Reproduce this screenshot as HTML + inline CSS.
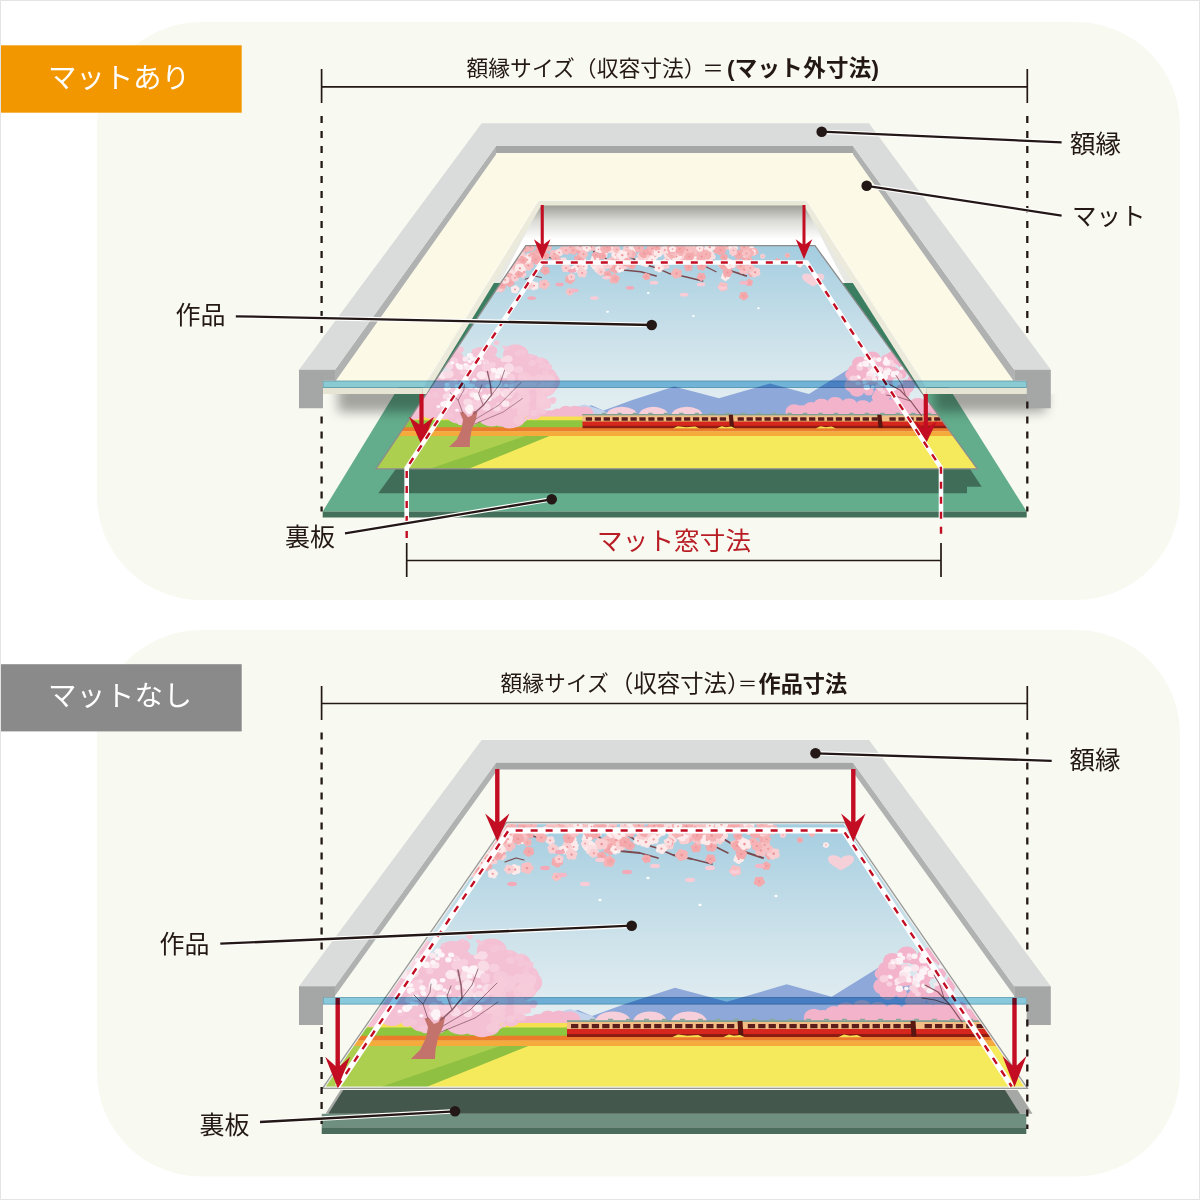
<!DOCTYPE html>
<html><head><meta charset="utf-8"><title>frame</title>
<style>html,body{margin:0;padding:0;width:1200px;height:1200px;overflow:hidden;background:#fff;font-family:"Liberation Sans",sans-serif}svg{display:block}</style>
</head><body>
<svg width="1200" height="1200" viewBox="0 0 1200 1200">
<defs><g id="bl0"><circle cx="0.53" cy="0.00" r="0.5" fill="#f5b3b5"/><circle cx="0.16" cy="0.50" r="0.5" fill="#f5b3b5"/><circle cx="-0.43" cy="0.31" r="0.5" fill="#f5b3b5"/><circle cx="-0.43" cy="-0.31" r="0.5" fill="#f5b3b5"/><circle cx="0.16" cy="-0.50" r="0.5" fill="#f5b3b5"/><circle r="0.22" fill="#ec979b"/></g>
<g id="bl1"><circle cx="0.53" cy="0.00" r="0.5" fill="#f7c0c3"/><circle cx="0.16" cy="0.50" r="0.5" fill="#f7c0c3"/><circle cx="-0.43" cy="0.31" r="0.5" fill="#f7c0c3"/><circle cx="-0.43" cy="-0.31" r="0.5" fill="#f7c0c3"/><circle cx="0.16" cy="-0.50" r="0.5" fill="#f7c0c3"/><circle r="0.22" fill="#ec979b"/></g>
<g id="bl2"><circle cx="0.53" cy="0.00" r="0.5" fill="#f9cfd2"/><circle cx="0.16" cy="0.50" r="0.5" fill="#f9cfd2"/><circle cx="-0.43" cy="0.31" r="0.5" fill="#f9cfd2"/><circle cx="-0.43" cy="-0.31" r="0.5" fill="#f9cfd2"/><circle cx="0.16" cy="-0.50" r="0.5" fill="#f9cfd2"/><circle r="0.22" fill="#ec979b"/></g>
<g id="bl3"><circle cx="0.53" cy="0.00" r="0.5" fill="#fbdfe0"/><circle cx="0.16" cy="0.50" r="0.5" fill="#fbdfe0"/><circle cx="-0.43" cy="0.31" r="0.5" fill="#fbdfe0"/><circle cx="-0.43" cy="-0.31" r="0.5" fill="#fbdfe0"/><circle cx="0.16" cy="-0.50" r="0.5" fill="#fbdfe0"/><circle r="0.22" fill="#ec979b"/></g>
<g id="bl4"><circle cx="0.53" cy="0.00" r="0.5" fill="#fdebeb"/><circle cx="0.16" cy="0.50" r="0.5" fill="#fdebeb"/><circle cx="-0.43" cy="0.31" r="0.5" fill="#fdebeb"/><circle cx="-0.43" cy="-0.31" r="0.5" fill="#fdebeb"/><circle cx="0.16" cy="-0.50" r="0.5" fill="#fdebeb"/><circle r="0.22" fill="#ec979b"/></g>
<g id="bl5"><circle cx="0.53" cy="0.00" r="0.5" fill="#f4a9ac"/><circle cx="0.16" cy="0.50" r="0.5" fill="#f4a9ac"/><circle cx="-0.43" cy="0.31" r="0.5" fill="#f4a9ac"/><circle cx="-0.43" cy="-0.31" r="0.5" fill="#f4a9ac"/><circle cx="0.16" cy="-0.50" r="0.5" fill="#f4a9ac"/><circle r="0.22" fill="#ec979b"/></g>
<clipPath id="win1"><polygon points="538.3,200.3 806.7,200.3 926.7,387.5 422.8,387.5 926.7,394.0 422.8,394.0"/></clipPath>
<linearGradient id="wsh" x1="0" y1="0" x2="0" y2="1"><stop offset="0" stop-color="#9d9d96"/><stop offset="0.45" stop-color="#d9d9d4"/><stop offset="1" stop-color="#fff"/></linearGradient>
<filter id="blur5" x="-30%" y="-100%" width="160%" height="300%"><feGaussianBlur stdDeviation="6"/></filter>
<filter id="blur3" x="-30%" y="-100%" width="160%" height="300%"><feGaussianBlur stdDeviation="3.5"/></filter>
<clipPath id="below1"><rect x="250" y="394" width="900" height="60"/></clipPath></defs>
<rect width="1200" height="1200" fill="#fff"/>
<rect x="97" y="22" width="1083" height="578" rx="104" fill="#f8f9f1"/>
<rect x="97" y="630" width="1083" height="546.5" rx="104" fill="#f8f9f1"/>
<rect x="0" y="45.3" width="241.7" height="67.4" fill="#f39700"/>
<rect x="0" y="664.2" width="241.7" height="67.2" fill="#8a8a8a"/>
<g id="d1">
<line x1="321.6" y1="116.0" x2="321.6" y2="334.0" stroke="#231815" stroke-width="2.3" stroke-dasharray="7 8"/>
<line x1="1027.3" y1="116.0" x2="1027.3" y2="334.0" stroke="#231815" stroke-width="2.3" stroke-dasharray="7 8"/>
<path d="M321.6 69.0V103.0M1027.3 69.0V103.0M321.6 86.8H1027.3" stroke="#231815" stroke-width="1.7" fill="none"/>
<polygon points="335.0,369.7 496.0,146.0 496.0,159.0 335.0,382.7" fill="#b0b2b2" /><polygon points="1014.2,369.7 853.0,146.0 853.0,159.0 1014.2,382.7" fill="#b0b2b2" /><polygon points="496.0,146.0 853.0,146.0 853.0,153.0 496.0,153.0" fill="#a5a7a7" /><polygon points="299.0,369.7 481.7,123.3 869.0,123.3 1050.8,369.7 1014.2,369.7 853.0,146.0 496.0,146.0 335.0,369.7" fill="#dadcdb" />
<polygon points="538.3,200.3 806.7,200.3 930.0,394.0 419.0,394.0" fill="#fff" />
<rect x="520" y="205" width="300" height="34" fill="url(#wsh)" clip-path="url(#win1)"/>
<polygon points="538.3,206.0 540.0,206.0 500.0,283.0 486.0,283.0" fill="#e9e9e4" clip-path="url(#win1)"/>
<polygon points="806.7,206.0 805.0,206.0 845.0,283.0 860.0,283.0" fill="#e9e9e4" clip-path="url(#win1)"/>
<polygon points="322.7,511.5 1026.7,511.5 883.0,283.0 462.4,283.0" fill="#63ad8c" />
<polygon points="322.7,511.5 1026.7,511.5 1026.7,517.5 322.7,517.5" fill="#44705b" />
<polygon points="462.4,283.0 883.0,283.0 960.0,400.0 390.0,400.0" fill="#3a7d60" clip-path="url(#win1)"/>
<polygon points="398.0,466.0 378.3,493.3 967.0,493.3 967.0,486.7 981.7,486.7 968.0,466.0" fill="#3f6d57" />
<g clip-path="url(#below1)">
<rect x="338" y="384" width="92" height="28" fill="#000" opacity="0.34" filter="url(#blur5)"/>
<rect x="934" y="384" width="112" height="28" fill="#000" opacity="0.34" filter="url(#blur5)"/>
</g>
<clipPath id="a1"><polygon points="525.8,245.7 815.0,245.7 977.3,468.8 376.0,468.8"/></clipPath><linearGradient id="a1sky" gradientUnits="userSpaceOnUse" x1="0" y1="245.7" x2="0" y2="472.0"><stop offset="0" stop-color="#a3cde0"/><stop offset="0.2" stop-color="#b8d7e5"/><stop offset="0.45" stop-color="#cfe3eb"/><stop offset="0.68" stop-color="#e0ecf0"/><stop offset="1" stop-color="#e6eff1"/></linearGradient><g clip-path="url(#a1)"><polygon points="525.8,245.7 815.0,245.7 977.3,468.8 376.0,468.8" fill="url(#a1sky)"/><polygon points="559.1,415.6 572.6,410.4 591.4,405.3 603.6,410.4 631.6,400.2 674.1,386.4 701.0,393.4 718.9,398.3 769.9,383.5 808.9,394.0 849.6,368.5 877.5,384.1 902.0,396.8 932.5,410.4 979.9,415.6" fill="#8ea8d9" /><polygon points="541.9,415.6 565.8,409.6 584.5,404.5 603.6,410.4 610.6,415.6" fill="#c3d3ec" /><ellipse cx="377.7" cy="413.5" rx="10.0" ry="5.4" fill="#f3b8ce" /><ellipse cx="388.3" cy="414.2" rx="7.9" ry="6.8" fill="#f3b8ce" /><ellipse cx="395.2" cy="414.5" rx="8.0" ry="5.4" fill="#f3b8ce" /><ellipse cx="406.7" cy="415.8" rx="8.2" ry="5.9" fill="#f3b8ce" /><ellipse cx="417.2" cy="416.2" rx="9.7" ry="6.5" fill="#f3b8ce" /><ellipse cx="428.3" cy="413.2" rx="10.7" ry="6.1" fill="#f3b8ce" /><ellipse cx="433.5" cy="413.4" rx="8.8" ry="7.9" fill="#f3b8ce" /><ellipse cx="443.2" cy="415.0" rx="9.9" ry="6.4" fill="#f3b8ce" /><ellipse cx="454.5" cy="413.2" rx="7.9" ry="5.8" fill="#f3b8ce" /><ellipse cx="464.6" cy="414.5" rx="8.8" ry="7.1" fill="#f3b8ce" /><ellipse cx="472.9" cy="414.0" rx="10.5" ry="7.5" fill="#f3b8ce" /><ellipse cx="481.3" cy="415.0" rx="9.5" ry="8.1" fill="#f3b8ce" /><ellipse cx="493.2" cy="414.0" rx="11.1" ry="5.5" fill="#f3b8ce" /><ellipse cx="501.1" cy="415.6" rx="8.3" ry="6.8" fill="#f3b8ce" /><ellipse cx="508.6" cy="415.3" rx="10.4" ry="7.1" fill="#f3b8ce" /><ellipse cx="522.3" cy="414.1" rx="10.1" ry="7.1" fill="#f3b8ce" /><ellipse cx="530.2" cy="414.6" rx="10.6" ry="8.3" fill="#f3b8ce" /><ellipse cx="539.2" cy="415.3" rx="7.9" ry="7.5" fill="#f3b8ce" /><ellipse cx="549.5" cy="416.4" rx="10.6" ry="6.1" fill="#f3b8ce" /><ellipse cx="557.6" cy="415.3" rx="7.8" ry="6.7" fill="#f3b8ce" /><ellipse cx="565.9" cy="413.4" rx="7.9" ry="7.7" fill="#f3b8ce" /><ellipse cx="575.1" cy="413.8" rx="9.1" ry="8.1" fill="#f3b8ce" /><ellipse cx="584.3" cy="414.5" rx="9.6" ry="8.1" fill="#f3b8ce" /><ellipse cx="621.8" cy="415.6" rx="15.5" ry="8.9" fill="#f7cfdb" /><ellipse cx="653.5" cy="415.6" rx="14.6" ry="8.9" fill="#f7cfdb" /><ellipse cx="687.0" cy="415.6" rx="15.5" ry="8.9" fill="#f7cfdb" /><ellipse cx="794.2" cy="411.7" rx="8.7" ry="7.4" fill="#f3b3cb" /><ellipse cx="802.1" cy="411.8" rx="11.0" ry="6.5" fill="#f3b3cb" /><ellipse cx="811.4" cy="409.5" rx="8.5" ry="7.6" fill="#f3b3cb" /><ellipse cx="823.9" cy="409.6" rx="7.7" ry="7.4" fill="#f3b3cb" /><ellipse cx="833.1" cy="410.7" rx="11.0" ry="8.3" fill="#f3b3cb" /><ellipse cx="844.1" cy="410.8" rx="10.1" ry="6.1" fill="#f3b3cb" /><ellipse cx="856.4" cy="411.4" rx="10.7" ry="8.7" fill="#f3b3cb" /><ellipse cx="864.1" cy="410.1" rx="8.1" ry="8.1" fill="#f3b3cb" /><ellipse cx="872.6" cy="409.0" rx="8.4" ry="6.5" fill="#f3b3cb" /><ellipse cx="884.4" cy="408.9" rx="7.7" ry="6.5" fill="#f3b3cb" /><ellipse cx="893.5" cy="410.0" rx="7.8" ry="8.9" fill="#f3b3cb" /><ellipse cx="906.4" cy="409.2" rx="8.6" ry="7.1" fill="#f3b3cb" /><ellipse cx="915.4" cy="409.2" rx="10.6" ry="9.3" fill="#f3b3cb" /><ellipse cx="926.3" cy="410.4" rx="8.0" ry="6.3" fill="#f3b3cb" /><ellipse cx="935.9" cy="409.6" rx="10.6" ry="6.5" fill="#f3b3cb" /><ellipse cx="944.7" cy="412.0" rx="9.5" ry="6.5" fill="#f3b3cb" /><ellipse cx="821.5" cy="403.8" rx="7.7" ry="5.1" fill="#f3b3cb" /><ellipse cx="835.2" cy="402.0" rx="7.7" ry="5.1" fill="#f3b3cb" /><ellipse cx="849.0" cy="403.7" rx="7.7" ry="5.1" fill="#f3b3cb" /><ellipse cx="862.8" cy="405.3" rx="7.7" ry="5.1" fill="#f3b3cb" /><ellipse cx="876.5" cy="404.9" rx="7.7" ry="5.1" fill="#f3b3cb" /><ellipse cx="890.2" cy="404.3" rx="7.7" ry="5.1" fill="#f3b3cb" /><ellipse cx="903.9" cy="402.8" rx="7.7" ry="5.1" fill="#f3b3cb" /><ellipse cx="917.7" cy="403.2" rx="7.7" ry="5.1" fill="#f3b3cb" /><polygon points="411.1,416.4 939.2,416.4 942.9,421.5 407.7,421.5" fill="#f5e04f"/><polygon points="408.6,420.2 941.9,420.2 947.8,428.3 403.1,428.3" fill="#8fc640"/><polygon points="403.8,427.3 947.1,427.3 950.2,431.6 401.0,431.6" fill="#ea7c2c"/><polygon points="401.1,431.3 950.0,431.3 953.6,436.2 397.8,436.2" fill="#f5ab3c"/><polygon points="398.0,436.0 953.4,436.0 980.0,472.6 373.4,472.6" fill="#f5e95c"/><polygon points="353.5,436.0 549.3,436.0 460.2,472.0 354.5,472.0" fill="#adcf4f" /><polygon points="525.3,436.0 549.3,436.0 460.2,472.0 420.6,472.0" fill="#8fc041" /><polygon points="582.2,414.1 988.4,414.1 988.5,415.8 582.3,415.8" fill="#7f9f8f" /><polygon points="582.2,415.6 988.5,415.6 988.7,421.7 582.4,421.7" fill="#f2bd84" /><polygon points="582.4,421.5 988.7,421.5 988.8,425.9 582.5,425.9" fill="#d7261d" /><polygon points="582.5,425.8 988.8,425.8 988.9,428.2 582.6,428.2" fill="#8c1c12" /><polygon points="585.7,417.3 592.0,417.3 592.1,420.8 585.8,420.8" fill="#5c1c1a" /><polygon points="594.7,417.3 600.9,417.3 601.0,420.8 594.8,420.8" fill="#5c1c1a" /><polygon points="603.6,417.3 609.9,417.3 610.0,420.8 603.7,420.8" fill="#5c1c1a" /><polygon points="612.5,417.3 618.8,417.3 618.9,420.8 612.6,420.8" fill="#5c1c1a" /><polygon points="621.5,417.3 627.7,417.3 627.8,420.8 621.6,420.8" fill="#5c1c1a" /><polygon points="630.4,417.3 636.7,417.3 636.8,420.8 630.5,420.8" fill="#5c1c1a" /><polygon points="639.3,417.3 645.6,417.3 645.7,420.8 639.4,420.8" fill="#5c1c1a" /><polygon points="648.3,417.3 654.5,417.3 654.6,420.8 648.4,420.8" fill="#5c1c1a" /><polygon points="657.2,417.3 663.5,417.3 663.6,420.8 657.3,420.8" fill="#5c1c1a" /><polygon points="666.1,417.3 672.4,417.3 672.5,420.8 666.2,420.8" fill="#5c1c1a" /><polygon points="675.1,417.3 681.3,417.3 681.4,420.8 675.2,420.8" fill="#5c1c1a" /><polygon points="684.0,417.3 690.3,417.3 690.4,420.8 684.1,420.8" fill="#5c1c1a" /><polygon points="692.9,417.3 699.2,417.3 699.3,420.8 693.0,420.8" fill="#5c1c1a" /><polygon points="701.8,417.3 708.1,417.3 708.2,420.8 702.0,420.8" fill="#5c1c1a" /><polygon points="710.8,417.3 717.1,417.3 717.2,420.8 710.9,420.8" fill="#5c1c1a" /><polygon points="719.7,417.3 726.0,417.3 726.1,420.8 719.8,420.8" fill="#5c1c1a" /><polygon points="737.6,417.3 743.8,417.3 744.0,420.8 737.7,420.8" fill="#5c1c1a" /><polygon points="746.5,417.3 752.8,417.3 752.9,420.8 746.6,420.8" fill="#5c1c1a" /><polygon points="755.4,417.3 761.7,417.3 761.8,420.8 755.6,420.8" fill="#5c1c1a" /><polygon points="764.4,417.3 770.6,417.3 770.8,420.8 764.5,420.8" fill="#5c1c1a" /><polygon points="773.3,417.3 779.6,417.3 779.7,420.8 773.4,420.8" fill="#5c1c1a" /><polygon points="782.2,417.3 788.5,417.3 788.6,420.8 782.3,420.8" fill="#5c1c1a" /><polygon points="791.2,417.3 797.4,417.3 797.6,420.8 791.3,420.8" fill="#5c1c1a" /><polygon points="800.1,417.3 806.4,417.3 806.5,420.8 800.2,420.8" fill="#5c1c1a" /><polygon points="809.0,417.3 815.3,417.3 815.4,420.8 809.1,420.8" fill="#5c1c1a" /><polygon points="818.0,417.3 824.2,417.3 824.4,420.8 818.1,420.8" fill="#5c1c1a" /><polygon points="826.9,417.3 833.2,417.3 833.3,420.8 827.0,420.8" fill="#5c1c1a" /><polygon points="835.8,417.3 842.1,417.3 842.2,420.8 835.9,420.8" fill="#5c1c1a" /><polygon points="844.8,417.3 851.0,417.3 851.1,420.8 844.9,420.8" fill="#5c1c1a" /><polygon points="853.7,417.3 860.0,417.3 860.1,420.8 853.8,420.8" fill="#5c1c1a" /><polygon points="862.6,417.3 868.9,417.3 869.0,420.8 862.7,420.8" fill="#5c1c1a" /><polygon points="871.6,417.3 877.8,417.3 877.9,420.8 871.7,420.8" fill="#5c1c1a" /><polygon points="889.4,417.3 895.7,417.3 895.8,420.8 889.5,420.8" fill="#5c1c1a" /><polygon points="898.4,417.3 904.6,417.3 904.7,420.8 898.5,420.8" fill="#5c1c1a" /><polygon points="907.3,417.3 913.6,417.3 913.7,420.8 907.4,420.8" fill="#5c1c1a" /><polygon points="916.2,417.3 922.5,417.3 922.6,420.8 916.3,420.8" fill="#5c1c1a" /><polygon points="925.2,417.3 931.4,417.3 931.5,420.8 925.3,420.8" fill="#5c1c1a" /><polygon points="934.1,417.3 940.4,417.3 940.5,420.8 934.2,420.8" fill="#5c1c1a" /><polygon points="943.0,417.3 949.3,417.3 949.4,420.8 943.1,420.8" fill="#5c1c1a" /><polygon points="952.0,417.3 958.2,417.3 958.3,420.8 952.1,420.8" fill="#5c1c1a" /><polygon points="960.9,417.3 967.2,417.3 967.3,420.8 961.0,420.8" fill="#5c1c1a" /><polygon points="969.8,417.3 976.1,417.3 976.2,420.8 969.9,420.8" fill="#5c1c1a" /><polygon points="978.7,417.3 985.0,417.3 985.1,420.8 978.9,420.8" fill="#5c1c1a" /><polygon points="987.7,417.3 994.0,417.3 994.1,420.8 987.8,420.8" fill="#5c1c1a" /><polygon points="728.7,414.7 732.9,414.7 734.2,427.9 729.9,427.9" fill="#5a1712" /><polygon points="877.2,414.7 881.5,414.7 882.8,427.9 878.5,427.9" fill="#5a1712" /><polygon points="601.9,412.8 606.2,412.8 606.3,414.3 602.0,414.3" fill="#8aa99a" /><polygon points="617.4,412.8 621.7,412.8 621.7,414.3 617.4,414.3" fill="#8aa99a" /><polygon points="632.8,412.8 637.1,412.8 637.2,414.3 632.9,414.3" fill="#8aa99a" /><polygon points="648.3,412.8 652.6,412.8 652.6,414.3 648.3,414.3" fill="#8aa99a" /><polygon points="663.8,412.8 668.0,412.8 668.1,414.3 663.8,414.3" fill="#8aa99a" /><polygon points="679.2,412.8 683.5,412.8 683.6,414.3 679.3,414.3" fill="#8aa99a" /><polygon points="694.7,412.8 699.0,412.8 699.0,414.3 694.7,414.3" fill="#8aa99a" /><polygon points="710.1,412.8 714.4,412.8 714.5,414.3 710.2,414.3" fill="#8aa99a" /><polygon points="725.6,412.8 729.9,412.8 729.9,414.3 725.6,414.3" fill="#8aa99a" /><polygon points="741.0,412.8 745.3,412.8 745.4,414.3 741.1,414.3" fill="#8aa99a" /><polygon points="756.5,412.8 760.8,412.8 760.8,414.3 756.6,414.3" fill="#8aa99a" /><polygon points="772.0,412.8 776.3,412.8 776.3,414.3 772.0,414.3" fill="#8aa99a" /><polygon points="787.4,412.8 791.7,412.8 791.8,414.3 787.5,414.3" fill="#8aa99a" /><polygon points="802.9,412.8 807.2,412.8 807.2,414.3 802.9,414.3" fill="#8aa99a" /><polygon points="818.3,412.8 822.6,412.8 822.7,414.3 818.4,414.3" fill="#8aa99a" /><polygon points="833.8,412.8 838.1,412.8 838.1,414.3 833.8,414.3" fill="#8aa99a" /><polygon points="849.3,412.8 853.6,412.8 853.6,414.3 849.3,414.3" fill="#8aa99a" /><polygon points="864.7,412.8 869.0,412.8 869.1,414.3 864.8,414.3" fill="#8aa99a" /><polygon points="880.2,412.8 884.5,412.8 884.5,414.3 880.2,414.3" fill="#8aa99a" /><polygon points="895.6,412.8 899.9,412.8 900.0,414.3 895.7,414.3" fill="#8aa99a" /><polygon points="911.1,412.8 915.4,412.8 915.4,414.3 911.1,414.3" fill="#8aa99a" /><polygon points="926.6,412.8 930.8,412.8 930.9,414.3 926.6,414.3" fill="#8aa99a" /><polygon points="942.0,412.8 946.3,412.8 946.4,414.3 942.1,414.3" fill="#8aa99a" /><polygon points="957.5,412.8 961.8,412.8 961.8,414.3 957.5,414.3" fill="#8aa99a" /><polygon points="972.9,412.8 977.2,412.8 977.3,414.3 973.0,414.3" fill="#8aa99a" /><polygon points="672.8,428.5 677.9,426.3 686.1,427.3 695.1,426.6 699.4,428.5" fill="#f5e04f" /><polygon points="716.6,428.5 721.7,426.3 726.0,427.3 731.2,426.6 735.5,428.5" fill="#f5e04f" /><polygon points="815.4,428.5 820.5,426.3 825.7,427.3 831.7,426.6 836.0,428.5" fill="#f5e04f" /><ellipse cx="897.3" cy="395.0" rx="6.6" ry="5.5" fill="#f3b4cb" /><ellipse cx="885.5" cy="365.6" rx="5.2" ry="4.4" fill="#f3b4cb" /><ellipse cx="894.0" cy="357.7" rx="8.0" ry="6.7" fill="#f3b4cb" /><ellipse cx="892.0" cy="359.3" rx="7.5" ry="6.3" fill="#f3b4cb" /><ellipse cx="886.4" cy="393.8" rx="5.8" ry="4.9" fill="#f3b4cb" /><ellipse cx="887.9" cy="378.8" rx="5.5" ry="4.6" fill="#f3b4cb" /><ellipse cx="881.5" cy="396.5" rx="8.4" ry="7.1" fill="#f3b4cb" /><ellipse cx="852.9" cy="385.1" rx="8.5" ry="7.2" fill="#f3b4cb" /><ellipse cx="901.3" cy="374.4" rx="5.2" ry="4.4" fill="#f3b4cb" /><ellipse cx="884.9" cy="387.8" rx="5.2" ry="4.4" fill="#f3b4cb" /><ellipse cx="860.0" cy="363.3" rx="7.9" ry="6.7" fill="#f3b4cb" /><ellipse cx="856.4" cy="380.4" rx="7.7" ry="6.5" fill="#f3b4cb" /><ellipse cx="905.6" cy="387.2" rx="8.2" ry="6.9" fill="#f3b4cb" /><ellipse cx="887.6" cy="359.3" rx="6.3" ry="5.3" fill="#f3b4cb" /><ellipse cx="895.6" cy="395.8" rx="5.7" ry="4.8" fill="#f3b4cb" /><ellipse cx="891.9" cy="357.4" rx="6.0" ry="5.1" fill="#f3b4cb" /><ellipse cx="857.0" cy="390.6" rx="7.4" ry="6.2" fill="#f3b4cb" /><ellipse cx="888.3" cy="385.0" rx="4.9" ry="4.2" fill="#f3b4cb" /><ellipse cx="906.3" cy="366.9" rx="4.9" ry="4.1" fill="#f3b4cb" /><ellipse cx="896.8" cy="358.7" rx="7.1" ry="6.0" fill="#f3b4cb" /><ellipse cx="868.7" cy="391.3" rx="4.9" ry="4.1" fill="#f3b4cb" /><ellipse cx="914.6" cy="380.0" rx="7.1" ry="6.0" fill="#f3b4cb" /><ellipse cx="851.3" cy="374.5" rx="6.2" ry="5.2" fill="#f3b4cb" /><ellipse cx="902.5" cy="363.6" rx="5.2" ry="4.4" fill="#f3b4cb" /><ellipse cx="882.7" cy="390.1" rx="5.3" ry="4.5" fill="#f3b4cb" /><ellipse cx="868.1" cy="372.3" rx="6.1" ry="5.1" fill="#f3b4cb" /><ellipse cx="904.1" cy="393.6" rx="5.8" ry="4.9" fill="#f3b4cb" /><ellipse cx="858.6" cy="382.5" rx="8.2" ry="6.9" fill="#f3b4cb" /><ellipse cx="855.4" cy="388.2" rx="6.4" ry="5.4" fill="#f3b4cb" /><ellipse cx="859.2" cy="374.9" rx="4.4" ry="3.7" fill="#f3b4cb" /><ellipse cx="869.6" cy="381.6" rx="4.3" ry="3.6" fill="#f3b4cb" /><ellipse cx="886.3" cy="369.3" rx="6.3" ry="5.3" fill="#f3b4cb" /><ellipse cx="878.2" cy="361.8" rx="5.7" ry="4.8" fill="#f3b4cb" /><ellipse cx="858.3" cy="376.2" rx="7.7" ry="6.5" fill="#f3b4cb" /><ellipse cx="902.0" cy="388.3" rx="5.4" ry="4.5" fill="#f3b4cb" /><ellipse cx="878.3" cy="397.3" rx="6.5" ry="5.5" fill="#f3b4cb" /><ellipse cx="855.9" cy="370.8" rx="8.2" ry="6.9" fill="#f3b4cb" /><ellipse cx="858.8" cy="384.1" rx="6.5" ry="5.4" fill="#f3b4cb" /><ellipse cx="855.4" cy="376.7" rx="6.2" ry="5.3" fill="#f3b4cb" /><ellipse cx="860.3" cy="374.9" rx="8.3" ry="7.0" fill="#f3b4cb" /><ellipse cx="872.3" cy="358.4" rx="8.3" ry="7.0" fill="#f3b4cb" /><ellipse cx="881.6" cy="394.6" rx="8.3" ry="7.0" fill="#f3b4cb" /><ellipse cx="888.7" cy="371.2" rx="4.8" ry="4.1" fill="#f3b4cb" /><ellipse cx="874.3" cy="380.2" rx="5.3" ry="4.5" fill="#f3b4cb" /><ellipse cx="906.7" cy="386.1" rx="7.7" ry="6.5" fill="#f3b4cb" /><ellipse cx="892.5" cy="372.8" rx="7.4" ry="6.2" fill="#f3b4cb" /><ellipse cx="871.5" cy="369.0" rx="3.7" ry="3.1" fill="#f8d2df" /><ellipse cx="882.9" cy="391.8" rx="2.5" ry="2.1" fill="#f8d2df" /><ellipse cx="889.3" cy="387.2" rx="2.1" ry="1.8" fill="#f8d2df" /><ellipse cx="894.7" cy="374.3" rx="2.6" ry="2.2" fill="#fdf3f6" /><ellipse cx="867.9" cy="388.5" rx="1.6" ry="1.3" fill="#f8d2df" /><ellipse cx="873.8" cy="375.6" rx="2.3" ry="2.0" fill="#fdf3f6" /><ellipse cx="870.3" cy="374.3" rx="3.9" ry="3.3" fill="#fdf3f6" /><ellipse cx="885.9" cy="373.7" rx="2.2" ry="1.8" fill="#fbe6ee" /><ellipse cx="886.8" cy="370.4" rx="3.4" ry="2.8" fill="#f8d2df" /><ellipse cx="890.1" cy="362.8" rx="3.8" ry="3.2" fill="#f8d2df" /><ellipse cx="893.2" cy="388.5" rx="2.9" ry="2.5" fill="#fdf3f6" /><ellipse cx="882.9" cy="377.0" rx="3.2" ry="2.7" fill="#f8d2df" /><ellipse cx="888.3" cy="369.0" rx="1.6" ry="1.3" fill="#fbe6ee" /><ellipse cx="879.6" cy="369.8" rx="3.6" ry="3.0" fill="#fbe6ee" /><ellipse cx="876.6" cy="380.9" rx="1.6" ry="1.3" fill="#f8d2df" /><ellipse cx="889.8" cy="370.6" rx="1.9" ry="1.6" fill="#fdf3f6" /><ellipse cx="902.0" cy="368.0" rx="2.2" ry="1.8" fill="#fdf3f6" /><ellipse cx="882.1" cy="384.2" rx="2.3" ry="1.9" fill="#fdf3f6" /><ellipse cx="872.8" cy="386.9" rx="2.0" ry="1.7" fill="#fdf3f6" /><ellipse cx="885.7" cy="357.9" rx="1.6" ry="1.4" fill="#fbe6ee" /><ellipse cx="874.6" cy="361.5" rx="2.0" ry="1.7" fill="#f8d2df" /><ellipse cx="878.1" cy="386.6" rx="3.1" ry="2.6" fill="#f8d2df" /><ellipse cx="865.6" cy="363.7" rx="3.7" ry="3.1" fill="#fdf3f6" /><ellipse cx="866.3" cy="358.3" rx="2.4" ry="2.0" fill="#fdf3f6" /><ellipse cx="864.0" cy="380.6" rx="1.7" ry="1.4" fill="#fdf3f6" /><ellipse cx="898.9" cy="376.0" rx="3.7" ry="3.1" fill="#f8d2df" /><ellipse cx="881.5" cy="379.1" rx="3.6" ry="3.0" fill="#fdf3f6" /><ellipse cx="858.3" cy="366.0" rx="1.7" ry="1.4" fill="#fdf3f6" /><ellipse cx="887.6" cy="384.7" rx="2.2" ry="1.8" fill="#fdf3f6" /><ellipse cx="897.2" cy="372.4" rx="2.1" ry="1.8" fill="#fdf3f6" /><ellipse cx="879.8" cy="382.2" rx="2.4" ry="2.0" fill="#fbe6ee" /><ellipse cx="858.1" cy="376.7" rx="2.0" ry="1.7" fill="#fbe6ee" /><ellipse cx="898.4" cy="383.4" rx="1.9" ry="1.6" fill="#fbe6ee" /><ellipse cx="865.6" cy="380.7" rx="3.1" ry="2.6" fill="#fbe6ee" /><ellipse cx="859.8" cy="368.0" rx="3.3" ry="2.8" fill="#f8d2df" /><ellipse cx="878.8" cy="359.6" rx="2.7" ry="2.3" fill="#fdf3f6" /><ellipse cx="873.2" cy="360.5" rx="1.7" ry="1.4" fill="#f8d2df" /><ellipse cx="874.2" cy="358.7" rx="1.9" ry="1.6" fill="#fbe6ee" /><ellipse cx="886.5" cy="362.6" rx="3.7" ry="3.1" fill="#fdf3f6" /><ellipse cx="882.1" cy="376.5" rx="3.1" ry="2.6" fill="#fbe6ee" /><ellipse cx="864.3" cy="383.1" rx="1.7" ry="1.4" fill="#fbe6ee" /><ellipse cx="861.0" cy="364.2" rx="2.7" ry="2.3" fill="#fbe6ee" /><ellipse cx="870.3" cy="376.0" rx="3.8" ry="3.2" fill="#fbe6ee" /><ellipse cx="873.3" cy="370.8" rx="3.3" ry="2.8" fill="#fdf3f6" /><ellipse cx="885.9" cy="359.4" rx="2.1" ry="1.8" fill="#fdf3f6" /><ellipse cx="880.4" cy="389.0" rx="2.7" ry="2.2" fill="#f8d2df" /><ellipse cx="900.7" cy="382.6" rx="2.2" ry="1.9" fill="#fbe6ee" /><ellipse cx="860.6" cy="365.1" rx="1.7" ry="1.5" fill="#fdf3f6" /><ellipse cx="866.7" cy="387.3" rx="3.2" ry="2.7" fill="#fdf3f6" /><ellipse cx="884.0" cy="375.0" rx="2.2" ry="1.8" fill="#fbe6ee" /><ellipse cx="868.7" cy="360.9" rx="2.2" ry="1.9" fill="#fdf3f6" /><ellipse cx="859.0" cy="377.4" rx="1.8" ry="1.5" fill="#fdf3f6" /><ellipse cx="874.3" cy="379.5" rx="2.7" ry="2.3" fill="#fdf3f6" /><ellipse cx="853.3" cy="378.8" rx="3.9" ry="3.3" fill="#f8d2df" /><ellipse cx="894.3" cy="374.3" rx="3.7" ry="3.2" fill="#fdf3f6" /><ellipse cx="884.7" cy="377.1" rx="3.3" ry="2.8" fill="#fdf3f6" /><ellipse cx="886.7" cy="372.8" rx="3.5" ry="3.0" fill="#fdf3f6" /><ellipse cx="894.4" cy="364.9" rx="2.1" ry="1.8" fill="#f8d2df" /><ellipse cx="868.7" cy="379.1" rx="3.8" ry="3.2" fill="#f8d2df" /><ellipse cx="858.1" cy="383.2" rx="2.5" ry="2.1" fill="#f8d2df" /><polyline points="921.5,415.6 910.7,401.1 900.0,390.0 888.7,384.1" fill="none" stroke="#8a5560" stroke-width="1.11" stroke-linecap="round" stroke-linejoin="round"/><polyline points="910.7,401.1 897.7,396.8 886.5,395.1" fill="none" stroke="#8a5560" stroke-width="0.86" stroke-linecap="round" stroke-linejoin="round"/><polyline points="905.4,395.1 901.6,384.1 896.1,375.5" fill="none" stroke="#8a5560" stroke-width="0.86" stroke-linecap="round" stroke-linejoin="round"/><ellipse cx="469.9" cy="419.5" rx="6.0" ry="4.8" fill="#f4c0d4" /><ellipse cx="490.5" cy="350.7" rx="6.8" ry="5.4" fill="#f4c0d4" /><ellipse cx="536.2" cy="371.8" rx="12.2" ry="9.7" fill="#f4c0d4" /><ellipse cx="482.8" cy="409.8" rx="8.7" ry="6.9" fill="#f4c0d4" /><ellipse cx="537.4" cy="386.4" rx="8.5" ry="6.7" fill="#f4c0d4" /><ellipse cx="463.1" cy="395.6" rx="6.3" ry="5.0" fill="#f4c0d4" /><ellipse cx="535.9" cy="407.9" rx="8.0" ry="6.3" fill="#f4c0d4" /><ellipse cx="518.6" cy="378.9" rx="7.8" ry="6.2" fill="#f4c0d4" /><ellipse cx="465.1" cy="385.4" rx="8.6" ry="6.8" fill="#f4c0d4" /><ellipse cx="545.3" cy="376.6" rx="11.6" ry="9.2" fill="#f4c0d4" /><ellipse cx="451.4" cy="359.2" rx="12.5" ry="9.9" fill="#f4c0d4" /><ellipse cx="442.4" cy="376.5" rx="6.3" ry="5.0" fill="#f4c0d4" /><ellipse cx="486.1" cy="360.5" rx="11.2" ry="8.9" fill="#f4c0d4" /><ellipse cx="471.0" cy="370.1" rx="6.3" ry="5.0" fill="#f4c0d4" /><ellipse cx="510.3" cy="380.4" rx="9.3" ry="7.3" fill="#f4c0d4" /><ellipse cx="473.5" cy="404.4" rx="11.1" ry="8.8" fill="#f4c0d4" /><ellipse cx="521.5" cy="383.6" rx="10.5" ry="8.3" fill="#f4c0d4" /><ellipse cx="477.9" cy="414.4" rx="8.7" ry="6.9" fill="#f4c0d4" /><ellipse cx="503.6" cy="400.3" rx="7.4" ry="5.9" fill="#f4c0d4" /><ellipse cx="526.0" cy="371.2" rx="7.5" ry="6.0" fill="#f4c0d4" /><ellipse cx="540.5" cy="364.9" rx="9.1" ry="7.2" fill="#f4c0d4" /><ellipse cx="508.5" cy="399.8" rx="6.6" ry="5.3" fill="#f4c0d4" /><ellipse cx="481.6" cy="396.5" rx="7.7" ry="6.1" fill="#f4c0d4" /><ellipse cx="489.7" cy="416.1" rx="12.1" ry="9.6" fill="#f4c0d4" /><ellipse cx="490.5" cy="361.4" rx="8.8" ry="7.0" fill="#f4c0d4" /><ellipse cx="454.7" cy="383.0" rx="8.3" ry="6.6" fill="#f4c0d4" /><ellipse cx="520.8" cy="394.4" rx="12.7" ry="10.0" fill="#f4c0d4" /><ellipse cx="521.8" cy="406.4" rx="10.3" ry="8.2" fill="#f4c0d4" /><ellipse cx="509.0" cy="372.8" rx="7.9" ry="6.2" fill="#f4c0d4" /><ellipse cx="492.3" cy="411.4" rx="9.1" ry="7.2" fill="#f4c0d4" /><ellipse cx="544.0" cy="376.3" rx="12.0" ry="9.5" fill="#f4c0d4" /><ellipse cx="502.0" cy="387.6" rx="10.9" ry="8.6" fill="#f4c0d4" /><ellipse cx="523.6" cy="370.2" rx="10.0" ry="8.0" fill="#f4c0d4" /><ellipse cx="528.9" cy="386.6" rx="12.4" ry="9.8" fill="#f4c0d4" /><ellipse cx="515.8" cy="354.4" rx="12.7" ry="10.1" fill="#f4c0d4" /><ellipse cx="491.8" cy="399.5" rx="7.1" ry="5.6" fill="#f4c0d4" /><ellipse cx="442.0" cy="382.1" rx="12.5" ry="9.9" fill="#f4c0d4" /><ellipse cx="481.8" cy="355.6" rx="11.3" ry="8.9" fill="#f4c0d4" /><ellipse cx="448.4" cy="394.3" rx="6.3" ry="5.0" fill="#f4c0d4" /><ellipse cx="496.6" cy="368.1" rx="12.3" ry="9.8" fill="#f4c0d4" /><ellipse cx="470.6" cy="369.5" rx="6.9" ry="5.5" fill="#f4c0d4" /><ellipse cx="491.6" cy="417.8" rx="10.8" ry="8.6" fill="#f4c0d4" /><ellipse cx="503.6" cy="393.3" rx="9.6" ry="7.6" fill="#f4c0d4" /><ellipse cx="458.4" cy="374.5" rx="7.5" ry="6.0" fill="#f4c0d4" /><ellipse cx="486.2" cy="384.2" rx="8.1" ry="6.4" fill="#f4c0d4" /><ellipse cx="434.4" cy="396.0" rx="10.4" ry="8.3" fill="#f4c0d4" /><ellipse cx="521.6" cy="368.6" rx="7.6" ry="6.0" fill="#f4c0d4" /><ellipse cx="493.2" cy="417.6" rx="8.1" ry="6.4" fill="#f4c0d4" /><ellipse cx="533.4" cy="390.4" rx="10.6" ry="8.4" fill="#f4c0d4" /><ellipse cx="464.8" cy="396.2" rx="10.6" ry="8.4" fill="#f4c0d4" /><ellipse cx="516.5" cy="378.2" rx="6.2" ry="5.0" fill="#f4c0d4" /><ellipse cx="471.4" cy="408.2" rx="10.7" ry="8.5" fill="#f4c0d4" /><ellipse cx="509.4" cy="419.7" rx="11.1" ry="8.8" fill="#f4c0d4" /><ellipse cx="464.0" cy="386.1" rx="12.7" ry="10.1" fill="#f4c0d4" /><ellipse cx="471.6" cy="419.4" rx="7.6" ry="6.0" fill="#f4c0d4" /><ellipse cx="501.6" cy="420.2" rx="8.0" ry="6.4" fill="#f4c0d4" /><ellipse cx="531.4" cy="378.4" rx="7.3" ry="5.8" fill="#f4c0d4" /><ellipse cx="498.4" cy="411.5" rx="10.6" ry="8.4" fill="#f4c0d4" /><ellipse cx="512.9" cy="381.9" rx="8.7" ry="6.9" fill="#f4c0d4" /><ellipse cx="505.9" cy="421.4" rx="6.4" ry="5.1" fill="#f4c0d4" /><ellipse cx="526.5" cy="395.7" rx="12.2" ry="9.7" fill="#f4c0d4" /><ellipse cx="528.9" cy="364.2" rx="12.9" ry="10.2" fill="#f4c0d4" /><ellipse cx="522.3" cy="377.2" rx="7.3" ry="5.8" fill="#f4c0d4" /><ellipse cx="538.6" cy="373.3" rx="6.2" ry="4.9" fill="#f4c0d4" /><ellipse cx="471.7" cy="365.9" rx="8.6" ry="6.8" fill="#f4c0d4" /><ellipse cx="479.5" cy="400.6" rx="6.0" ry="4.8" fill="#f4c0d4" /><ellipse cx="485.3" cy="409.4" rx="12.6" ry="10.0" fill="#f4c0d4" /><ellipse cx="534.1" cy="413.6" rx="7.4" ry="5.9" fill="#f4c0d4" /><ellipse cx="458.2" cy="414.4" rx="11.7" ry="9.2" fill="#f4c0d4" /><ellipse cx="479.2" cy="390.2" rx="9.3" ry="7.3" fill="#f4c0d4" /><ellipse cx="451.8" cy="413.5" rx="7.3" ry="5.8" fill="#f4c0d4" /><ellipse cx="454.6" cy="414.5" rx="6.2" ry="4.9" fill="#f4c0d4" /><ellipse cx="445.9" cy="405.4" rx="11.3" ry="8.9" fill="#f4c0d4" /><ellipse cx="502.2" cy="388.5" rx="6.4" ry="5.1" fill="#f4c0d4" /><ellipse cx="517.7" cy="377.0" rx="11.1" ry="8.8" fill="#f4c0d4" /><ellipse cx="519.0" cy="373.0" rx="7.9" ry="6.3" fill="#f4c0d4" /><ellipse cx="536.6" cy="378.5" rx="7.8" ry="6.2" fill="#f4c0d4" /><ellipse cx="483.6" cy="365.1" rx="7.9" ry="6.3" fill="#f4c0d4" /><ellipse cx="543.5" cy="387.4" rx="12.3" ry="9.8" fill="#f4c0d4" /><ellipse cx="451.6" cy="358.2" rx="6.2" ry="4.9" fill="#f4c0d4" /><ellipse cx="496.2" cy="413.5" rx="12.6" ry="10.0" fill="#f4c0d4" /><ellipse cx="526.9" cy="379.6" rx="7.7" ry="6.1" fill="#f4c0d4" /><ellipse cx="453.4" cy="398.3" rx="12.4" ry="9.8" fill="#f4c0d4" /><ellipse cx="514.2" cy="418.6" rx="11.1" ry="8.8" fill="#f4c0d4" /><ellipse cx="513.7" cy="355.7" rx="10.2" ry="8.1" fill="#f4c0d4" /><ellipse cx="475.8" cy="406.2" rx="8.5" ry="6.7" fill="#f4c0d4" /><ellipse cx="494.3" cy="375.8" rx="7.4" ry="5.8" fill="#f4c0d4" /><ellipse cx="491.2" cy="367.1" rx="6.5" ry="5.1" fill="#f4c0d4" /><ellipse cx="535.1" cy="392.8" rx="8.2" ry="6.5" fill="#f4c0d4" /><ellipse cx="547.2" cy="382.0" rx="12.8" ry="10.2" fill="#f4c0d4" /><ellipse cx="489.6" cy="390.0" rx="49.8" ry="32.4" fill="#f4c0d4" /><ellipse cx="428.1" cy="400.2" rx="9.4" ry="6.8" fill="#f4c0d4" /><ellipse cx="420.6" cy="407.9" rx="9.4" ry="6.8" fill="#f4c0d4" /><ellipse cx="434.8" cy="393.4" rx="8.6" ry="6.0" fill="#f4c0d4" /><ellipse cx="413.9" cy="413.8" rx="9.4" ry="6.0" fill="#f4c0d4" /><ellipse cx="440.2" cy="405.3" rx="10.3" ry="7.7" fill="#f4c0d4" /><ellipse cx="431.8" cy="412.1" rx="10.3" ry="6.8" fill="#f4c0d4" /><ellipse cx="479.8" cy="389.9" rx="2.5" ry="2.0" fill="#fbe9ef" /><ellipse cx="524.6" cy="379.4" rx="2.7" ry="2.2" fill="#f9dbe6" /><ellipse cx="450.7" cy="392.9" rx="4.5" ry="3.5" fill="#f7cfde" /><ellipse cx="442.5" cy="375.4" rx="4.8" ry="3.8" fill="#fbe9ef" /><ellipse cx="472.3" cy="402.5" rx="3.4" ry="2.7" fill="#f7cfde" /><ellipse cx="479.4" cy="400.6" rx="2.8" ry="2.2" fill="#f9dbe6" /><ellipse cx="505.4" cy="403.8" rx="4.1" ry="3.3" fill="#fbe9ef" /><ellipse cx="501.5" cy="387.2" rx="3.0" ry="2.4" fill="#f7cfde" /><ellipse cx="486.2" cy="407.3" rx="4.4" ry="3.5" fill="#f9dbe6" /><ellipse cx="505.8" cy="393.5" rx="5.0" ry="3.9" fill="#fbe9ef" /><ellipse cx="488.4" cy="378.5" rx="3.2" ry="2.5" fill="#f9dbe6" /><ellipse cx="513.9" cy="388.5" rx="5.0" ry="4.0" fill="#f9dbe6" /><ellipse cx="505.3" cy="374.0" rx="5.1" ry="4.1" fill="#fbe9ef" /><ellipse cx="449.0" cy="366.1" rx="4.4" ry="3.5" fill="#f9dbe6" /><ellipse cx="508.3" cy="395.3" rx="4.3" ry="3.4" fill="#f9dbe6" /><ellipse cx="506.2" cy="385.4" rx="2.3" ry="1.8" fill="#fbe9ef" /><ellipse cx="518.1" cy="387.4" rx="5.3" ry="4.2" fill="#f9dbe6" /><ellipse cx="492.3" cy="364.7" rx="3.4" ry="2.7" fill="#f7cfde" /><ellipse cx="473.5" cy="393.6" rx="4.9" ry="3.9" fill="#f7cfde" /><ellipse cx="452.5" cy="383.4" rx="4.9" ry="3.9" fill="#f7cfde" /><ellipse cx="446.7" cy="374.3" rx="2.5" ry="2.0" fill="#f9dbe6" /><ellipse cx="462.4" cy="390.5" rx="5.5" ry="4.4" fill="#f7cfde" /><ellipse cx="466.1" cy="407.9" rx="3.2" ry="2.6" fill="#f7cfde" /><ellipse cx="501.8" cy="369.1" rx="2.2" ry="1.8" fill="#fbe9ef" /><ellipse cx="463.2" cy="367.2" rx="3.5" ry="2.8" fill="#f9dbe6" /><ellipse cx="464.8" cy="386.1" rx="2.5" ry="2.0" fill="#f9dbe6" /><ellipse cx="446.3" cy="396.6" rx="3.7" ry="3.0" fill="#f9dbe6" /><ellipse cx="487.9" cy="386.3" rx="2.6" ry="2.1" fill="#fbe9ef" /><ellipse cx="511.0" cy="393.6" rx="3.4" ry="2.7" fill="#f7cfde" /><ellipse cx="493.7" cy="396.5" rx="2.7" ry="2.1" fill="#f9dbe6" /><ellipse cx="493.8" cy="377.2" rx="3.8" ry="3.0" fill="#f9dbe6" /><ellipse cx="468.5" cy="406.6" rx="2.3" ry="1.8" fill="#fbe9ef" /><ellipse cx="467.7" cy="402.2" rx="4.3" ry="3.4" fill="#f9dbe6" /><ellipse cx="509.4" cy="368.6" rx="5.0" ry="3.9" fill="#f9dbe6" /><ellipse cx="454.0" cy="360.8" rx="4.3" ry="3.4" fill="#f7cfde" /><ellipse cx="503.3" cy="359.8" rx="2.8" ry="2.2" fill="#f9dbe6" /><ellipse cx="522.8" cy="388.8" rx="2.7" ry="2.1" fill="#fbe9ef" /><ellipse cx="497.0" cy="391.5" rx="4.6" ry="3.7" fill="#f9dbe6" /><ellipse cx="513.3" cy="387.0" rx="4.7" ry="3.8" fill="#f9dbe6" /><ellipse cx="467.9" cy="367.2" rx="3.5" ry="2.8" fill="#fbe9ef" /><ellipse cx="447.0" cy="374.4" rx="3.2" ry="2.5" fill="#fbe9ef" /><ellipse cx="473.2" cy="395.0" rx="3.5" ry="2.8" fill="#fbe9ef" /><ellipse cx="453.1" cy="387.8" rx="2.2" ry="1.8" fill="#f7cfde" /><ellipse cx="511.1" cy="379.8" rx="3.7" ry="2.9" fill="#f7cfde" /><ellipse cx="485.9" cy="362.2" rx="2.8" ry="2.2" fill="#fbe9ef" /><ellipse cx="471.6" cy="385.9" rx="3.4" ry="2.7" fill="#fbe9ef" /><ellipse cx="506.0" cy="392.0" rx="3.9" ry="3.1" fill="#f9dbe6" /><ellipse cx="496.5" cy="384.1" rx="5.3" ry="4.2" fill="#fbe9ef" /><ellipse cx="485.8" cy="361.1" rx="2.3" ry="1.9" fill="#f7cfde" /><ellipse cx="508.9" cy="367.1" rx="4.8" ry="3.8" fill="#f9dbe6" /><ellipse cx="507.9" cy="358.9" rx="4.7" ry="3.7" fill="#f9dbe6" /><ellipse cx="496.9" cy="408.4" rx="3.8" ry="3.0" fill="#f9dbe6" /><ellipse cx="465.4" cy="358.9" rx="2.9" ry="2.3" fill="#fbe9ef" /><ellipse cx="463.3" cy="372.2" rx="3.3" ry="2.6" fill="#f7cfde" /><ellipse cx="475.2" cy="407.3" rx="2.6" ry="2.1" fill="#f7cfde" /><ellipse cx="510.8" cy="377.0" rx="4.2" ry="3.3" fill="#f7cfde" /><ellipse cx="455.6" cy="380.9" rx="2.3" ry="1.8" fill="#f9dbe6" /><ellipse cx="451.9" cy="394.7" rx="3.1" ry="2.5" fill="#fbe9ef" /><ellipse cx="495.1" cy="374.2" rx="4.8" ry="3.8" fill="#f9dbe6" /><ellipse cx="481.8" cy="375.2" rx="5.1" ry="4.0" fill="#fbe9ef" /><ellipse cx="448.6" cy="374.0" rx="5.2" ry="4.1" fill="#f9dbe6" /><ellipse cx="481.0" cy="402.7" rx="5.1" ry="4.0" fill="#f7cfde" /><ellipse cx="487.2" cy="367.3" rx="5.5" ry="4.4" fill="#f7cfde" /><ellipse cx="496.8" cy="394.7" rx="2.4" ry="1.9" fill="#f9dbe6" /><ellipse cx="498.5" cy="403.9" rx="2.3" ry="1.8" fill="#f7cfde" /><ellipse cx="480.6" cy="404.6" rx="5.5" ry="4.4" fill="#f7cfde" /><ellipse cx="518.5" cy="369.6" rx="4.7" ry="3.7" fill="#f7cfde" /><ellipse cx="497.7" cy="383.9" rx="4.3" ry="3.4" fill="#fbe9ef" /><ellipse cx="457.6" cy="390.1" rx="2.3" ry="1.8" fill="#fbe9ef" /><ellipse cx="486.6" cy="404.7" rx="2.2" ry="1.8" fill="#f9dbe6" /><ellipse cx="436.2" cy="369.8" rx="2.8" ry="2.2" fill="#f5c6d8" /><ellipse cx="440.6" cy="406.6" rx="2.4" ry="1.9" fill="#f5c6d8" /><ellipse cx="518.0" cy="353.4" rx="3.4" ry="2.7" fill="#f5c6d8" /><ellipse cx="474.0" cy="349.9" rx="1.9" ry="1.5" fill="#f5c6d8" /><ellipse cx="460.1" cy="349.6" rx="3.8" ry="3.0" fill="#f5c6d8" /><ellipse cx="552.7" cy="401.6" rx="2.9" ry="2.3" fill="#f5c6d8" /><ellipse cx="435.4" cy="367.2" rx="2.7" ry="2.1" fill="#f5c6d8" /><ellipse cx="521.1" cy="419.3" rx="1.6" ry="1.3" fill="#f5c6d8" /><ellipse cx="541.7" cy="412.3" rx="2.0" ry="1.6" fill="#f5c6d8" /><ellipse cx="438.8" cy="408.3" rx="3.0" ry="2.4" fill="#f5c6d8" /><ellipse cx="437.6" cy="407.4" rx="1.7" ry="1.3" fill="#f5c6d8" /><ellipse cx="443.5" cy="356.5" rx="2.7" ry="2.1" fill="#f5c6d8" /><ellipse cx="432.2" cy="376.9" rx="3.7" ry="2.9" fill="#f5c6d8" /><ellipse cx="547.2" cy="405.4" rx="3.9" ry="3.1" fill="#f5c6d8" /><ellipse cx="541.7" cy="359.0" rx="2.2" ry="1.7" fill="#f5c6d8" /><ellipse cx="551.4" cy="400.2" rx="3.1" ry="2.5" fill="#f5c6d8" /><ellipse cx="548.4" cy="367.0" rx="3.7" ry="2.9" fill="#f5c6d8" /><ellipse cx="536.0" cy="361.4" rx="1.9" ry="1.5" fill="#f5c6d8" /><ellipse cx="544.5" cy="364.7" rx="1.9" ry="1.5" fill="#f5c6d8" /><ellipse cx="541.2" cy="366.2" rx="2.9" ry="2.3" fill="#f5c6d8" /><ellipse cx="444.6" cy="416.6" rx="3.8" ry="3.0" fill="#f5c6d8" /><ellipse cx="524.1" cy="352.5" rx="2.8" ry="2.2" fill="#f5c6d8" /><ellipse cx="548.4" cy="388.4" rx="2.1" ry="1.7" fill="#f5c6d8" /><ellipse cx="538.9" cy="360.0" rx="2.9" ry="2.3" fill="#f5c6d8" /><ellipse cx="437.1" cy="371.5" rx="1.8" ry="1.4" fill="#f5c6d8" /><ellipse cx="448.3" cy="356.1" rx="3.2" ry="2.5" fill="#f5c6d8" /><ellipse cx="548.6" cy="394.7" rx="1.6" ry="1.3" fill="#f5c6d8" /><ellipse cx="544.0" cy="404.5" rx="3.3" ry="2.6" fill="#f5c6d8" /><ellipse cx="456.6" cy="350.1" rx="3.2" ry="2.5" fill="#f5c6d8" /><ellipse cx="447.8" cy="412.6" rx="1.6" ry="1.3" fill="#f5c6d8" /><ellipse cx="553.4" cy="373.3" rx="1.7" ry="1.4" fill="#f5c6d8" /><ellipse cx="490.7" cy="345.9" rx="1.9" ry="1.5" fill="#f5c6d8" /><ellipse cx="506.7" cy="348.4" rx="2.3" ry="1.8" fill="#f5c6d8" /><ellipse cx="553.1" cy="399.6" rx="3.3" ry="2.6" fill="#f5c6d8" /><ellipse cx="441.2" cy="363.0" rx="3.3" ry="2.6" fill="#f5c6d8" /><ellipse cx="504.0" cy="346.8" rx="1.8" ry="1.4" fill="#f5c6d8" /><ellipse cx="435.2" cy="394.6" rx="3.2" ry="2.5" fill="#f5c6d8" /><ellipse cx="519.7" cy="351.8" rx="2.6" ry="2.0" fill="#f5c6d8" /><ellipse cx="432.0" cy="380.3" rx="1.7" ry="1.3" fill="#f5c6d8" /><ellipse cx="458.9" cy="421.0" rx="3.5" ry="2.7" fill="#f5c6d8" /><ellipse cx="552.4" cy="377.6" rx="2.7" ry="2.2" fill="#f5c6d8" /><ellipse cx="439.1" cy="366.4" rx="3.7" ry="3.0" fill="#f5c6d8" /><ellipse cx="496.5" cy="342.8" rx="2.8" ry="2.3" fill="#f5c6d8" /><ellipse cx="539.5" cy="409.9" rx="3.7" ry="2.9" fill="#f5c6d8" /><ellipse cx="540.5" cy="361.2" rx="3.0" ry="2.4" fill="#f5c6d8" /><ellipse cx="450.5" cy="415.7" rx="2.8" ry="2.2" fill="#f5c6d8" /><ellipse cx="545.4" cy="372.3" rx="3.1" ry="2.5" fill="#f5c6d8" /><ellipse cx="445.4" cy="361.2" rx="2.8" ry="2.2" fill="#f5c6d8" /><ellipse cx="531.8" cy="356.2" rx="2.3" ry="1.8" fill="#f5c6d8" /><ellipse cx="429.5" cy="395.6" rx="2.1" ry="1.7" fill="#f5c6d8" /><ellipse cx="460.4" cy="423.0" rx="2.7" ry="2.2" fill="#f5c6d8" /><ellipse cx="443.0" cy="357.1" rx="3.2" ry="2.6" fill="#f5c6d8" /><ellipse cx="442.5" cy="363.0" rx="3.8" ry="3.0" fill="#f5c6d8" /><ellipse cx="524.6" cy="420.0" rx="1.9" ry="1.5" fill="#f5c6d8" /><ellipse cx="527.9" cy="418.3" rx="2.2" ry="1.7" fill="#f5c6d8" /><ellipse cx="542.9" cy="411.6" rx="3.6" ry="2.9" fill="#f5c6d8" /><ellipse cx="436.0" cy="396.3" rx="2.6" ry="2.0" fill="#f5c6d8" /><ellipse cx="550.3" cy="392.5" rx="1.6" ry="1.2" fill="#f5c6d8" /><ellipse cx="436.7" cy="364.1" rx="3.1" ry="2.5" fill="#f5c6d8" /><ellipse cx="452.6" cy="352.4" rx="2.9" ry="2.3" fill="#f5c6d8" /><ellipse cx="522.2" cy="377.0" rx="4.0" ry="3.1" fill="#f6cad9" opacity="0.8"/><ellipse cx="530.3" cy="384.9" rx="6.4" ry="5.1" fill="#f6cad9" opacity="0.8"/><ellipse cx="518.5" cy="404.7" rx="5.2" ry="4.1" fill="#f6cad9" opacity="0.8"/><ellipse cx="523.9" cy="397.1" rx="7.1" ry="5.6" fill="#f6cad9" opacity="0.8"/><ellipse cx="520.3" cy="387.8" rx="7.1" ry="5.6" fill="#f6cad9" opacity="0.8"/><ellipse cx="542.3" cy="389.7" rx="7.2" ry="5.7" fill="#f6cad9" opacity="0.8"/><ellipse cx="520.1" cy="406.6" rx="3.5" ry="2.8" fill="#f6cad9" opacity="0.8"/><ellipse cx="533.6" cy="413.1" rx="3.9" ry="3.1" fill="#f6cad9" opacity="0.8"/><ellipse cx="524.1" cy="377.1" rx="6.5" ry="5.2" fill="#f6cad9" opacity="0.8"/><ellipse cx="514.6" cy="404.9" rx="4.9" ry="3.9" fill="#f6cad9" opacity="0.8"/><ellipse cx="525.4" cy="407.4" rx="4.3" ry="3.4" fill="#f6cad9" opacity="0.8"/><ellipse cx="520.1" cy="387.6" rx="6.8" ry="5.4" fill="#f6cad9" opacity="0.8"/><ellipse cx="531.8" cy="381.1" rx="6.6" ry="5.3" fill="#f6cad9" opacity="0.8"/><ellipse cx="549.1" cy="384.5" rx="4.2" ry="3.4" fill="#f6cad9" opacity="0.8"/><ellipse cx="548.3" cy="389.5" rx="6.6" ry="5.2" fill="#f6cad9" opacity="0.8"/><ellipse cx="540.3" cy="396.5" rx="4.5" ry="3.6" fill="#f6cad9" opacity="0.8"/><ellipse cx="521.7" cy="384.2" rx="3.8" ry="3.0" fill="#f6cad9" opacity="0.8"/><ellipse cx="522.9" cy="412.8" rx="6.3" ry="5.0" fill="#f6cad9" opacity="0.8"/><ellipse cx="524.6" cy="391.4" rx="4.7" ry="3.8" fill="#f6cad9" opacity="0.8"/><ellipse cx="547.0" cy="379.8" rx="7.6" ry="6.0" fill="#f6cad9" opacity="0.8"/><ellipse cx="518.3" cy="420.4" rx="5.4" ry="4.3" fill="#f6cad9" opacity="0.8"/><ellipse cx="532.1" cy="363.1" rx="3.7" ry="3.0" fill="#f6cad9" opacity="0.8"/><ellipse cx="522.1" cy="400.8" rx="6.2" ry="4.9" fill="#f6cad9" opacity="0.8"/><ellipse cx="539.7" cy="405.2" rx="4.1" ry="3.2" fill="#f6cad9" opacity="0.8"/><ellipse cx="542.7" cy="401.4" rx="6.8" ry="5.4" fill="#f6cad9" opacity="0.8"/><ellipse cx="548.3" cy="380.7" rx="6.7" ry="5.3" fill="#f6cad9" opacity="0.8"/><ellipse cx="542.4" cy="399.9" rx="5.5" ry="4.3" fill="#f6cad9" opacity="0.8"/><ellipse cx="523.7" cy="401.0" rx="6.5" ry="5.1" fill="#f6cad9" opacity="0.8"/><ellipse cx="544.6" cy="404.1" rx="6.3" ry="5.0" fill="#f6cad9" opacity="0.8"/><ellipse cx="545.5" cy="386.8" rx="6.9" ry="5.4" fill="#f6cad9" opacity="0.8"/><ellipse cx="539.3" cy="378.1" rx="4.8" ry="3.8" fill="#f6cad9" opacity="0.8"/><ellipse cx="541.3" cy="387.2" rx="3.8" ry="3.0" fill="#f6cad9" opacity="0.8"/><ellipse cx="516.6" cy="402.6" rx="4.7" ry="3.8" fill="#f6cad9" opacity="0.8"/><ellipse cx="522.9" cy="384.1" rx="5.9" ry="4.6" fill="#f6cad9" opacity="0.8"/><ellipse cx="465.7" cy="364.7" rx="2.3" ry="1.8" fill="#fdf4f7" /><ellipse cx="460.2" cy="365.8" rx="2.4" ry="1.9" fill="#fdf4f7" /><ellipse cx="452.2" cy="362.7" rx="2.1" ry="1.7" fill="#fdf4f7" /><ellipse cx="460.2" cy="367.5" rx="2.9" ry="2.3" fill="#fdf4f7" /><ellipse cx="458.2" cy="366.9" rx="2.1" ry="1.6" fill="#fdf4f7" /><ellipse cx="457.4" cy="364.8" rx="2.1" ry="1.7" fill="#fdf4f7" /><ellipse cx="478.9" cy="362.6" rx="2.9" ry="2.3" fill="#fdf4f7" /><ellipse cx="482.1" cy="358.9" rx="1.9" ry="1.5" fill="#fdf4f7" /><ellipse cx="472.7" cy="358.5" rx="2.9" ry="2.3" fill="#fdf4f7" /><ellipse cx="469.5" cy="361.4" rx="2.1" ry="1.7" fill="#fdf4f7" /><ellipse cx="469.9" cy="355.3" rx="3.0" ry="2.4" fill="#fdf4f7" /><ellipse cx="480.9" cy="358.3" rx="2.5" ry="2.0" fill="#fdf4f7" /><ellipse cx="497.6" cy="376.4" rx="2.8" ry="2.2" fill="#fdf4f7" /><ellipse cx="493.7" cy="370.1" rx="3.0" ry="2.4" fill="#fdf4f7" /><ellipse cx="501.3" cy="370.1" rx="2.8" ry="2.3" fill="#fdf4f7" /><ellipse cx="500.8" cy="373.0" rx="2.3" ry="1.8" fill="#fdf4f7" /><ellipse cx="497.2" cy="372.4" rx="2.3" ry="1.8" fill="#fdf4f7" /><ellipse cx="500.4" cy="370.3" rx="3.6" ry="2.9" fill="#fdf4f7" /><ellipse cx="474.4" cy="380.0" rx="2.4" ry="1.9" fill="#fdf4f7" /><ellipse cx="476.1" cy="388.3" rx="1.8" ry="1.4" fill="#fdf4f7" /><ellipse cx="466.0" cy="383.9" rx="3.2" ry="2.6" fill="#fdf4f7" /><ellipse cx="466.7" cy="381.6" rx="3.1" ry="2.5" fill="#fdf4f7" /><ellipse cx="466.4" cy="380.6" rx="2.5" ry="2.0" fill="#fdf4f7" /><ellipse cx="469.9" cy="386.4" rx="3.0" ry="2.3" fill="#fdf4f7" /><ellipse cx="457.3" cy="386.5" rx="2.8" ry="2.2" fill="#fdf4f7" /><ellipse cx="447.0" cy="384.5" rx="2.4" ry="1.9" fill="#fdf4f7" /><ellipse cx="448.7" cy="388.3" rx="2.3" ry="1.8" fill="#fdf4f7" /><ellipse cx="458.5" cy="391.5" rx="2.3" ry="1.9" fill="#fdf4f7" /><ellipse cx="446.4" cy="388.2" rx="2.4" ry="1.9" fill="#fdf4f7" /><ellipse cx="446.2" cy="390.1" rx="1.9" ry="1.5" fill="#fdf4f7" /><ellipse cx="452.6" cy="400.1" rx="2.0" ry="1.6" fill="#fdf4f7" /><ellipse cx="443.8" cy="404.1" rx="3.6" ry="2.9" fill="#fdf4f7" /><ellipse cx="446.5" cy="402.8" rx="2.5" ry="2.0" fill="#fdf4f7" /><ellipse cx="438.4" cy="406.4" rx="1.9" ry="1.5" fill="#fdf4f7" /><ellipse cx="449.4" cy="399.9" rx="2.6" ry="2.1" fill="#fdf4f7" /><ellipse cx="446.0" cy="402.6" rx="2.7" ry="2.1" fill="#fdf4f7" /><ellipse cx="485.8" cy="401.0" rx="2.0" ry="1.6" fill="#fdf4f7" /><ellipse cx="476.5" cy="395.5" rx="3.4" ry="2.7" fill="#fdf4f7" /><ellipse cx="484.9" cy="396.6" rx="2.9" ry="2.3" fill="#fdf4f7" /><ellipse cx="488.7" cy="398.7" rx="3.0" ry="2.4" fill="#fdf4f7" /><ellipse cx="489.6" cy="395.2" rx="1.9" ry="1.5" fill="#fdf4f7" /><ellipse cx="477.4" cy="397.8" rx="3.4" ry="2.7" fill="#fdf4f7" /><ellipse cx="469.9" cy="406.9" rx="3.1" ry="2.4" fill="#fdf4f7" /><ellipse cx="457.0" cy="410.2" rx="1.8" ry="1.4" fill="#fdf4f7" /><ellipse cx="470.8" cy="409.6" rx="2.8" ry="2.2" fill="#fdf4f7" /><ellipse cx="469.5" cy="411.9" rx="2.7" ry="2.1" fill="#fdf4f7" /><ellipse cx="467.4" cy="408.8" rx="2.5" ry="2.0" fill="#fdf4f7" /><ellipse cx="467.2" cy="410.4" rx="1.8" ry="1.5" fill="#fdf4f7" /><polygon points="449.0,447.1 456.7,439.4 461.5,429.2 463.0,419.8 459.8,412.6 463.2,411.7 468.1,417.3 471.9,415.6 473.9,410.9 477.4,411.7 475.9,419.8 471.8,429.2 470.0,439.4 469.8,447.1" fill="#c4736c" /><polyline points="474.0,413.8 483.2,405.3 491.5,395.1 490.3,384.1 487.4,371.3" fill="none" stroke="#8d5d69" stroke-width="1.28" stroke-linecap="round" stroke-linejoin="round"/><polyline points="475.8,419.0 498.6,405.3 521.2,382.3" fill="none" stroke="#8d5d69" stroke-width="0.68" stroke-linecap="round" stroke-linejoin="round"/><polyline points="474.3,424.1 503.1,412.1 522.5,398.5" fill="none" stroke="#8d5d69" stroke-width="0.68" stroke-linecap="round" stroke-linejoin="round"/><polyline points="462.8,413.0 458.1,400.2 450.2,392.6" fill="none" stroke="#8d5d69" stroke-width="0.77" stroke-linecap="round" stroke-linejoin="round"/><polyline points="483.2,405.3 478.6,393.4 481.8,384.9" fill="none" stroke="#8d5d69" stroke-width="0.77" stroke-linecap="round" stroke-linejoin="round"/><polyline points="491.5,395.1 499.8,384.1 504.5,370.4" fill="none" stroke="#8d5d69" stroke-width="0.77" stroke-linecap="round" stroke-linejoin="round"/><polyline points="458.1,400.2 463.9,390.0 464.5,383.2" fill="none" stroke="#8d5d69" stroke-width="0.68" stroke-linecap="round" stroke-linejoin="round"/><polyline points="591.1,246.1 594.7,252.9 597.5,258.9" fill="none" stroke="#7b4a50" stroke-width="1.71" stroke-linecap="round" stroke-linejoin="round"/><polyline points="602.5,255.5 612.2,264.9 623.5,270.0 640.7,271.7 656.2,275.9" fill="none" stroke="#7b4a50" stroke-width="1.54" stroke-linecap="round" stroke-linejoin="round"/><polyline points="628.2,255.5 640.4,263.2 655.1,267.4 669.0,273.4 685.4,276.8 702.7,281.0" fill="none" stroke="#7b4a50" stroke-width="1.54" stroke-linecap="round" stroke-linejoin="round"/><polyline points="672.5,246.1 691.5,253.8 710.5,258.9 730.6,270.8 746.2,275.9" fill="none" stroke="#7b4a50" stroke-width="1.71" stroke-linecap="round" stroke-linejoin="round"/><polyline points="691.5,253.8 702.2,264.9 716.1,271.7" fill="none" stroke="#7b4a50" stroke-width="1.20" stroke-linecap="round" stroke-linejoin="round"/><polyline points="537.5,258.9 547.8,257.2 555.5,258.9" fill="none" stroke="#7b4a50" stroke-width="1.11" stroke-linecap="round" stroke-linejoin="round"/><polyline points="525.2,279.3 534.5,275.9 541.4,277.6" fill="none" stroke="#7b4a50" stroke-width="1.03" stroke-linecap="round" stroke-linejoin="round"/><use href="#bl5" transform="translate(694.4 249.9) scale(3.61 3.30) rotate(63)"/><use href="#bl2" transform="translate(653.4 252.7) scale(4.38 4.01) rotate(23)"/><use href="#bl1" transform="translate(612.9 260.6) scale(4.70 4.30) rotate(55)"/><use href="#bl4" transform="translate(676.6 253.2) scale(4.78 4.37) rotate(29)"/><use href="#bl2" transform="translate(627.0 247.9) scale(3.78 3.46) rotate(41)"/><use href="#bl4" transform="translate(634.7 247.0) scale(5.59 5.11) rotate(31)"/><use href="#bl1" transform="translate(693.3 251.4) scale(5.57 5.09) rotate(54)"/><use href="#bl0" transform="translate(534.1 255.7) scale(5.43 4.97) rotate(3)"/><use href="#bl4" transform="translate(598.5 249.3) scale(3.69 3.38) rotate(63)"/><use href="#bl4" transform="translate(595.0 265.9) scale(4.21 3.85) rotate(39)"/><use href="#bl3" transform="translate(648.8 257.6) scale(4.70 4.30) rotate(66)"/><use href="#bl5" transform="translate(649.2 252.2) scale(5.29 4.84) rotate(55)"/><use href="#bl2" transform="translate(639.8 260.5) scale(4.40 4.02) rotate(5)"/><use href="#bl2" transform="translate(566.1 268.0) scale(4.82 4.41) rotate(57)"/><use href="#bl5" transform="translate(614.8 268.1) scale(5.55 5.07) rotate(8)"/><use href="#bl0" transform="translate(675.3 246.4) scale(4.68 4.28) rotate(52)"/><use href="#bl3" transform="translate(679.8 249.1) scale(4.37 3.99) rotate(71)"/><use href="#bl1" transform="translate(522.7 247.6) scale(5.50 5.04) rotate(24)"/><use href="#bl3" transform="translate(674.3 252.9) scale(5.58 5.10) rotate(51)"/><use href="#bl4" transform="translate(583.7 266.4) scale(4.50 4.12) rotate(43)"/><use href="#bl5" transform="translate(569.9 279.3) scale(5.02 4.59) rotate(11)"/><use href="#bl2" transform="translate(665.8 265.3) scale(3.95 3.61) rotate(46)"/><use href="#bl2" transform="translate(624.0 260.3) scale(5.61 5.13) rotate(65)"/><use href="#bl5" transform="translate(646.4 276.6) scale(3.96 3.62) rotate(37)"/><use href="#bl4" transform="translate(598.5 266.1) scale(5.02 4.59) rotate(53)"/><use href="#bl4" transform="translate(534.0 285.7) scale(4.90 4.48) rotate(37)"/><use href="#bl1" transform="translate(687.4 257.4) scale(5.27 4.82) rotate(64)"/><use href="#bl3" transform="translate(600.0 269.7) scale(5.43 4.97) rotate(23)"/><use href="#bl4" transform="translate(655.0 256.3) scale(3.72 3.40) rotate(13)"/><use href="#bl5" transform="translate(650.5 249.3) scale(4.32 3.95) rotate(5)"/><use href="#bl0" transform="translate(573.1 250.3) scale(5.02 4.59) rotate(0)"/><use href="#bl5" transform="translate(631.9 265.5) scale(4.23 3.87) rotate(70)"/><use href="#bl2" transform="translate(659.8 267.7) scale(3.61 3.30) rotate(50)"/><use href="#bl4" transform="translate(645.6 262.3) scale(5.33 4.87) rotate(1)"/><use href="#bl1" transform="translate(514.9 266.2) scale(4.97 4.55) rotate(22)"/><use href="#bl4" transform="translate(619.8 268.5) scale(4.62 4.23) rotate(34)"/><use href="#bl4" transform="translate(691.2 246.4) scale(5.39 4.93) rotate(65)"/><use href="#bl4" transform="translate(581.2 261.9) scale(5.65 5.16) rotate(25)"/><use href="#bl0" transform="translate(653.6 247.6) scale(4.44 4.06) rotate(18)"/><use href="#bl4" transform="translate(638.7 261.3) scale(3.92 3.58) rotate(13)"/><use href="#bl0" transform="translate(570.7 247.2) scale(3.66 3.34) rotate(21)"/><use href="#bl3" transform="translate(681.2 253.3) scale(5.54 5.07) rotate(59)"/><use href="#bl0" transform="translate(652.1 248.4) scale(4.86 4.44) rotate(1)"/><use href="#bl4" transform="translate(537.8 260.2) scale(5.00 4.58) rotate(41)"/><use href="#bl1" transform="translate(675.7 253.2) scale(3.89 3.56) rotate(45)"/><use href="#bl0" transform="translate(691.1 246.4) scale(4.16 3.81) rotate(34)"/><use href="#bl4" transform="translate(658.9 268.0) scale(4.89 4.47) rotate(8)"/><use href="#bl3" transform="translate(603.8 253.9) scale(4.31 3.95) rotate(49)"/><use href="#bl1" transform="translate(610.4 262.7) scale(3.64 3.33) rotate(50)"/><use href="#bl0" transform="translate(581.9 250.7) scale(4.79 4.39) rotate(56)"/><use href="#bl1" transform="translate(656.7 252.7) scale(3.71 3.39) rotate(31)"/><use href="#bl1" transform="translate(569.7 291.8) scale(4.06 3.71) rotate(22)"/><use href="#bl3" transform="translate(522.7 268.5) scale(4.25 3.88) rotate(38)"/><use href="#bl2" transform="translate(682.3 258.0) scale(4.46 4.08) rotate(63)"/><use href="#bl0" transform="translate(619.9 260.5) scale(5.61 5.13) rotate(31)"/><use href="#bl5" transform="translate(611.0 247.0) scale(4.99 4.56) rotate(28)"/><use href="#bl3" transform="translate(610.3 249.4) scale(4.45 4.07) rotate(62)"/><use href="#bl1" transform="translate(584.9 250.6) scale(3.64 3.33) rotate(11)"/><use href="#bl2" transform="translate(607.5 247.8) scale(3.95 3.62) rotate(48)"/><use href="#bl2" transform="translate(571.4 276.9) scale(3.98 3.64) rotate(50)"/><use href="#bl0" transform="translate(604.8 249.2) scale(4.75 4.35) rotate(42)"/><use href="#bl3" transform="translate(528.8 257.8) scale(4.69 4.29) rotate(42)"/><use href="#bl0" transform="translate(660.0 250.4) scale(4.42 4.05) rotate(15)"/><use href="#bl2" transform="translate(578.1 266.5) scale(4.47 4.08) rotate(70)"/><use href="#bl1" transform="translate(655.2 252.4) scale(4.10 3.75) rotate(59)"/><use href="#bl1" transform="translate(681.6 253.4) scale(4.18 3.82) rotate(55)"/><use href="#bl5" transform="translate(602.6 255.9) scale(3.67 3.36) rotate(3)"/><use href="#bl1" transform="translate(597.1 257.1) scale(4.30 3.93) rotate(30)"/><use href="#bl0" transform="translate(526.6 247.9) scale(5.05 4.62) rotate(25)"/><use href="#bl1" transform="translate(563.3 249.9) scale(4.15 3.80) rotate(71)"/><use href="#bl1" transform="translate(623.5 254.2) scale(4.51 4.12) rotate(20)"/><use href="#bl1" transform="translate(671.9 250.9) scale(4.35 3.98) rotate(51)"/><use href="#bl4" transform="translate(615.8 254.8) scale(4.37 4.00) rotate(26)"/><use href="#bl3" transform="translate(682.0 250.6) scale(4.21 3.85) rotate(64)"/><use href="#bl3" transform="translate(563.4 260.9) scale(4.02 3.67) rotate(16)"/><use href="#bl2" transform="translate(620.9 255.2) scale(5.53 5.06) rotate(56)"/><use href="#bl2" transform="translate(624.1 265.0) scale(4.81 4.39) rotate(68)"/><use href="#bl4" transform="translate(574.5 268.9) scale(4.10 3.75) rotate(65)"/><use href="#bl0" transform="translate(694.7 248.2) scale(4.03 3.69) rotate(65)"/><use href="#bl2" transform="translate(518.0 249.1) scale(3.78 3.46) rotate(49)"/><use href="#bl5" transform="translate(579.7 251.2) scale(3.66 3.34) rotate(18)"/><use href="#bl3" transform="translate(667.6 260.5) scale(4.24 3.87) rotate(11)"/><use href="#bl1" transform="translate(676.6 257.9) scale(5.03 4.60) rotate(41)"/><use href="#bl0" transform="translate(681.7 259.6) scale(3.98 3.64) rotate(8)"/><use href="#bl2" transform="translate(641.8 256.3) scale(4.75 4.35) rotate(64)"/><use href="#bl1" transform="translate(554.6 254.0) scale(5.16 4.72) rotate(8)"/><use href="#bl0" transform="translate(528.5 264.7) scale(5.08 4.64) rotate(28)"/><use href="#bl5" transform="translate(545.4 255.8) scale(4.19 3.83) rotate(51)"/><use href="#bl3" transform="translate(668.1 252.6) scale(4.18 3.82) rotate(59)"/><use href="#bl5" transform="translate(644.4 253.4) scale(5.19 4.75) rotate(16)"/><use href="#bl1" transform="translate(544.2 284.4) scale(5.53 5.05) rotate(3)"/><use href="#bl5" transform="translate(522.8 261.4) scale(4.35 3.98) rotate(44)"/><use href="#bl0" transform="translate(614.2 278.8) scale(5.44 4.98) rotate(59)"/><use href="#bl3" transform="translate(559.2 252.6) scale(4.11 3.76) rotate(45)"/><use href="#bl0" transform="translate(606.0 247.8) scale(5.46 4.99) rotate(23)"/><use href="#bl2" transform="translate(601.2 271.9) scale(4.20 3.84) rotate(28)"/><use href="#bl0" transform="translate(530.1 246.9) scale(5.06 4.63) rotate(51)"/><use href="#bl1" transform="translate(548.2 247.8) scale(3.68 3.36) rotate(55)"/><use href="#bl2" transform="translate(649.6 258.5) scale(4.00 3.66) rotate(19)"/><use href="#bl0" transform="translate(631.9 254.3) scale(4.38 4.01) rotate(70)"/><use href="#bl5" transform="translate(598.5 256.7) scale(4.24 3.87) rotate(22)"/><use href="#bl1" transform="translate(580.8 257.6) scale(4.76 4.35) rotate(63)"/><use href="#bl2" transform="translate(582.1 273.0) scale(5.07 4.64) rotate(55)"/><use href="#bl4" transform="translate(680.1 254.3) scale(4.97 4.55) rotate(44)"/><use href="#bl0" transform="translate(676.6 273.4) scale(5.52 5.05) rotate(36)"/><use href="#bl4" transform="translate(658.7 252.0) scale(5.45 4.98) rotate(6)"/><use href="#bl5" transform="translate(540.5 249.6) scale(5.60 5.12) rotate(14)"/><use href="#bl2" transform="translate(625.5 251.1) scale(3.67 3.36) rotate(26)"/><use href="#bl2" transform="translate(580.2 246.3) scale(5.19 4.75) rotate(11)"/><use href="#bl5" transform="translate(688.5 267.3) scale(4.46 4.07) rotate(50)"/><use href="#bl4" transform="translate(682.0 248.1) scale(5.65 5.17) rotate(28)"/><use href="#bl0" transform="translate(525.4 248.6) scale(4.17 3.82) rotate(44)"/><use href="#bl3" transform="translate(690.6 250.0) scale(5.54 5.07) rotate(56)"/><use href="#bl5" transform="translate(533.1 257.7) scale(5.51 5.04) rotate(64)"/><use href="#bl5" transform="translate(579.2 259.0) scale(5.12 4.68) rotate(57)"/><use href="#bl5" transform="translate(545.3 270.5) scale(4.64 4.25) rotate(26)"/><use href="#bl4" transform="translate(595.0 258.9) scale(4.48 4.10) rotate(16)"/><use href="#bl1" transform="translate(539.3 258.1) scale(4.60 4.21) rotate(5)"/><use href="#bl4" transform="translate(588.5 246.2) scale(5.55 5.08) rotate(33)"/><use href="#bl1" transform="translate(616.7 249.5) scale(3.95 3.62) rotate(30)"/><use href="#bl1" transform="translate(566.2 250.4) scale(4.71 4.31) rotate(7)"/><use href="#bl2" transform="translate(532.0 259.0) scale(3.94 3.61) rotate(52)"/><use href="#bl5" transform="translate(595.7 255.0) scale(3.79 3.46) rotate(39)"/><use href="#bl5" transform="translate(606.1 247.1) scale(3.88 3.55) rotate(62)"/><use href="#bl1" transform="translate(627.9 253.7) scale(4.97 4.55) rotate(30)"/><use href="#bl5" transform="translate(615.5 278.8) scale(3.61 3.30) rotate(56)"/><use href="#bl5" transform="translate(665.7 262.1) scale(3.87 3.54) rotate(44)"/><use href="#bl1" transform="translate(690.6 259.9) scale(5.03 4.60) rotate(18)"/><use href="#bl1" transform="translate(591.1 247.0) scale(4.80 4.39) rotate(42)"/><use href="#bl0" transform="translate(555.7 258.5) scale(4.89 4.47) rotate(70)"/><use href="#bl1" transform="translate(583.5 254.2) scale(4.47 4.09) rotate(19)"/><use href="#bl3" transform="translate(664.8 250.0) scale(4.83 4.42) rotate(51)"/><use href="#bl0" transform="translate(692.0 256.7) scale(5.31 4.85) rotate(37)"/><use href="#bl3" transform="translate(593.4 263.6) scale(3.62 3.31) rotate(26)"/><use href="#bl2" transform="translate(605.4 262.4) scale(3.69 3.37) rotate(38)"/><use href="#bl5" transform="translate(656.9 247.1) scale(4.00 3.66) rotate(39)"/><use href="#bl0" transform="translate(685.3 248.8) scale(4.52 4.13) rotate(20)"/><use href="#bl3" transform="translate(519.4 262.8) scale(4.26 3.90) rotate(46)"/><use href="#bl4" transform="translate(586.8 247.8) scale(4.19 3.83) rotate(9)"/><use href="#bl3" transform="translate(667.0 254.2) scale(3.69 3.38) rotate(62)"/><use href="#bl5" transform="translate(607.6 247.3) scale(3.77 3.45) rotate(42)"/><use href="#bl4" transform="translate(622.3 255.1) scale(5.61 5.13) rotate(33)"/><use href="#bl3" transform="translate(664.6 262.3) scale(3.82 3.49) rotate(55)"/><use href="#bl4" transform="translate(652.1 260.1) scale(4.60 4.21) rotate(41)"/><use href="#bl0" transform="translate(544.2 262.8) scale(3.61 3.31) rotate(36)"/><use href="#bl5" transform="translate(627.7 262.3) scale(4.89 4.47) rotate(32)"/><use href="#bl0" transform="translate(546.9 247.0) scale(4.94 4.52) rotate(17)"/><use href="#bl0" transform="translate(639.0 248.0) scale(5.13 4.69) rotate(50)"/><use href="#bl2" transform="translate(607.7 264.2) scale(5.32 4.87) rotate(47)"/><use href="#bl5" transform="translate(607.7 274.2) scale(3.98 3.64) rotate(67)"/><use href="#bl5" transform="translate(699.8 249.7) scale(5.33 4.88) rotate(21)"/><use href="#bl5" transform="translate(751.8 273.8) scale(3.81 3.48) rotate(39)"/><use href="#bl2" transform="translate(678.0 259.8) scale(5.12 4.69) rotate(48)"/><use href="#bl2" transform="translate(681.6 255.4) scale(3.98 3.64) rotate(40)"/><use href="#bl1" transform="translate(726.9 246.3) scale(4.07 3.72) rotate(70)"/><use href="#bl2" transform="translate(755.1 272.2) scale(5.49 5.02) rotate(30)"/><use href="#bl0" transform="translate(673.1 249.6) scale(3.71 3.40) rotate(51)"/><use href="#bl1" transform="translate(744.1 269.5) scale(5.46 4.99) rotate(63)"/><use href="#bl5" transform="translate(701.3 276.7) scale(4.47 4.08) rotate(20)"/><use href="#bl4" transform="translate(676.3 256.3) scale(5.64 5.16) rotate(10)"/><use href="#bl1" transform="translate(700.5 246.9) scale(3.89 3.56) rotate(20)"/><use href="#bl5" transform="translate(749.2 282.6) scale(3.88 3.55) rotate(51)"/><use href="#bl0" transform="translate(737.1 261.9) scale(3.78 3.46) rotate(56)"/><use href="#bl1" transform="translate(747.4 264.7) scale(4.58 4.19) rotate(47)"/><use href="#bl4" transform="translate(695.3 261.3) scale(3.60 3.30) rotate(65)"/><use href="#bl2" transform="translate(708.6 260.2) scale(4.47 4.09) rotate(9)"/><use href="#bl4" transform="translate(672.1 247.7) scale(4.96 4.53) rotate(53)"/><use href="#bl0" transform="translate(690.9 251.9) scale(5.43 4.96) rotate(56)"/><use href="#bl1" transform="translate(677.6 250.4) scale(3.61 3.31) rotate(21)"/><use href="#bl0" transform="translate(696.8 251.2) scale(4.37 4.00) rotate(56)"/><use href="#bl5" transform="translate(717.5 249.0) scale(5.25 4.80) rotate(44)"/><use href="#bl3" transform="translate(749.2 247.2) scale(4.76 4.36) rotate(10)"/><use href="#bl4" transform="translate(733.2 248.5) scale(4.71 4.31) rotate(58)"/><use href="#bl4" transform="translate(725.4 276.7) scale(4.48 4.10) rotate(19)"/><use href="#bl4" transform="translate(709.7 247.2) scale(5.60 5.12) rotate(10)"/><use href="#bl0" transform="translate(700.4 259.8) scale(5.26 4.81) rotate(42)"/><use href="#bl2" transform="translate(678.0 249.4) scale(4.85 4.43) rotate(53)"/><use href="#bl3" transform="translate(710.0 256.2) scale(5.56 5.08) rotate(17)"/><use href="#bl2" transform="translate(720.1 246.7) scale(4.21 3.85) rotate(67)"/><use href="#bl0" transform="translate(680.5 250.9) scale(5.42 4.95) rotate(24)"/><use href="#bl5" transform="translate(746.0 259.4) scale(4.05 3.71) rotate(57)"/><use href="#bl1" transform="translate(689.4 248.2) scale(5.02 4.59) rotate(47)"/><use href="#bl3" transform="translate(727.7 262.2) scale(4.74 4.33) rotate(46)"/><use href="#bl4" transform="translate(751.2 250.8) scale(4.69 4.29) rotate(56)"/><use href="#bl0" transform="translate(671.8 255.0) scale(4.41 4.03) rotate(29)"/><use href="#bl1" transform="translate(721.6 264.2) scale(3.97 3.63) rotate(70)"/><use href="#bl1" transform="translate(722.8 286.7) scale(5.14 4.70) rotate(32)"/><use href="#bl1" transform="translate(674.5 251.6) scale(4.93 4.51) rotate(67)"/><use href="#bl5" transform="translate(701.6 266.0) scale(4.98 4.55) rotate(62)"/><use href="#bl3" transform="translate(731.8 265.1) scale(4.06 3.72) rotate(28)"/><use href="#bl5" transform="translate(743.7 295.9) scale(4.71 4.31) rotate(14)"/><use href="#bl4" transform="translate(697.8 260.3) scale(5.11 4.67) rotate(10)"/><use href="#bl5" transform="translate(704.5 257.0) scale(5.35 4.89) rotate(9)"/><use href="#bl1" transform="translate(682.6 249.5) scale(5.24 4.79) rotate(64)"/><use href="#bl5" transform="translate(728.8 266.5) scale(4.73 4.32) rotate(14)"/><use href="#bl5" transform="translate(727.5 272.6) scale(4.89 4.47) rotate(65)"/><use href="#bl5" transform="translate(671.0 250.4) scale(3.81 3.48) rotate(50)"/><use href="#bl1" transform="translate(697.8 251.2) scale(4.71 4.31) rotate(60)"/><use href="#bl1" transform="translate(687.2 249.9) scale(5.19 4.75) rotate(47)"/><use href="#bl0" transform="translate(706.2 254.6) scale(5.19 4.75) rotate(51)"/><use href="#bl2" transform="translate(704.3 260.7) scale(4.08 3.74) rotate(5)"/><use href="#bl4" transform="translate(673.9 246.3) scale(3.63 3.32) rotate(27)"/><use href="#bl0" transform="translate(754.0 251.8) scale(4.54 4.15) rotate(17)"/><use href="#bl0" transform="translate(744.0 247.0) scale(4.47 4.09) rotate(25)"/><use href="#bl5" transform="translate(723.7 265.5) scale(4.76 4.35) rotate(45)"/><use href="#bl5" transform="translate(724.0 257.2) scale(3.94 3.61) rotate(43)"/><use href="#bl5" transform="translate(739.2 254.3) scale(5.25 4.80) rotate(1)"/><use href="#bl0" transform="translate(680.3 247.1) scale(5.29 4.84) rotate(30)"/><use href="#bl5" transform="translate(671.1 246.3) scale(4.36 3.99) rotate(67)"/><use href="#bl5" transform="translate(679.7 248.9) scale(5.54 5.07) rotate(62)"/><use href="#bl4" transform="translate(699.7 248.4) scale(3.69 3.37) rotate(45)"/><use href="#bl4" transform="translate(752.2 252.2) scale(3.80 3.48) rotate(41)"/><use href="#bl0" transform="translate(749.0 252.8) scale(5.25 4.80) rotate(4)"/><use href="#bl5" transform="translate(720.6 249.9) scale(5.50 5.03) rotate(31)"/><use href="#bl1" transform="translate(750.4 268.0) scale(4.12 3.77) rotate(57)"/><use href="#bl4" transform="translate(746.0 254.5) scale(3.64 3.33) rotate(56)"/><use href="#bl0" transform="translate(748.7 259.9) scale(3.83 3.50) rotate(62)"/><use href="#bl2" transform="translate(733.1 252.6) scale(3.82 3.50) rotate(23)"/><use href="#bl2" transform="translate(733.4 250.5) scale(3.91 3.57) rotate(48)"/><use href="#bl4" transform="translate(730.0 264.1) scale(5.32 4.86) rotate(32)"/><use href="#bl5" transform="translate(689.2 256.8) scale(4.70 4.30) rotate(34)"/><use href="#bl0" transform="translate(701.6 256.7) scale(5.55 5.07) rotate(3)"/><use href="#bl1" transform="translate(746.5 253.4) scale(4.30 3.93) rotate(62)"/><use href="#bl0" transform="translate(740.6 265.8) scale(4.63 4.23) rotate(4)"/><use href="#bl4" transform="translate(672.6 249.0) scale(3.75 3.43) rotate(50)"/><use href="#bl1" transform="translate(511.9 274.9) scale(5.33 4.87) rotate(57)"/><use href="#bl4" transform="translate(515.1 289.4) scale(4.41 4.03) rotate(66)"/><use href="#bl2" transform="translate(529.1 261.9) scale(3.75 3.43) rotate(67)"/><use href="#bl1" transform="translate(501.0 288.8) scale(4.05 3.70) rotate(5)"/><use href="#bl2" transform="translate(520.6 265.5) scale(4.03 3.69) rotate(59)"/><use href="#bl3" transform="translate(499.3 286.3) scale(4.28 3.91) rotate(49)"/><use href="#bl2" transform="translate(521.6 257.1) scale(5.52 5.05) rotate(0)"/><use href="#bl3" transform="translate(513.5 275.1) scale(4.29 3.92) rotate(42)"/><use href="#bl1" transform="translate(509.5 278.7) scale(4.07 3.72) rotate(58)"/><use href="#bl4" transform="translate(511.7 273.9) scale(5.40 4.94) rotate(5)"/><use href="#bl5" transform="translate(509.5 282.3) scale(4.90 4.48) rotate(18)"/><use href="#bl2" transform="translate(522.2 274.1) scale(4.16 3.80) rotate(8)"/><use href="#bl2" transform="translate(498.3 288.1) scale(4.63 4.23) rotate(45)"/><use href="#bl4" transform="translate(511.9 270.5) scale(4.77 4.36) rotate(17)"/><use href="#bl0" transform="translate(518.9 263.2) scale(5.64 5.15) rotate(71)"/><use href="#bl0" transform="translate(508.0 277.1) scale(5.46 4.99) rotate(25)"/><use href="#bl5" transform="translate(535.8 259.6) scale(5.19 4.75) rotate(12)"/><use href="#bl2" transform="translate(529.0 285.5) scale(4.35 3.97) rotate(30)"/><use href="#bl1" transform="translate(528.4 265.5) scale(5.39 4.93) rotate(9)"/><use href="#bl2" transform="translate(515.0 277.8) scale(4.22 3.86) rotate(46)"/><use href="#bl5" transform="translate(521.0 270.4) scale(4.64 4.25) rotate(31)"/><use href="#bl4" transform="translate(527.3 259.9) scale(4.32 3.95) rotate(51)"/><use href="#bl5" transform="translate(522.9 260.3) scale(4.28 3.92) rotate(43)"/><use href="#bl3" transform="translate(515.4 269.9) scale(4.98 4.55) rotate(64)"/><use href="#bl1" transform="translate(499.5 285.3) scale(4.36 3.98) rotate(30)"/><use href="#bl1" transform="translate(515.9 265.9) scale(5.65 5.16) rotate(17)"/><use href="#bl5" transform="translate(502.6 285.3) scale(4.02 3.68) rotate(58)"/><use href="#bl3" transform="translate(505.1 279.9) scale(4.43 4.05) rotate(38)"/><use href="#bl4" transform="translate(519.9 268.4) scale(5.51 5.04) rotate(8)"/><use href="#bl5" transform="translate(518.9 274.3) scale(3.89 3.56) rotate(39)"/><use href="#bl2" transform="translate(762.7 256.3) scale(2.74 2.51) rotate(70)"/><use href="#bl5" transform="translate(777.4 260.6) scale(2.74 2.51) rotate(43)"/><use href="#bl0" transform="translate(787.5 255.5) scale(2.74 2.51) rotate(24)"/><use href="#bl4" transform="translate(799.8 264.9) scale(2.74 2.51) rotate(10)"/><ellipse cx="559.6" cy="284.4" rx="4.3" ry="1.9" fill="#f3a9b8" /><ellipse cx="574.4" cy="290.4" rx="4.3" ry="1.9" fill="#f6b6c6" /><ellipse cx="606.6" cy="277.6" rx="4.3" ry="1.9" fill="#f9ccd6" /><ellipse cx="630.0" cy="287.8" rx="4.3" ry="1.9" fill="#f3a9b8" /><ellipse cx="653.9" cy="282.7" rx="4.3" ry="1.9" fill="#f9ccd6" /><ellipse cx="684.2" cy="294.7" rx="4.3" ry="1.9" fill="#f9ccd6" /><ellipse cx="722.6" cy="287.8" rx="4.3" ry="1.9" fill="#f9ccd6" /><ellipse cx="572.1" cy="270.8" rx="4.3" ry="1.9" fill="#f3a9b8" /><ellipse cx="701.1" cy="284.4" rx="4.3" ry="1.9" fill="#f9ccd6" /><ellipse cx="531.7" cy="298.1" rx="4.3" ry="1.9" fill="#f3a9b8" /><ellipse cx="743.8" cy="282.7" rx="4.3" ry="1.9" fill="#f6b6c6" /><ellipse cx="594.3" cy="298.1" rx="4.3" ry="1.9" fill="#f9ccd6" /><ellipse cx="620.1" cy="270.8" rx="1.4" ry="1.0" fill="#ffffff" /><ellipse cx="648.2" cy="293.0" rx="1.4" ry="1.0" fill="#ffffff" /><ellipse cx="758.4" cy="308.3" rx="1.4" ry="1.0" fill="#ffffff" /><ellipse cx="607.6" cy="311.7" rx="1.4" ry="1.0" fill="#ffffff" /><ellipse cx="693.4" cy="315.9" rx="1.4" ry="1.0" fill="#ffffff" /><path transform="translate(813.2 280.2) scale(0.86 0.77)" d="M0 8C-7 4-13 0-13-4.5C-13-8.5-8-9.5-4-8C-2-7.2 0-5.5 0-4.5C0-5.5 2-7.2 4-8C8-9.5 13-8.5 13-4.5C13 0 7 4 0 8Z" fill="#f6d0d8"/></g><polygon points="525.8,245.7 815.0,245.7 977.3,468.8 376.0,468.8" fill="none" stroke="#8c8c8c" stroke-width="1.3"/>
<polygon points="419.4,392.0 423.6,392.0 423.6,424.5 434.0,416.7 421.5,445.0 409.0,416.7 419.4,424.5" fill="#c30d23" />
<polygon points="923.7,392.0 927.9,392.0 927.9,428.0 936.8,421.0 925.8,444.0 914.8,421.0 923.7,428.0" fill="#c30d23" />
<path d="M406.7 518.0V468.0L541.7 262.5H806.7L941.0 468.0V518.0" fill="none" stroke="#fff" stroke-width="4.6" stroke-linejoin="miter"/><path d="M406.7 538.0V468.0L541.7 262.5H806.7L941.0 468.0V538.0" fill="none" stroke="#c30d23" stroke-width="2.4" stroke-dasharray="7 8"/>
<path d="M497.0 153.0 L852.0 153.0 L1013.5 380.8 L1026.7 380.8 L1026.7 387.5 L323.0 387.5 L323.0 380.8 L335.8 380.8 Z M538.3 200.3 L806.7 200.3 L926.7 387.5 L422.8 387.5 Z" fill="#fcf9e6" fill-rule="evenodd"/>
<polygon points="538.3,200.3 806.7,200.3 803.6,205.4 541.4,205.4" fill="#e9e8d6" />
<polygon points="538.3,200.3 422.8,387.5 422.8,394.0 426.2,394.0 541.4,205.4" fill="#eceadb" />
<polygon points="806.7,200.3 926.7,387.5 926.7,394.0 923.3,394.0 803.6,205.4" fill="#eceadb" />
<path d="M422.8 387.5L538.3 200.3H806.7L926.7 387.5" fill="none" stroke="#fdfcf2" stroke-width="1"/>
<rect x="323" y="387.5" width="99.8" height="6.5" fill="#e6e5d3"/>
<rect x="926.7" y="387.5" width="100" height="6.5" fill="#e6e5d3"/>
<polygon points="540.7,205.0 543.8,205.0 543.8,244.2 550.5,239.2 542.2,259.2 533.9,239.2 540.7,244.2" fill="#c30d23" />
<polygon points="802.5,205.0 805.5,205.0 805.5,244.2 812.3,239.2 804.0,259.2 795.7,239.2 802.5,244.2" fill="#c30d23" />
<g style="mix-blend-mode:multiply"><rect x="323" y="381" width="703.7" height="6.5" fill="#8ccfe9" stroke="#5a9fba" stroke-width="0.8"/></g>
<g style="mix-blend-mode:multiply" clip-path="url(#a1)"><rect x="323" y="381" width="703.7" height="6.5" fill="#c9d4f6" opacity="0.3"/></g>
<polygon points="299.0,369.7 335.0,369.7 335.0,380.8 323.0,380.8 323.0,408.3 299.0,408.3" fill="#a5a7a7" /><polygon points="1014.2,369.7 1050.8,369.7 1050.8,408.3 1026.7,408.3 1026.7,380.8 1014.2,380.8" fill="#a5a7a7" />
<line x1="321.6" y1="416.5" x2="321.6" y2="511.5" stroke="#231815" stroke-width="2.3" stroke-dasharray="7 8"/>
<line x1="1027.3" y1="401.5" x2="1027.3" y2="511.5" stroke="#231815" stroke-width="2.3" stroke-dasharray="7 8"/>
<path d="M406.7 543.0V577.0M941.0 543.0V577.0M406.7 560.5H941.0" stroke="#231815" stroke-width="1.7" fill="none"/>
<line x1="821.7" y1="131.7" x2="1061.6" y2="142.4" stroke="#fff" stroke-width="4.6"/><line x1="821.7" y1="131.7" x2="1061.6" y2="142.4" stroke="#231815" stroke-width="2.3"/><circle cx="821.7" cy="131.7" r="5.3" fill="#231815"/>
<line x1="866.7" y1="185.8" x2="1061.6" y2="215.6" stroke="#fff" stroke-width="4.6"/><line x1="866.7" y1="185.8" x2="1061.6" y2="215.6" stroke="#231815" stroke-width="2.3"/><circle cx="866.7" cy="185.8" r="5.3" fill="#231815"/>
<line x1="651.7" y1="325.0" x2="235.8" y2="316.3" stroke="#fff" stroke-width="4.6"/><line x1="651.7" y1="325.0" x2="235.8" y2="316.3" stroke="#231815" stroke-width="2.3"/><circle cx="651.7" cy="325.0" r="5.3" fill="#231815"/>
<line x1="551.7" y1="499.3" x2="345.0" y2="533.3" stroke="#fff" stroke-width="4.6"/><line x1="551.7" y1="499.3" x2="345.0" y2="533.3" stroke="#231815" stroke-width="2.3"/><circle cx="551.7" cy="499.3" r="5.3" fill="#231815"/>
</g>
<g id="d2">
<line x1="321.6" y1="732.5" x2="321.6" y2="950.0" stroke="#231815" stroke-width="2.3" stroke-dasharray="7 8"/>
<line x1="1027.3" y1="732.5" x2="1027.3" y2="950.0" stroke="#231815" stroke-width="2.3" stroke-dasharray="7 8"/>
<path d="M321.6 686.0V720.0M1027.3 686.0V720.0M321.6 703.5H1027.3" stroke="#231815" stroke-width="1.7" fill="none"/>
<polygon points="335.0,986.3 496.0,762.6 496.0,772.1 335.0,995.8" fill="#b0b2b2" /><polygon points="1014.2,986.3 853.0,762.6 853.0,772.1 1014.2,995.8" fill="#b0b2b2" /><polygon points="496.0,762.6 853.0,762.6 853.0,769.6 496.0,769.6" fill="#a5a7a7" /><polygon points="299.0,986.3 481.7,739.9 869.0,739.9 1050.8,986.3 1014.2,986.3 853.0,762.6 496.0,762.6 335.0,986.3" fill="#dadcdb" />
<polygon points="340.5,1090.0 1017.5,1090.0 1032.5,1113.8 325.5,1113.8" fill="#a6a8a6" />
<polygon points="343.3,1090.0 1005.0,1090.0 1020.0,1113.8 328.3,1113.8" fill="#44574c" />
<rect x="321.7" y="1113.8" width="704.6" height="13.5" fill="#6f9080"/>
<rect x="321.7" y="1127.3" width="704.6" height="6.7" fill="#4c6d5d"/>
<clipPath id="a2"><polygon points="506.7,822.5 844.5,822.5 1027.5,1088.3 322.5,1088.3"/></clipPath><linearGradient id="a2sky" gradientUnits="userSpaceOnUse" x1="0" y1="822.5" x2="0" y2="1088.3"><stop offset="0" stop-color="#a3cde0"/><stop offset="0.2" stop-color="#b8d7e5"/><stop offset="0.45" stop-color="#cfe3eb"/><stop offset="0.68" stop-color="#e0ecf0"/><stop offset="1" stop-color="#e6eff1"/></linearGradient><g clip-path="url(#a2)"><polygon points="506.7,822.5 844.5,822.5 1027.5,1088.3 322.5,1088.3" fill="url(#a2sky)"/><polygon points="540.0,1022.0 556.0,1016.0 578.0,1010.0 592.0,1016.0 625.0,1004.0 675.0,987.8 706.0,996.0 726.7,1001.7 786.7,984.3 831.7,996.7 880.0,966.7 912.0,985.0 940.0,1000.0 975.0,1016.0 1030.0,1022.0" fill="#8ea8d9" /><polygon points="520.0,1022.0 548.0,1015.0 570.0,1009.0 592.0,1016.0 600.0,1022.0" fill="#c3d3ec" /><ellipse cx="328.9" cy="1019.6" rx="11.6" ry="6.3" fill="#f3b8ce" /><ellipse cx="341.2" cy="1020.5" rx="9.2" ry="8.0" fill="#f3b8ce" /><ellipse cx="349.2" cy="1020.7" rx="9.3" ry="6.4" fill="#f3b8ce" /><ellipse cx="362.5" cy="1022.3" rx="9.5" ry="6.9" fill="#f3b8ce" /><ellipse cx="374.8" cy="1022.8" rx="11.3" ry="7.6" fill="#f3b8ce" /><ellipse cx="387.9" cy="1019.2" rx="12.4" ry="7.2" fill="#f3b8ce" /><ellipse cx="393.9" cy="1019.5" rx="10.2" ry="9.3" fill="#f3b8ce" /><ellipse cx="405.1" cy="1021.3" rx="11.6" ry="7.5" fill="#f3b8ce" /><ellipse cx="418.3" cy="1019.3" rx="9.2" ry="6.8" fill="#f3b8ce" /><ellipse cx="430.1" cy="1020.7" rx="10.3" ry="8.3" fill="#f3b8ce" /><ellipse cx="439.7" cy="1020.2" rx="12.2" ry="8.8" fill="#f3b8ce" /><ellipse cx="449.5" cy="1021.3" rx="11.1" ry="9.5" fill="#f3b8ce" /><ellipse cx="463.4" cy="1020.2" rx="12.9" ry="6.5" fill="#f3b8ce" /><ellipse cx="472.5" cy="1022.0" rx="9.6" ry="8.0" fill="#f3b8ce" /><ellipse cx="481.2" cy="1021.7" rx="12.1" ry="8.3" fill="#f3b8ce" /><ellipse cx="497.3" cy="1020.3" rx="11.8" ry="8.4" fill="#f3b8ce" /><ellipse cx="506.5" cy="1020.8" rx="12.4" ry="9.8" fill="#f3b8ce" /><ellipse cx="516.8" cy="1021.7" rx="9.2" ry="8.8" fill="#f3b8ce" /><ellipse cx="528.9" cy="1023.0" rx="12.3" ry="7.1" fill="#f3b8ce" /><ellipse cx="538.3" cy="1021.7" rx="9.1" ry="7.8" fill="#f3b8ce" /><ellipse cx="548.0" cy="1019.5" rx="9.2" ry="9.1" fill="#f3b8ce" /><ellipse cx="558.8" cy="1020.0" rx="10.6" ry="9.5" fill="#f3b8ce" /><ellipse cx="569.5" cy="1020.8" rx="11.2" ry="9.5" fill="#f3b8ce" /><ellipse cx="613.0" cy="1022.0" rx="18.0" ry="10.5" fill="#f7cfdb" /><ellipse cx="650.0" cy="1022.0" rx="17.0" ry="10.5" fill="#f7cfdb" /><ellipse cx="689.0" cy="1022.0" rx="18.0" ry="10.5" fill="#f7cfdb" /><ellipse cx="813.9" cy="1017.5" rx="10.1" ry="8.7" fill="#f3b3cb" /><ellipse cx="823.2" cy="1017.5" rx="12.8" ry="7.6" fill="#f3b3cb" /><ellipse cx="834.1" cy="1014.9" rx="9.9" ry="8.9" fill="#f3b3cb" /><ellipse cx="848.5" cy="1015.1" rx="9.0" ry="8.7" fill="#f3b3cb" /><ellipse cx="859.2" cy="1016.3" rx="12.8" ry="9.8" fill="#f3b3cb" /><ellipse cx="872.1" cy="1016.5" rx="11.7" ry="7.2" fill="#f3b3cb" /><ellipse cx="886.4" cy="1017.1" rx="12.5" ry="10.2" fill="#f3b3cb" /><ellipse cx="895.4" cy="1015.6" rx="9.4" ry="9.5" fill="#f3b3cb" /><ellipse cx="905.4" cy="1014.3" rx="9.8" ry="7.6" fill="#f3b3cb" /><ellipse cx="919.0" cy="1014.2" rx="9.0" ry="7.6" fill="#f3b3cb" /><ellipse cx="929.6" cy="1015.5" rx="9.1" ry="10.5" fill="#f3b3cb" /><ellipse cx="944.7" cy="1014.6" rx="10.0" ry="8.4" fill="#f3b3cb" /><ellipse cx="955.2" cy="1014.5" rx="12.4" ry="11.0" fill="#f3b3cb" /><ellipse cx="967.8" cy="1015.9" rx="9.3" ry="7.4" fill="#f3b3cb" /><ellipse cx="979.1" cy="1015.1" rx="12.3" ry="7.6" fill="#f3b3cb" /><ellipse cx="989.1" cy="1017.8" rx="11.1" ry="7.6" fill="#f3b3cb" /><ellipse cx="846.0" cy="1008.2" rx="9.0" ry="6.0" fill="#f3b3cb" /><ellipse cx="862.0" cy="1006.1" rx="9.0" ry="6.0" fill="#f3b3cb" /><ellipse cx="878.0" cy="1008.1" rx="9.0" ry="6.0" fill="#f3b3cb" /><ellipse cx="894.0" cy="1009.9" rx="9.0" ry="6.0" fill="#f3b3cb" /><ellipse cx="910.0" cy="1009.5" rx="9.0" ry="6.0" fill="#f3b3cb" /><ellipse cx="926.0" cy="1008.8" rx="9.0" ry="6.0" fill="#f3b3cb" /><ellipse cx="942.0" cy="1007.0" rx="9.0" ry="6.0" fill="#f3b3cb" /><ellipse cx="958.0" cy="1007.5" rx="9.0" ry="6.0" fill="#f3b3cb" /><polygon points="367.8,1023.0 982.5,1023.0 986.7,1029.0 363.6,1029.0" fill="#f5e04f"/><polygon points="364.6,1027.5 985.6,1027.5 992.2,1037.0 358.1,1037.0" fill="#8fc640"/><polygon points="358.9,1035.8 991.4,1035.8 994.8,1040.8 355.4,1040.8" fill="#ea7c2c"/><polygon points="355.6,1040.5 994.6,1040.5 998.6,1046.3 351.6,1046.3" fill="#f5ab3c"/><polygon points="351.8,1046.0 998.4,1046.0 1028.0,1089.0 322.0,1089.0" fill="#f5e95c"/><polygon points="300.0,1046.0 528.0,1046.0 423.0,1088.3 300.0,1088.3" fill="#adcf4f" /><polygon points="500.0,1046.0 528.0,1046.0 423.0,1088.3 377.0,1088.3" fill="#8fc041" /><polygon points="567.0,1020.3 1040.0,1020.3 1040.0,1022.3 567.0,1022.3" fill="#7f9f8f" /><polygon points="567.0,1022.0 1040.0,1022.0 1040.0,1029.2 567.0,1029.2" fill="#f2bd84" /><polygon points="567.0,1029.0 1040.0,1029.0 1040.0,1034.2 567.0,1034.2" fill="#d7261d" /><polygon points="567.0,1034.0 1040.0,1034.0 1040.0,1036.9 567.0,1036.9" fill="#8c1c12" /><polygon points="571.0,1024.0 578.3,1024.0 578.3,1028.2 571.0,1028.2" fill="#5c1c1a" /><polygon points="581.4,1024.0 588.7,1024.0 588.7,1028.2 581.4,1028.2" fill="#5c1c1a" /><polygon points="591.8,1024.0 599.1,1024.0 599.1,1028.2 591.8,1028.2" fill="#5c1c1a" /><polygon points="602.2,1024.0 609.5,1024.0 609.5,1028.2 602.2,1028.2" fill="#5c1c1a" /><polygon points="612.6,1024.0 619.9,1024.0 619.9,1028.2 612.6,1028.2" fill="#5c1c1a" /><polygon points="623.0,1024.0 630.3,1024.0 630.3,1028.2 623.0,1028.2" fill="#5c1c1a" /><polygon points="633.4,1024.0 640.7,1024.0 640.7,1028.2 633.4,1028.2" fill="#5c1c1a" /><polygon points="643.8,1024.0 651.1,1024.0 651.1,1028.2 643.8,1028.2" fill="#5c1c1a" /><polygon points="654.2,1024.0 661.5,1024.0 661.5,1028.2 654.2,1028.2" fill="#5c1c1a" /><polygon points="664.6,1024.0 671.9,1024.0 671.9,1028.2 664.6,1028.2" fill="#5c1c1a" /><polygon points="675.0,1024.0 682.3,1024.0 682.3,1028.2 675.0,1028.2" fill="#5c1c1a" /><polygon points="685.4,1024.0 692.7,1024.0 692.7,1028.2 685.4,1028.2" fill="#5c1c1a" /><polygon points="695.8,1024.0 703.1,1024.0 703.1,1028.2 695.8,1028.2" fill="#5c1c1a" /><polygon points="706.2,1024.0 713.5,1024.0 713.5,1028.2 706.2,1028.2" fill="#5c1c1a" /><polygon points="716.6,1024.0 723.9,1024.0 723.9,1028.2 716.6,1028.2" fill="#5c1c1a" /><polygon points="727.0,1024.0 734.3,1024.0 734.3,1028.2 727.0,1028.2" fill="#5c1c1a" /><polygon points="747.8,1024.0 755.1,1024.0 755.1,1028.2 747.8,1028.2" fill="#5c1c1a" /><polygon points="758.2,1024.0 765.5,1024.0 765.5,1028.2 758.2,1028.2" fill="#5c1c1a" /><polygon points="768.6,1024.0 775.9,1024.0 775.9,1028.2 768.6,1028.2" fill="#5c1c1a" /><polygon points="779.0,1024.0 786.3,1024.0 786.3,1028.2 779.0,1028.2" fill="#5c1c1a" /><polygon points="789.4,1024.0 796.7,1024.0 796.7,1028.2 789.4,1028.2" fill="#5c1c1a" /><polygon points="799.8,1024.0 807.1,1024.0 807.1,1028.2 799.8,1028.2" fill="#5c1c1a" /><polygon points="810.2,1024.0 817.5,1024.0 817.5,1028.2 810.2,1028.2" fill="#5c1c1a" /><polygon points="820.6,1024.0 827.9,1024.0 827.9,1028.2 820.6,1028.2" fill="#5c1c1a" /><polygon points="831.0,1024.0 838.3,1024.0 838.3,1028.2 831.0,1028.2" fill="#5c1c1a" /><polygon points="841.4,1024.0 848.7,1024.0 848.7,1028.2 841.4,1028.2" fill="#5c1c1a" /><polygon points="851.8,1024.0 859.1,1024.0 859.1,1028.2 851.8,1028.2" fill="#5c1c1a" /><polygon points="862.2,1024.0 869.5,1024.0 869.5,1028.2 862.2,1028.2" fill="#5c1c1a" /><polygon points="872.6,1024.0 879.9,1024.0 879.9,1028.2 872.6,1028.2" fill="#5c1c1a" /><polygon points="883.0,1024.0 890.3,1024.0 890.3,1028.2 883.0,1028.2" fill="#5c1c1a" /><polygon points="893.4,1024.0 900.7,1024.0 900.7,1028.2 893.4,1028.2" fill="#5c1c1a" /><polygon points="903.8,1024.0 911.1,1024.0 911.1,1028.2 903.8,1028.2" fill="#5c1c1a" /><polygon points="924.6,1024.0 931.9,1024.0 931.9,1028.2 924.6,1028.2" fill="#5c1c1a" /><polygon points="935.0,1024.0 942.3,1024.0 942.3,1028.2 935.0,1028.2" fill="#5c1c1a" /><polygon points="945.4,1024.0 952.7,1024.0 952.7,1028.2 945.4,1028.2" fill="#5c1c1a" /><polygon points="955.8,1024.0 963.1,1024.0 963.1,1028.2 955.8,1028.2" fill="#5c1c1a" /><polygon points="966.2,1024.0 973.5,1024.0 973.5,1028.2 966.2,1028.2" fill="#5c1c1a" /><polygon points="976.6,1024.0 983.9,1024.0 983.9,1028.2 976.6,1028.2" fill="#5c1c1a" /><polygon points="987.0,1024.0 994.3,1024.0 994.3,1028.2 987.0,1028.2" fill="#5c1c1a" /><polygon points="997.4,1024.0 1004.7,1024.0 1004.7,1028.2 997.4,1028.2" fill="#5c1c1a" /><polygon points="1007.8,1024.0 1015.1,1024.0 1015.1,1028.2 1007.8,1028.2" fill="#5c1c1a" /><polygon points="1018.2,1024.0 1025.5,1024.0 1025.5,1028.2 1018.2,1028.2" fill="#5c1c1a" /><polygon points="1028.6,1024.0 1035.9,1024.0 1035.9,1028.2 1028.6,1028.2" fill="#5c1c1a" /><polygon points="1039.0,1024.0 1046.3,1024.0 1046.3,1028.2 1039.0,1028.2" fill="#5c1c1a" /><polygon points="737.5,1021.0 742.5,1021.0 743.5,1036.5 738.5,1036.5" fill="#5a1712" /><polygon points="910.5,1021.0 915.5,1021.0 916.5,1036.5 911.5,1036.5" fill="#5a1712" /><polygon points="590.0,1018.8 595.0,1018.8 595.0,1020.5 590.0,1020.5" fill="#8aa99a" /><polygon points="608.0,1018.8 613.0,1018.8 613.0,1020.5 608.0,1020.5" fill="#8aa99a" /><polygon points="626.0,1018.8 631.0,1018.8 631.0,1020.5 626.0,1020.5" fill="#8aa99a" /><polygon points="644.0,1018.8 649.0,1018.8 649.0,1020.5 644.0,1020.5" fill="#8aa99a" /><polygon points="662.0,1018.8 667.0,1018.8 667.0,1020.5 662.0,1020.5" fill="#8aa99a" /><polygon points="680.0,1018.8 685.0,1018.8 685.0,1020.5 680.0,1020.5" fill="#8aa99a" /><polygon points="698.0,1018.8 703.0,1018.8 703.0,1020.5 698.0,1020.5" fill="#8aa99a" /><polygon points="716.0,1018.8 721.0,1018.8 721.0,1020.5 716.0,1020.5" fill="#8aa99a" /><polygon points="734.0,1018.8 739.0,1018.8 739.0,1020.5 734.0,1020.5" fill="#8aa99a" /><polygon points="752.0,1018.8 757.0,1018.8 757.0,1020.5 752.0,1020.5" fill="#8aa99a" /><polygon points="770.0,1018.8 775.0,1018.8 775.0,1020.5 770.0,1020.5" fill="#8aa99a" /><polygon points="788.0,1018.8 793.0,1018.8 793.0,1020.5 788.0,1020.5" fill="#8aa99a" /><polygon points="806.0,1018.8 811.0,1018.8 811.0,1020.5 806.0,1020.5" fill="#8aa99a" /><polygon points="824.0,1018.8 829.0,1018.8 829.0,1020.5 824.0,1020.5" fill="#8aa99a" /><polygon points="842.0,1018.8 847.0,1018.8 847.0,1020.5 842.0,1020.5" fill="#8aa99a" /><polygon points="860.0,1018.8 865.0,1018.8 865.0,1020.5 860.0,1020.5" fill="#8aa99a" /><polygon points="878.0,1018.8 883.0,1018.8 883.0,1020.5 878.0,1020.5" fill="#8aa99a" /><polygon points="896.0,1018.8 901.0,1018.8 901.0,1020.5 896.0,1020.5" fill="#8aa99a" /><polygon points="914.0,1018.8 919.0,1018.8 919.0,1020.5 914.0,1020.5" fill="#8aa99a" /><polygon points="932.0,1018.8 937.0,1018.8 937.0,1020.5 932.0,1020.5" fill="#8aa99a" /><polygon points="950.0,1018.8 955.0,1018.8 955.0,1020.5 950.0,1020.5" fill="#8aa99a" /><polygon points="968.0,1018.8 973.0,1018.8 973.0,1020.5 968.0,1020.5" fill="#8aa99a" /><polygon points="986.0,1018.8 991.0,1018.8 991.0,1020.5 986.0,1020.5" fill="#8aa99a" /><polygon points="1004.0,1018.8 1009.0,1018.8 1009.0,1020.5 1004.0,1020.5" fill="#8aa99a" /><polygon points="1022.0,1018.8 1027.0,1018.8 1027.0,1020.5 1022.0,1020.5" fill="#8aa99a" /><polygon points="672.0,1037.2 678.0,1034.6 687.5,1035.8 698.0,1035.0 703.0,1037.2" fill="#f5e04f" /><polygon points="723.0,1037.2 729.0,1034.6 734.0,1035.8 740.0,1035.0 745.0,1037.2" fill="#f5e04f" /><polygon points="838.0,1037.2 844.0,1034.6 850.0,1035.8 857.0,1035.0 862.0,1037.2" fill="#f5e04f" /><ellipse cx="934.6" cy="997.8" rx="7.7" ry="6.5" fill="#f3b4cb" /><ellipse cx="922.0" cy="963.3" rx="6.1" ry="5.2" fill="#f3b4cb" /><ellipse cx="932.2" cy="954.1" rx="9.3" ry="7.9" fill="#f3b4cb" /><ellipse cx="929.9" cy="955.9" rx="8.7" ry="7.4" fill="#f3b4cb" /><ellipse cx="922.0" cy="996.5" rx="6.8" ry="5.8" fill="#f3b4cb" /><ellipse cx="924.2" cy="978.8" rx="6.4" ry="5.4" fill="#f3b4cb" /><ellipse cx="916.2" cy="999.6" rx="9.8" ry="8.3" fill="#f3b4cb" /><ellipse cx="883.2" cy="986.2" rx="9.9" ry="8.4" fill="#f3b4cb" /><ellipse cx="940.0" cy="973.6" rx="6.1" ry="5.2" fill="#f3b4cb" /><ellipse cx="920.4" cy="989.4" rx="6.0" ry="5.1" fill="#f3b4cb" /><ellipse cx="892.4" cy="960.7" rx="9.2" ry="7.8" fill="#f3b4cb" /><ellipse cx="887.5" cy="980.7" rx="9.0" ry="7.6" fill="#f3b4cb" /><ellipse cx="944.6" cy="988.7" rx="9.5" ry="8.1" fill="#f3b4cb" /><ellipse cx="924.6" cy="955.9" rx="7.4" ry="6.3" fill="#f3b4cb" /><ellipse cx="932.7" cy="998.8" rx="6.7" ry="5.7" fill="#f3b4cb" /><ellipse cx="929.8" cy="953.7" rx="7.0" ry="5.9" fill="#f3b4cb" /><ellipse cx="887.9" cy="992.7" rx="8.6" ry="7.3" fill="#f3b4cb" /><ellipse cx="924.5" cy="986.1" rx="5.8" ry="4.9" fill="#f3b4cb" /><ellipse cx="946.2" cy="964.9" rx="5.7" ry="4.9" fill="#f3b4cb" /><ellipse cx="935.4" cy="955.2" rx="8.3" ry="7.0" fill="#f3b4cb" /><ellipse cx="901.4" cy="993.6" rx="5.7" ry="4.8" fill="#f3b4cb" /><ellipse cx="955.3" cy="980.3" rx="8.2" ry="7.0" fill="#f3b4cb" /><ellipse cx="881.8" cy="973.8" rx="7.2" ry="6.1" fill="#f3b4cb" /><ellipse cx="941.9" cy="960.9" rx="6.1" ry="5.1" fill="#f3b4cb" /><ellipse cx="917.8" cy="992.1" rx="6.2" ry="5.3" fill="#f3b4cb" /><ellipse cx="901.4" cy="971.2" rx="7.1" ry="6.0" fill="#f3b4cb" /><ellipse cx="942.6" cy="996.2" rx="6.8" ry="5.8" fill="#f3b4cb" /><ellipse cx="890.0" cy="983.2" rx="9.5" ry="8.1" fill="#f3b4cb" /><ellipse cx="886.0" cy="989.9" rx="7.5" ry="6.4" fill="#f3b4cb" /><ellipse cx="891.1" cy="974.3" rx="5.1" ry="4.3" fill="#f3b4cb" /><ellipse cx="902.9" cy="982.1" rx="5.0" ry="4.3" fill="#f3b4cb" /><ellipse cx="922.8" cy="967.7" rx="7.4" ry="6.3" fill="#f3b4cb" /><ellipse cx="913.6" cy="958.8" rx="6.6" ry="5.6" fill="#f3b4cb" /><ellipse cx="889.9" cy="975.8" rx="8.9" ry="7.6" fill="#f3b4cb" /><ellipse cx="940.4" cy="990.0" rx="6.2" ry="5.3" fill="#f3b4cb" /><ellipse cx="912.4" cy="1000.5" rx="7.5" ry="6.4" fill="#f3b4cb" /><ellipse cx="887.3" cy="969.4" rx="9.6" ry="8.1" fill="#f3b4cb" /><ellipse cx="890.1" cy="985.1" rx="7.5" ry="6.4" fill="#f3b4cb" /><ellipse cx="886.5" cy="976.4" rx="7.3" ry="6.2" fill="#f3b4cb" /><ellipse cx="892.3" cy="974.3" rx="9.7" ry="8.3" fill="#f3b4cb" /><ellipse cx="906.8" cy="954.9" rx="9.7" ry="8.3" fill="#f3b4cb" /><ellipse cx="916.3" cy="997.4" rx="9.7" ry="8.3" fill="#f3b4cb" /><ellipse cx="925.5" cy="969.9" rx="5.6" ry="4.8" fill="#f3b4cb" /><ellipse cx="908.4" cy="980.5" rx="6.2" ry="5.3" fill="#f3b4cb" /><ellipse cx="945.9" cy="987.4" rx="8.9" ry="7.6" fill="#f3b4cb" /><ellipse cx="929.9" cy="971.8" rx="8.6" ry="7.3" fill="#f3b4cb" /><ellipse cx="905.5" cy="967.3" rx="4.3" ry="3.6" fill="#f8d2df" /><ellipse cx="917.9" cy="994.1" rx="2.9" ry="2.5" fill="#f8d2df" /><ellipse cx="925.6" cy="988.6" rx="2.4" ry="2.1" fill="#f8d2df" /><ellipse cx="932.3" cy="973.5" rx="3.0" ry="2.5" fill="#fdf3f6" /><ellipse cx="900.7" cy="990.2" rx="1.9" ry="1.6" fill="#f8d2df" /><ellipse cx="908.0" cy="975.0" rx="2.7" ry="2.3" fill="#fdf3f6" /><ellipse cx="903.9" cy="973.6" rx="4.6" ry="3.9" fill="#fdf3f6" /><ellipse cx="922.2" cy="972.8" rx="2.5" ry="2.2" fill="#fbe6ee" /><ellipse cx="923.3" cy="969.0" rx="3.9" ry="3.3" fill="#f8d2df" /><ellipse cx="927.4" cy="960.0" rx="4.4" ry="3.8" fill="#f8d2df" /><ellipse cx="930.1" cy="990.2" rx="3.4" ry="2.9" fill="#fdf3f6" /><ellipse cx="918.5" cy="976.7" rx="3.7" ry="3.2" fill="#f8d2df" /><ellipse cx="925.1" cy="967.3" rx="1.8" ry="1.6" fill="#fbe6ee" /><ellipse cx="915.0" cy="968.2" rx="4.2" ry="3.6" fill="#fbe6ee" /><ellipse cx="911.0" cy="981.3" rx="1.8" ry="1.6" fill="#f8d2df" /><ellipse cx="926.8" cy="969.2" rx="2.2" ry="1.8" fill="#fdf3f6" /><ellipse cx="941.2" cy="966.2" rx="2.5" ry="2.2" fill="#fdf3f6" /><ellipse cx="917.3" cy="985.2" rx="2.7" ry="2.3" fill="#fdf3f6" /><ellipse cx="906.4" cy="988.4" rx="2.3" ry="2.0" fill="#fdf3f6" /><ellipse cx="922.6" cy="954.2" rx="1.9" ry="1.6" fill="#fbe6ee" /><ellipse cx="909.5" cy="958.5" rx="2.3" ry="2.0" fill="#f8d2df" /><ellipse cx="912.6" cy="988.0" rx="3.6" ry="3.1" fill="#f8d2df" /><ellipse cx="898.9" cy="961.1" rx="4.3" ry="3.6" fill="#fdf3f6" /><ellipse cx="899.9" cy="954.8" rx="2.8" ry="2.3" fill="#fdf3f6" /><ellipse cx="896.4" cy="981.0" rx="2.0" ry="1.7" fill="#fdf3f6" /><ellipse cx="937.2" cy="975.5" rx="4.3" ry="3.6" fill="#f8d2df" /><ellipse cx="916.8" cy="979.2" rx="4.2" ry="3.5" fill="#fdf3f6" /><ellipse cx="890.3" cy="963.8" rx="1.9" ry="1.6" fill="#fdf3f6" /><ellipse cx="923.7" cy="985.7" rx="2.5" ry="2.2" fill="#fdf3f6" /><ellipse cx="935.3" cy="971.3" rx="2.5" ry="2.1" fill="#fdf3f6" /><ellipse cx="914.7" cy="982.8" rx="2.7" ry="2.3" fill="#fbe6ee" /><ellipse cx="889.6" cy="976.4" rx="2.4" ry="2.0" fill="#fbe6ee" /><ellipse cx="936.3" cy="984.3" rx="2.2" ry="1.9" fill="#fbe6ee" /><ellipse cx="898.2" cy="981.1" rx="3.6" ry="3.0" fill="#fbe6ee" /><ellipse cx="892.0" cy="966.2" rx="3.9" ry="3.3" fill="#f8d2df" /><ellipse cx="914.4" cy="956.2" rx="3.2" ry="2.7" fill="#fdf3f6" /><ellipse cx="907.8" cy="957.4" rx="1.9" ry="1.6" fill="#f8d2df" /><ellipse cx="909.1" cy="955.2" rx="2.2" ry="1.9" fill="#fbe6ee" /><ellipse cx="923.3" cy="959.8" rx="4.3" ry="3.7" fill="#fdf3f6" /><ellipse cx="917.6" cy="976.2" rx="3.6" ry="3.0" fill="#fbe6ee" /><ellipse cx="896.6" cy="983.9" rx="1.9" ry="1.7" fill="#fbe6ee" /><ellipse cx="893.5" cy="961.7" rx="3.2" ry="2.7" fill="#fbe6ee" /><ellipse cx="903.8" cy="975.5" rx="4.4" ry="3.7" fill="#fbe6ee" /><ellipse cx="907.6" cy="969.5" rx="3.9" ry="3.3" fill="#fdf3f6" /><ellipse cx="922.7" cy="956.0" rx="2.5" ry="2.1" fill="#fdf3f6" /><ellipse cx="915.1" cy="990.8" rx="3.1" ry="2.6" fill="#f8d2df" /><ellipse cx="939.1" cy="983.3" rx="2.6" ry="2.2" fill="#fbe6ee" /><ellipse cx="893.0" cy="962.7" rx="2.0" ry="1.7" fill="#fdf3f6" /><ellipse cx="899.3" cy="988.8" rx="3.7" ry="3.2" fill="#fdf3f6" /><ellipse cx="919.9" cy="974.4" rx="2.6" ry="2.2" fill="#fbe6ee" /><ellipse cx="902.7" cy="957.9" rx="2.6" ry="2.2" fill="#fdf3f6" /><ellipse cx="890.7" cy="977.2" rx="2.1" ry="1.8" fill="#fdf3f6" /><ellipse cx="908.5" cy="979.7" rx="3.1" ry="2.7" fill="#fdf3f6" /><ellipse cx="884.0" cy="978.8" rx="4.5" ry="3.8" fill="#f8d2df" /><ellipse cx="931.9" cy="973.5" rx="4.4" ry="3.7" fill="#fdf3f6" /><ellipse cx="920.6" cy="976.9" rx="3.9" ry="3.3" fill="#fdf3f6" /><ellipse cx="923.1" cy="971.8" rx="4.1" ry="3.5" fill="#fdf3f6" /><ellipse cx="932.3" cy="962.5" rx="2.4" ry="2.1" fill="#f8d2df" /><ellipse cx="902.0" cy="979.2" rx="4.5" ry="3.8" fill="#f8d2df" /><ellipse cx="889.4" cy="984.0" rx="3.0" ry="2.5" fill="#f8d2df" /><polyline points="962.0,1022.0 950.0,1005.0 938.0,992.0 925.0,985.0" fill="none" stroke="#8a5560" stroke-width="1.30" stroke-linecap="round" stroke-linejoin="round"/><polyline points="950.0,1005.0 935.0,1000.0 922.0,998.0" fill="none" stroke="#8a5560" stroke-width="1.00" stroke-linecap="round" stroke-linejoin="round"/><polyline points="944.0,998.0 940.0,985.0 934.0,975.0" fill="none" stroke="#8a5560" stroke-width="1.00" stroke-linecap="round" stroke-linejoin="round"/><ellipse cx="436.1" cy="1026.6" rx="7.0" ry="5.6" fill="#f4c0d4" /><ellipse cx="462.3" cy="945.9" rx="8.0" ry="6.4" fill="#f4c0d4" /><ellipse cx="514.9" cy="970.7" rx="14.2" ry="11.4" fill="#f4c0d4" /><ellipse cx="451.4" cy="1015.2" rx="10.1" ry="8.1" fill="#f4c0d4" /><ellipse cx="515.7" cy="987.7" rx="9.9" ry="7.9" fill="#f4c0d4" /><ellipse cx="429.0" cy="998.5" rx="7.4" ry="5.9" fill="#f4c0d4" /><ellipse cx="513.3" cy="1013.1" rx="9.3" ry="7.4" fill="#f4c0d4" /><ellipse cx="494.1" cy="979.0" rx="9.1" ry="7.3" fill="#f4c0d4" /><ellipse cx="431.6" cy="986.6" rx="10.0" ry="8.0" fill="#f4c0d4" /><ellipse cx="525.3" cy="976.2" rx="13.5" ry="10.8" fill="#f4c0d4" /><ellipse cx="416.5" cy="955.8" rx="14.5" ry="11.6" fill="#f4c0d4" /><ellipse cx="405.4" cy="976.1" rx="7.4" ry="5.9" fill="#f4c0d4" /><ellipse cx="456.8" cy="957.3" rx="13.0" ry="10.4" fill="#f4c0d4" /><ellipse cx="438.9" cy="968.6" rx="7.4" ry="5.9" fill="#f4c0d4" /><ellipse cx="484.4" cy="980.7" rx="10.8" ry="8.6" fill="#f4c0d4" /><ellipse cx="440.8" cy="1008.9" rx="12.9" ry="10.3" fill="#f4c0d4" /><ellipse cx="497.3" cy="984.5" rx="12.2" ry="9.8" fill="#f4c0d4" /><ellipse cx="445.6" cy="1020.6" rx="10.2" ry="8.1" fill="#f4c0d4" /><ellipse cx="476.0" cy="1004.1" rx="8.7" ry="6.9" fill="#f4c0d4" /><ellipse cx="503.0" cy="969.9" rx="8.8" ry="7.0" fill="#f4c0d4" /><ellipse cx="520.1" cy="962.5" rx="10.6" ry="8.5" fill="#f4c0d4" /><ellipse cx="481.6" cy="1003.5" rx="7.7" ry="6.2" fill="#f4c0d4" /><ellipse cx="450.5" cy="999.6" rx="8.9" ry="7.1" fill="#f4c0d4" /><ellipse cx="459.2" cy="1022.7" rx="14.1" ry="11.3" fill="#f4c0d4" /><ellipse cx="461.9" cy="958.4" rx="10.3" ry="8.2" fill="#f4c0d4" /><ellipse cx="419.5" cy="983.7" rx="9.7" ry="7.8" fill="#f4c0d4" /><ellipse cx="496.1" cy="997.2" rx="14.7" ry="11.8" fill="#f4c0d4" /><ellipse cx="496.9" cy="1011.2" rx="12.0" ry="9.6" fill="#f4c0d4" /><ellipse cx="483.2" cy="971.8" rx="9.2" ry="7.3" fill="#f4c0d4" /><ellipse cx="462.4" cy="1017.1" rx="10.6" ry="8.5" fill="#f4c0d4" /><ellipse cx="523.8" cy="975.9" rx="14.0" ry="11.2" fill="#f4c0d4" /><ellipse cx="474.5" cy="989.1" rx="12.7" ry="10.1" fill="#f4c0d4" /><ellipse cx="500.2" cy="968.7" rx="11.7" ry="9.4" fill="#f4c0d4" /><ellipse cx="505.8" cy="988.0" rx="14.4" ry="11.5" fill="#f4c0d4" /><ellipse cx="491.6" cy="950.2" rx="14.8" ry="11.8" fill="#f4c0d4" /><ellipse cx="462.2" cy="1003.2" rx="8.2" ry="6.6" fill="#f4c0d4" /><ellipse cx="404.8" cy="982.7" rx="14.5" ry="11.6" fill="#f4c0d4" /><ellipse cx="452.0" cy="951.6" rx="13.1" ry="10.5" fill="#f4c0d4" /><ellipse cx="411.9" cy="997.1" rx="7.3" ry="5.9" fill="#f4c0d4" /><ellipse cx="468.8" cy="966.3" rx="14.4" ry="11.5" fill="#f4c0d4" /><ellipse cx="438.4" cy="967.9" rx="8.0" ry="6.4" fill="#f4c0d4" /><ellipse cx="461.4" cy="1024.7" rx="12.6" ry="10.1" fill="#f4c0d4" /><ellipse cx="476.1" cy="995.9" rx="11.2" ry="9.0" fill="#f4c0d4" /><ellipse cx="424.2" cy="973.7" rx="8.8" ry="7.0" fill="#f4c0d4" /><ellipse cx="456.2" cy="985.2" rx="9.4" ry="7.5" fill="#f4c0d4" /><ellipse cx="395.5" cy="999.0" rx="12.2" ry="9.7" fill="#f4c0d4" /><ellipse cx="497.9" cy="966.8" rx="8.9" ry="7.1" fill="#f4c0d4" /><ellipse cx="463.3" cy="1024.4" rx="9.5" ry="7.6" fill="#f4c0d4" /><ellipse cx="511.0" cy="992.4" rx="12.4" ry="9.9" fill="#f4c0d4" /><ellipse cx="430.9" cy="999.2" rx="12.3" ry="9.9" fill="#f4c0d4" /><ellipse cx="491.7" cy="978.1" rx="7.3" ry="5.8" fill="#f4c0d4" /><ellipse cx="438.1" cy="1013.4" rx="12.5" ry="10.0" fill="#f4c0d4" /><ellipse cx="482.0" cy="1026.9" rx="12.9" ry="10.3" fill="#f4c0d4" /><ellipse cx="430.3" cy="987.4" rx="14.8" ry="11.8" fill="#f4c0d4" /><ellipse cx="438.0" cy="1026.6" rx="8.8" ry="7.1" fill="#f4c0d4" /><ellipse cx="472.9" cy="1027.5" rx="9.4" ry="7.5" fill="#f4c0d4" /><ellipse cx="509.1" cy="978.4" rx="8.5" ry="6.8" fill="#f4c0d4" /><ellipse cx="469.5" cy="1017.3" rx="12.3" ry="9.9" fill="#f4c0d4" /><ellipse cx="487.4" cy="982.4" rx="10.1" ry="8.1" fill="#f4c0d4" /><ellipse cx="477.9" cy="1028.9" rx="7.4" ry="5.9" fill="#f4c0d4" /><ellipse cx="502.8" cy="998.6" rx="14.2" ry="11.3" fill="#f4c0d4" /><ellipse cx="506.6" cy="961.7" rx="15.0" ry="12.0" fill="#f4c0d4" /><ellipse cx="498.5" cy="977.0" rx="8.5" ry="6.8" fill="#f4c0d4" /><ellipse cx="517.6" cy="972.4" rx="7.3" ry="5.8" fill="#f4c0d4" /><ellipse cx="439.9" cy="963.7" rx="10.0" ry="8.0" fill="#f4c0d4" /><ellipse cx="447.9" cy="1004.5" rx="7.0" ry="5.6" fill="#f4c0d4" /><ellipse cx="454.3" cy="1014.8" rx="14.6" ry="11.7" fill="#f4c0d4" /><ellipse cx="511.0" cy="1019.7" rx="8.7" ry="6.9" fill="#f4c0d4" /><ellipse cx="422.6" cy="1020.7" rx="13.6" ry="10.9" fill="#f4c0d4" /><ellipse cx="447.8" cy="992.2" rx="10.8" ry="8.6" fill="#f4c0d4" /><ellipse cx="415.2" cy="1019.6" rx="8.5" ry="6.8" fill="#f4c0d4" /><ellipse cx="418.4" cy="1020.8" rx="7.2" ry="5.8" fill="#f4c0d4" /><ellipse cx="408.6" cy="1010.0" rx="13.1" ry="10.5" fill="#f4c0d4" /><ellipse cx="474.6" cy="990.2" rx="7.5" ry="6.0" fill="#f4c0d4" /><ellipse cx="493.1" cy="976.8" rx="13.0" ry="10.4" fill="#f4c0d4" /><ellipse cx="494.8" cy="972.1" rx="9.2" ry="7.3" fill="#f4c0d4" /><ellipse cx="515.0" cy="978.5" rx="9.1" ry="7.3" fill="#f4c0d4" /><ellipse cx="453.8" cy="962.7" rx="9.2" ry="7.4" fill="#f4c0d4" /><ellipse cx="522.8" cy="988.9" rx="14.3" ry="11.5" fill="#f4c0d4" /><ellipse cx="416.7" cy="954.7" rx="7.2" ry="5.8" fill="#f4c0d4" /><ellipse cx="466.9" cy="1019.5" rx="14.7" ry="11.7" fill="#f4c0d4" /><ellipse cx="503.7" cy="979.8" rx="9.0" ry="7.2" fill="#f4c0d4" /><ellipse cx="417.5" cy="1001.8" rx="14.4" ry="11.5" fill="#f4c0d4" /><ellipse cx="487.7" cy="1025.6" rx="12.9" ry="10.3" fill="#f4c0d4" /><ellipse cx="489.2" cy="951.7" rx="11.9" ry="9.5" fill="#f4c0d4" /><ellipse cx="443.4" cy="1011.0" rx="9.9" ry="7.9" fill="#f4c0d4" /><ellipse cx="466.0" cy="975.3" rx="8.6" ry="6.9" fill="#f4c0d4" /><ellipse cx="462.6" cy="965.1" rx="7.5" ry="6.0" fill="#f4c0d4" /><ellipse cx="512.9" cy="995.2" rx="9.6" ry="7.7" fill="#f4c0d4" /><ellipse cx="527.3" cy="982.6" rx="14.9" ry="11.9" fill="#f4c0d4" /><ellipse cx="460.0" cy="992.0" rx="58.0" ry="38.0" fill="#f4c0d4" /><ellipse cx="388.0" cy="1004.0" rx="11.0" ry="8.0" fill="#f4c0d4" /><ellipse cx="379.0" cy="1013.0" rx="11.0" ry="8.0" fill="#f4c0d4" /><ellipse cx="396.0" cy="996.0" rx="10.0" ry="7.0" fill="#f4c0d4" /><ellipse cx="371.0" cy="1020.0" rx="11.0" ry="7.0" fill="#f4c0d4" /><ellipse cx="402.0" cy="1010.0" rx="12.0" ry="9.0" fill="#f4c0d4" /><ellipse cx="392.0" cy="1018.0" rx="12.0" ry="8.0" fill="#f4c0d4" /><ellipse cx="448.6" cy="991.8" rx="2.9" ry="2.3" fill="#fbe9ef" /><ellipse cx="501.1" cy="979.6" rx="3.2" ry="2.6" fill="#f9dbe6" /><ellipse cx="414.5" cy="995.4" rx="5.2" ry="4.2" fill="#f7cfde" /><ellipse cx="405.6" cy="974.8" rx="5.5" ry="4.4" fill="#fbe9ef" /><ellipse cx="439.4" cy="1006.6" rx="4.0" ry="3.2" fill="#f7cfde" /><ellipse cx="447.8" cy="1004.5" rx="3.2" ry="2.6" fill="#f9dbe6" /><ellipse cx="477.9" cy="1008.3" rx="4.8" ry="3.9" fill="#fbe9ef" /><ellipse cx="474.0" cy="988.8" rx="3.5" ry="2.8" fill="#f7cfde" /><ellipse cx="455.5" cy="1012.4" rx="5.1" ry="4.1" fill="#f9dbe6" /><ellipse cx="478.7" cy="996.0" rx="5.8" ry="4.6" fill="#fbe9ef" /><ellipse cx="459.0" cy="978.5" rx="3.7" ry="2.9" fill="#f9dbe6" /><ellipse cx="488.3" cy="990.2" rx="5.8" ry="4.6" fill="#f9dbe6" /><ellipse cx="478.7" cy="973.2" rx="6.0" ry="4.8" fill="#fbe9ef" /><ellipse cx="413.5" cy="963.9" rx="5.2" ry="4.1" fill="#f9dbe6" /><ellipse cx="481.6" cy="998.2" rx="5.0" ry="4.0" fill="#f9dbe6" /><ellipse cx="479.5" cy="986.6" rx="2.7" ry="2.1" fill="#fbe9ef" /><ellipse cx="493.2" cy="988.9" rx="6.2" ry="4.9" fill="#f9dbe6" /><ellipse cx="463.9" cy="962.3" rx="4.0" ry="3.2" fill="#f7cfde" /><ellipse cx="441.1" cy="996.2" rx="5.7" ry="4.5" fill="#f7cfde" /><ellipse cx="417.0" cy="984.2" rx="5.7" ry="4.5" fill="#f7cfde" /><ellipse cx="410.5" cy="973.6" rx="2.9" ry="2.3" fill="#f9dbe6" /><ellipse cx="428.3" cy="992.6" rx="6.5" ry="5.2" fill="#f7cfde" /><ellipse cx="432.0" cy="1013.0" rx="3.7" ry="3.0" fill="#f7cfde" /><ellipse cx="474.9" cy="967.4" rx="2.6" ry="2.1" fill="#fbe9ef" /><ellipse cx="430.0" cy="965.3" rx="4.1" ry="3.3" fill="#f9dbe6" /><ellipse cx="431.2" cy="987.4" rx="3.0" ry="2.4" fill="#f9dbe6" /><ellipse cx="409.4" cy="999.8" rx="4.3" ry="3.5" fill="#f9dbe6" /><ellipse cx="458.1" cy="987.6" rx="3.1" ry="2.5" fill="#fbe9ef" /><ellipse cx="484.8" cy="996.2" rx="4.0" ry="3.2" fill="#f7cfde" /><ellipse cx="464.5" cy="999.7" rx="3.1" ry="2.5" fill="#f9dbe6" /><ellipse cx="465.3" cy="976.9" rx="4.5" ry="3.6" fill="#f9dbe6" /><ellipse cx="434.8" cy="1011.5" rx="2.7" ry="2.1" fill="#fbe9ef" /><ellipse cx="434.0" cy="1006.4" rx="5.0" ry="4.0" fill="#f9dbe6" /><ellipse cx="483.8" cy="966.8" rx="5.8" ry="4.6" fill="#f9dbe6" /><ellipse cx="419.4" cy="957.7" rx="5.0" ry="4.0" fill="#f7cfde" /><ellipse cx="476.9" cy="956.5" rx="3.2" ry="2.6" fill="#f9dbe6" /><ellipse cx="498.7" cy="990.5" rx="3.1" ry="2.5" fill="#fbe9ef" /><ellipse cx="468.5" cy="993.8" rx="5.4" ry="4.3" fill="#f9dbe6" /><ellipse cx="487.7" cy="988.5" rx="5.5" ry="4.4" fill="#f9dbe6" /><ellipse cx="435.4" cy="965.2" rx="4.1" ry="3.2" fill="#fbe9ef" /><ellipse cx="410.8" cy="973.7" rx="3.7" ry="3.0" fill="#fbe9ef" /><ellipse cx="440.7" cy="997.9" rx="4.1" ry="3.2" fill="#fbe9ef" /><ellipse cx="417.5" cy="989.4" rx="2.6" ry="2.1" fill="#f7cfde" /><ellipse cx="485.3" cy="980.0" rx="4.3" ry="3.4" fill="#f7cfde" /><ellipse cx="456.6" cy="959.4" rx="3.2" ry="2.6" fill="#fbe9ef" /><ellipse cx="439.1" cy="987.2" rx="3.9" ry="3.1" fill="#fbe9ef" /><ellipse cx="479.0" cy="994.3" rx="4.5" ry="3.6" fill="#f9dbe6" /><ellipse cx="468.2" cy="985.1" rx="6.2" ry="5.0" fill="#fbe9ef" /><ellipse cx="456.4" cy="958.0" rx="2.7" ry="2.2" fill="#f7cfde" /><ellipse cx="483.2" cy="965.1" rx="5.6" ry="4.5" fill="#f9dbe6" /><ellipse cx="482.3" cy="955.5" rx="5.4" ry="4.3" fill="#f9dbe6" /><ellipse cx="467.8" cy="1013.6" rx="4.5" ry="3.6" fill="#f9dbe6" /><ellipse cx="432.7" cy="955.4" rx="3.4" ry="2.7" fill="#fbe9ef" /><ellipse cx="429.9" cy="971.1" rx="3.8" ry="3.0" fill="#f7cfde" /><ellipse cx="442.7" cy="1012.3" rx="3.1" ry="2.5" fill="#f7cfde" /><ellipse cx="485.1" cy="976.8" rx="4.9" ry="3.9" fill="#f7cfde" /><ellipse cx="420.6" cy="981.3" rx="2.6" ry="2.1" fill="#f9dbe6" /><ellipse cx="415.9" cy="997.5" rx="3.6" ry="2.9" fill="#fbe9ef" /><ellipse cx="466.9" cy="973.5" rx="5.6" ry="4.5" fill="#f9dbe6" /><ellipse cx="451.3" cy="974.6" rx="5.9" ry="4.7" fill="#fbe9ef" /><ellipse cx="412.8" cy="973.2" rx="6.0" ry="4.8" fill="#f9dbe6" /><ellipse cx="449.5" cy="1006.9" rx="5.9" ry="4.7" fill="#f7cfde" /><ellipse cx="457.9" cy="965.3" rx="6.5" ry="5.2" fill="#f7cfde" /><ellipse cx="468.2" cy="997.5" rx="2.8" ry="2.3" fill="#f9dbe6" /><ellipse cx="469.9" cy="1008.3" rx="2.7" ry="2.2" fill="#f7cfde" /><ellipse cx="449.0" cy="1009.2" rx="6.4" ry="5.1" fill="#f7cfde" /><ellipse cx="494.3" cy="968.0" rx="5.4" ry="4.3" fill="#f7cfde" /><ellipse cx="469.6" cy="984.8" rx="5.0" ry="4.0" fill="#fbe9ef" /><ellipse cx="422.7" cy="992.1" rx="2.7" ry="2.2" fill="#fbe9ef" /><ellipse cx="456.0" cy="1009.2" rx="2.6" ry="2.1" fill="#f9dbe6" /><ellipse cx="398.4" cy="968.3" rx="3.2" ry="2.6" fill="#f5c6d8" /><ellipse cx="402.4" cy="1011.4" rx="2.8" ry="2.2" fill="#f5c6d8" /><ellipse cx="494.2" cy="949.0" rx="4.0" ry="3.2" fill="#f5c6d8" /><ellipse cx="443.1" cy="944.9" rx="2.2" ry="1.8" fill="#f5c6d8" /><ellipse cx="426.9" cy="944.6" rx="4.4" ry="3.5" fill="#f5c6d8" /><ellipse cx="533.0" cy="1005.6" rx="3.4" ry="2.7" fill="#f5c6d8" /><ellipse cx="397.5" cy="965.2" rx="3.1" ry="2.5" fill="#f5c6d8" /><ellipse cx="495.7" cy="1026.4" rx="1.9" ry="1.5" fill="#f5c6d8" /><ellipse cx="519.9" cy="1018.1" rx="2.3" ry="1.9" fill="#f5c6d8" /><ellipse cx="400.3" cy="1013.5" rx="3.5" ry="2.8" fill="#f5c6d8" /><ellipse cx="398.8" cy="1012.4" rx="2.0" ry="1.6" fill="#f5c6d8" /><ellipse cx="407.4" cy="952.6" rx="3.1" ry="2.5" fill="#f5c6d8" /><ellipse cx="393.5" cy="976.6" rx="4.3" ry="3.4" fill="#f5c6d8" /><ellipse cx="526.6" cy="1010.0" rx="4.5" ry="3.6" fill="#f5c6d8" /><ellipse cx="521.6" cy="955.5" rx="2.5" ry="2.0" fill="#f5c6d8" /><ellipse cx="531.6" cy="1004.0" rx="3.7" ry="2.9" fill="#f5c6d8" /><ellipse cx="529.2" cy="964.9" rx="4.3" ry="3.4" fill="#f5c6d8" /><ellipse cx="514.9" cy="958.3" rx="2.3" ry="1.8" fill="#f5c6d8" /><ellipse cx="524.7" cy="962.2" rx="2.2" ry="1.8" fill="#f5c6d8" /><ellipse cx="520.9" cy="964.0" rx="3.4" ry="2.7" fill="#f5c6d8" /><ellipse cx="406.7" cy="1023.2" rx="4.5" ry="3.6" fill="#f5c6d8" /><ellipse cx="501.4" cy="947.9" rx="3.2" ry="2.6" fill="#f5c6d8" /><ellipse cx="528.5" cy="990.1" rx="2.4" ry="1.9" fill="#f5c6d8" /><ellipse cx="518.4" cy="956.7" rx="3.4" ry="2.7" fill="#f5c6d8" /><ellipse cx="399.4" cy="970.3" rx="2.1" ry="1.7" fill="#f5c6d8" /><ellipse cx="412.9" cy="952.2" rx="3.7" ry="3.0" fill="#f5c6d8" /><ellipse cx="528.6" cy="997.5" rx="1.9" ry="1.5" fill="#f5c6d8" /><ellipse cx="522.8" cy="1009.0" rx="3.9" ry="3.1" fill="#f5c6d8" /><ellipse cx="422.8" cy="945.1" rx="3.7" ry="3.0" fill="#f5c6d8" /><ellipse cx="410.5" cy="1018.5" rx="1.9" ry="1.5" fill="#f5c6d8" /><ellipse cx="534.9" cy="972.3" rx="2.0" ry="1.6" fill="#f5c6d8" /><ellipse cx="462.6" cy="940.2" rx="2.2" ry="1.7" fill="#f5c6d8" /><ellipse cx="481.2" cy="943.2" rx="2.7" ry="2.2" fill="#f5c6d8" /><ellipse cx="533.6" cy="1003.3" rx="3.9" ry="3.1" fill="#f5c6d8" /><ellipse cx="404.5" cy="960.3" rx="3.8" ry="3.1" fill="#f5c6d8" /><ellipse cx="478.2" cy="941.3" rx="2.1" ry="1.7" fill="#f5c6d8" /><ellipse cx="396.5" cy="997.4" rx="3.7" ry="3.0" fill="#f5c6d8" /><ellipse cx="496.2" cy="947.1" rx="3.0" ry="2.4" fill="#f5c6d8" /><ellipse cx="393.2" cy="980.6" rx="1.9" ry="1.6" fill="#f5c6d8" /><ellipse cx="423.2" cy="1028.4" rx="4.0" ry="3.2" fill="#f5c6d8" /><ellipse cx="533.5" cy="977.4" rx="3.2" ry="2.6" fill="#f5c6d8" /><ellipse cx="401.9" cy="964.3" rx="4.3" ry="3.5" fill="#f5c6d8" /><ellipse cx="469.6" cy="936.5" rx="3.3" ry="2.7" fill="#f5c6d8" /><ellipse cx="517.4" cy="1015.4" rx="4.3" ry="3.4" fill="#f5c6d8" /><ellipse cx="520.2" cy="958.2" rx="3.5" ry="2.8" fill="#f5c6d8" /><ellipse cx="413.6" cy="1022.2" rx="3.3" ry="2.6" fill="#f5c6d8" /><ellipse cx="525.5" cy="971.2" rx="3.7" ry="2.9" fill="#f5c6d8" /><ellipse cx="409.4" cy="958.1" rx="3.2" ry="2.6" fill="#f5c6d8" /><ellipse cx="510.2" cy="952.3" rx="2.7" ry="2.1" fill="#f5c6d8" /><ellipse cx="389.8" cy="998.6" rx="2.4" ry="1.9" fill="#f5c6d8" /><ellipse cx="424.9" cy="1030.8" rx="3.2" ry="2.5" fill="#f5c6d8" /><ellipse cx="406.8" cy="953.3" rx="3.8" ry="3.0" fill="#f5c6d8" /><ellipse cx="405.9" cy="960.3" rx="4.4" ry="3.5" fill="#f5c6d8" /><ellipse cx="499.7" cy="1027.2" rx="2.2" ry="1.8" fill="#f5c6d8" /><ellipse cx="503.6" cy="1025.3" rx="2.5" ry="2.0" fill="#f5c6d8" /><ellipse cx="521.4" cy="1017.4" rx="4.2" ry="3.4" fill="#f5c6d8" /><ellipse cx="397.3" cy="999.4" rx="3.0" ry="2.4" fill="#f5c6d8" /><ellipse cx="530.5" cy="994.9" rx="1.8" ry="1.5" fill="#f5c6d8" /><ellipse cx="399.1" cy="961.6" rx="3.6" ry="2.9" fill="#f5c6d8" /><ellipse cx="418.1" cy="947.8" rx="3.4" ry="2.7" fill="#f5c6d8" /><ellipse cx="498.3" cy="976.7" rx="4.6" ry="3.7" fill="#f6cad9" opacity="0.8"/><ellipse cx="507.6" cy="986.0" rx="7.5" ry="6.0" fill="#f6cad9" opacity="0.8"/><ellipse cx="493.2" cy="1009.3" rx="6.0" ry="4.8" fill="#f6cad9" opacity="0.8"/><ellipse cx="499.7" cy="1000.3" rx="8.2" ry="6.6" fill="#f6cad9" opacity="0.8"/><ellipse cx="495.8" cy="989.4" rx="8.3" ry="6.6" fill="#f6cad9" opacity="0.8"/><ellipse cx="521.3" cy="991.6" rx="8.4" ry="6.7" fill="#f6cad9" opacity="0.8"/><ellipse cx="495.0" cy="1011.5" rx="4.1" ry="3.2" fill="#f6cad9" opacity="0.8"/><ellipse cx="510.4" cy="1019.1" rx="4.5" ry="3.6" fill="#f6cad9" opacity="0.8"/><ellipse cx="500.6" cy="976.9" rx="7.6" ry="6.1" fill="#f6cad9" opacity="0.8"/><ellipse cx="488.6" cy="1009.5" rx="5.7" ry="4.6" fill="#f6cad9" opacity="0.8"/><ellipse cx="501.0" cy="1012.4" rx="5.0" ry="4.0" fill="#f6cad9" opacity="0.8"/><ellipse cx="495.6" cy="989.1" rx="8.0" ry="6.4" fill="#f6cad9" opacity="0.8"/><ellipse cx="509.4" cy="981.5" rx="7.7" ry="6.2" fill="#f6cad9" opacity="0.8"/><ellipse cx="529.4" cy="985.5" rx="4.9" ry="3.9" fill="#f6cad9" opacity="0.8"/><ellipse cx="528.4" cy="991.4" rx="7.6" ry="6.1" fill="#f6cad9" opacity="0.8"/><ellipse cx="518.8" cy="999.6" rx="5.3" ry="4.2" fill="#f6cad9" opacity="0.8"/><ellipse cx="497.5" cy="985.2" rx="4.4" ry="3.5" fill="#f6cad9" opacity="0.8"/><ellipse cx="498.0" cy="1018.8" rx="7.4" ry="5.9" fill="#f6cad9" opacity="0.8"/><ellipse cx="500.7" cy="993.7" rx="5.5" ry="4.4" fill="#f6cad9" opacity="0.8"/><ellipse cx="527.2" cy="980.0" rx="8.9" ry="7.1" fill="#f6cad9" opacity="0.8"/><ellipse cx="492.4" cy="1027.7" rx="6.3" ry="5.0" fill="#f6cad9" opacity="0.8"/><ellipse cx="510.4" cy="960.4" rx="4.3" ry="3.5" fill="#f6cad9" opacity="0.8"/><ellipse cx="497.4" cy="1004.7" rx="7.2" ry="5.8" fill="#f6cad9" opacity="0.8"/><ellipse cx="517.9" cy="1009.8" rx="4.7" ry="3.8" fill="#f6cad9" opacity="0.8"/><ellipse cx="521.5" cy="1005.4" rx="8.0" ry="6.4" fill="#f6cad9" opacity="0.8"/><ellipse cx="528.6" cy="981.1" rx="7.8" ry="6.2" fill="#f6cad9" opacity="0.8"/><ellipse cx="521.1" cy="1003.6" rx="6.3" ry="5.1" fill="#f6cad9" opacity="0.8"/><ellipse cx="499.3" cy="1004.9" rx="7.5" ry="6.0" fill="#f6cad9" opacity="0.8"/><ellipse cx="523.6" cy="1008.6" rx="7.4" ry="5.9" fill="#f6cad9" opacity="0.8"/><ellipse cx="525.2" cy="988.3" rx="8.0" ry="6.4" fill="#f6cad9" opacity="0.8"/><ellipse cx="518.3" cy="978.0" rx="5.6" ry="4.5" fill="#f6cad9" opacity="0.8"/><ellipse cx="520.2" cy="988.7" rx="4.4" ry="3.5" fill="#f6cad9" opacity="0.8"/><ellipse cx="491.0" cy="1006.7" rx="5.5" ry="4.4" fill="#f6cad9" opacity="0.8"/><ellipse cx="498.9" cy="985.1" rx="6.8" ry="5.5" fill="#f6cad9" opacity="0.8"/><ellipse cx="433.0" cy="962.3" rx="2.7" ry="2.2" fill="#fdf4f7" /><ellipse cx="426.5" cy="963.6" rx="2.8" ry="2.2" fill="#fdf4f7" /><ellipse cx="417.3" cy="959.9" rx="2.5" ry="2.0" fill="#fdf4f7" /><ellipse cx="426.4" cy="965.5" rx="3.3" ry="2.7" fill="#fdf4f7" /><ellipse cx="424.1" cy="964.8" rx="2.4" ry="1.9" fill="#fdf4f7" /><ellipse cx="423.2" cy="962.3" rx="2.5" ry="2.0" fill="#fdf4f7" /><ellipse cx="448.4" cy="959.8" rx="3.3" ry="2.7" fill="#fdf4f7" /><ellipse cx="452.2" cy="955.5" rx="2.2" ry="1.8" fill="#fdf4f7" /><ellipse cx="441.3" cy="954.9" rx="3.4" ry="2.7" fill="#fdf4f7" /><ellipse cx="437.4" cy="958.4" rx="2.5" ry="2.0" fill="#fdf4f7" /><ellipse cx="438.1" cy="951.2" rx="3.5" ry="2.8" fill="#fdf4f7" /><ellipse cx="450.9" cy="954.7" rx="2.9" ry="2.3" fill="#fdf4f7" /><ellipse cx="469.7" cy="976.1" rx="3.2" ry="2.6" fill="#fdf4f7" /><ellipse cx="465.4" cy="968.6" rx="3.5" ry="2.8" fill="#fdf4f7" /><ellipse cx="474.2" cy="968.6" rx="3.3" ry="2.7" fill="#fdf4f7" /><ellipse cx="473.5" cy="972.0" rx="2.7" ry="2.2" fill="#fdf4f7" /><ellipse cx="469.4" cy="971.3" rx="2.7" ry="2.1" fill="#fdf4f7" /><ellipse cx="473.2" cy="968.8" rx="4.2" ry="3.4" fill="#fdf4f7" /><ellipse cx="442.6" cy="980.2" rx="2.8" ry="2.2" fill="#fdf4f7" /><ellipse cx="444.3" cy="990.0" rx="2.1" ry="1.7" fill="#fdf4f7" /><ellipse cx="432.7" cy="984.8" rx="3.8" ry="3.0" fill="#fdf4f7" /><ellipse cx="433.6" cy="982.1" rx="3.7" ry="2.9" fill="#fdf4f7" /><ellipse cx="433.3" cy="980.9" rx="2.9" ry="2.3" fill="#fdf4f7" /><ellipse cx="437.1" cy="987.8" rx="3.4" ry="2.8" fill="#fdf4f7" /><ellipse cx="422.4" cy="987.8" rx="3.2" ry="2.6" fill="#fdf4f7" /><ellipse cx="410.5" cy="985.5" rx="2.8" ry="2.2" fill="#fdf4f7" /><ellipse cx="412.4" cy="989.9" rx="2.6" ry="2.1" fill="#fdf4f7" /><ellipse cx="423.7" cy="993.7" rx="2.7" ry="2.2" fill="#fdf4f7" /><ellipse cx="409.7" cy="989.9" rx="2.8" ry="2.2" fill="#fdf4f7" /><ellipse cx="409.5" cy="992.1" rx="2.3" ry="1.8" fill="#fdf4f7" /><ellipse cx="416.5" cy="1003.9" rx="2.3" ry="1.8" fill="#fdf4f7" /><ellipse cx="406.2" cy="1008.5" rx="4.2" ry="3.4" fill="#fdf4f7" /><ellipse cx="409.3" cy="1007.0" rx="2.9" ry="2.3" fill="#fdf4f7" /><ellipse cx="399.8" cy="1011.2" rx="2.2" ry="1.8" fill="#fdf4f7" /><ellipse cx="412.8" cy="1003.6" rx="3.0" ry="2.4" fill="#fdf4f7" /><ellipse cx="408.8" cy="1006.8" rx="3.1" ry="2.5" fill="#fdf4f7" /><ellipse cx="455.1" cy="1004.9" rx="2.3" ry="1.9" fill="#fdf4f7" /><ellipse cx="444.5" cy="998.4" rx="3.9" ry="3.1" fill="#fdf4f7" /><ellipse cx="454.3" cy="999.7" rx="3.4" ry="2.7" fill="#fdf4f7" /><ellipse cx="458.6" cy="1002.2" rx="3.5" ry="2.8" fill="#fdf4f7" /><ellipse cx="459.7" cy="998.1" rx="2.2" ry="1.8" fill="#fdf4f7" /><ellipse cx="445.5" cy="1001.1" rx="3.9" ry="3.1" fill="#fdf4f7" /><ellipse cx="436.5" cy="1011.8" rx="3.6" ry="2.8" fill="#fdf4f7" /><ellipse cx="421.4" cy="1015.7" rx="2.1" ry="1.7" fill="#fdf4f7" /><ellipse cx="437.4" cy="1015.0" rx="3.3" ry="2.6" fill="#fdf4f7" /><ellipse cx="435.8" cy="1017.7" rx="3.1" ry="2.5" fill="#fdf4f7" /><ellipse cx="433.5" cy="1014.0" rx="2.9" ry="2.3" fill="#fdf4f7" /><ellipse cx="433.2" cy="1015.9" rx="2.1" ry="1.7" fill="#fdf4f7" /><polygon points="410.8,1059.0 420.0,1050.0 426.0,1038.0 428.0,1027.0 424.5,1018.5 428.5,1017.5 434.0,1024.0 438.5,1022.0 441.0,1016.5 445.0,1017.5 443.0,1027.0 438.0,1038.0 435.5,1050.0 435.0,1059.0" fill="#c4736c" /><polyline points="441.0,1020.0 452.0,1010.0 462.0,998.0 461.0,985.0 458.0,970.0" fill="none" stroke="#8d5d69" stroke-width="1.50" stroke-linecap="round" stroke-linejoin="round"/><polyline points="443.0,1026.0 470.0,1010.0 497.0,983.0" fill="none" stroke="#8d5d69" stroke-width="0.80" stroke-linecap="round" stroke-linejoin="round"/><polyline points="441.0,1032.0 475.0,1018.0 498.0,1002.0" fill="none" stroke="#8d5d69" stroke-width="0.80" stroke-linecap="round" stroke-linejoin="round"/><polyline points="428.0,1019.0 423.0,1004.0 414.0,995.0" fill="none" stroke="#8d5d69" stroke-width="0.90" stroke-linecap="round" stroke-linejoin="round"/><polyline points="452.0,1010.0 447.0,996.0 451.0,986.0" fill="none" stroke="#8d5d69" stroke-width="0.90" stroke-linecap="round" stroke-linejoin="round"/><polyline points="462.0,998.0 472.0,985.0 478.0,969.0" fill="none" stroke="#8d5d69" stroke-width="0.90" stroke-linecap="round" stroke-linejoin="round"/><polyline points="423.0,1004.0 430.0,992.0 431.0,984.0" fill="none" stroke="#8d5d69" stroke-width="0.80" stroke-linecap="round" stroke-linejoin="round"/><polyline points="583.0,823.0 587.0,831.0 590.0,838.0" fill="none" stroke="#7b4a50" stroke-width="2.00" stroke-linecap="round" stroke-linejoin="round"/><polyline points="596.0,834.0 607.0,845.0 620.0,851.0 640.0,853.0 658.0,858.0" fill="none" stroke="#7b4a50" stroke-width="1.80" stroke-linecap="round" stroke-linejoin="round"/><polyline points="626.0,834.0 640.0,843.0 657.0,848.0 673.0,855.0 692.0,859.0 712.0,864.0" fill="none" stroke="#7b4a50" stroke-width="1.80" stroke-linecap="round" stroke-linejoin="round"/><polyline points="678.0,823.0 700.0,832.0 722.0,838.0 745.0,852.0 763.0,858.0" fill="none" stroke="#7b4a50" stroke-width="2.00" stroke-linecap="round" stroke-linejoin="round"/><polyline points="700.0,832.0 712.0,845.0 728.0,853.0" fill="none" stroke="#7b4a50" stroke-width="1.40" stroke-linecap="round" stroke-linejoin="round"/><polyline points="520.0,838.0 532.0,836.0 541.0,838.0" fill="none" stroke="#7b4a50" stroke-width="1.30" stroke-linecap="round" stroke-linejoin="round"/><polyline points="505.0,862.0 516.0,858.0 524.0,860.0" fill="none" stroke="#7b4a50" stroke-width="1.20" stroke-linecap="round" stroke-linejoin="round"/><use href="#bl5" transform="translate(703.5 827.4) scale(4.22 3.88) rotate(63)"/><use href="#bl2" transform="translate(655.5 830.7) scale(5.11 4.70) rotate(23)"/><use href="#bl1" transform="translate(608.0 840.1) scale(5.49 5.05) rotate(55)"/><use href="#bl4" transform="translate(682.6 831.3) scale(5.58 5.13) rotate(29)"/><use href="#bl2" transform="translate(624.8 825.1) scale(4.41 4.06) rotate(41)"/><use href="#bl4" transform="translate(633.9 824.0) scale(6.53 6.00) rotate(31)"/><use href="#bl1" transform="translate(702.1 829.2) scale(6.50 5.98) rotate(54)"/><use href="#bl0" transform="translate(516.1 834.2) scale(6.34 5.83) rotate(3)"/><use href="#bl4" transform="translate(591.6 826.7) scale(4.31 3.97) rotate(63)"/><use href="#bl4" transform="translate(586.9 846.2) scale(4.92 4.53) rotate(39)"/><use href="#bl3" transform="translate(650.0 836.4) scale(5.49 5.05) rotate(66)"/><use href="#bl5" transform="translate(650.7 830.1) scale(6.18 5.69) rotate(55)"/><use href="#bl2" transform="translate(639.4 839.9) scale(5.13 4.72) rotate(5)"/><use href="#bl2" transform="translate(553.0 848.7) scale(5.63 5.18) rotate(57)"/><use href="#bl5" transform="translate(609.9 848.8) scale(6.47 5.96) rotate(8)"/><use href="#bl0" transform="translate(681.4 823.3) scale(5.46 5.02) rotate(52)"/><use href="#bl3" transform="translate(686.4 826.5) scale(5.10 4.69) rotate(71)"/><use href="#bl1" transform="translate(503.0 824.7) scale(6.43 5.91) rotate(24)"/><use href="#bl3" transform="translate(679.9 831.0) scale(6.51 5.99) rotate(51)"/><use href="#bl4" transform="translate(573.6 846.8) scale(5.26 4.84) rotate(43)"/><use href="#bl5" transform="translate(557.2 862.0) scale(5.86 5.39) rotate(11)"/><use href="#bl2" transform="translate(669.5 845.6) scale(4.61 4.24) rotate(46)"/><use href="#bl2" transform="translate(620.9 839.7) scale(6.55 6.02) rotate(65)"/><use href="#bl5" transform="translate(646.5 858.8) scale(4.62 4.25) rotate(37)"/><use href="#bl4" transform="translate(591.0 846.5) scale(5.86 5.39) rotate(53)"/><use href="#bl4" transform="translate(515.1 869.5) scale(5.71 5.26) rotate(37)"/><use href="#bl1" transform="translate(695.1 836.3) scale(6.16 5.67) rotate(64)"/><use href="#bl3" transform="translate(592.5 850.7) scale(6.34 5.84) rotate(23)"/><use href="#bl4" transform="translate(657.3 834.9) scale(4.34 4.00) rotate(13)"/><use href="#bl5" transform="translate(652.3 826.7) scale(5.05 4.64) rotate(5)"/><use href="#bl0" transform="translate(561.8 828.0) scale(5.86 5.39) rotate(0)"/><use href="#bl5" transform="translate(630.0 845.8) scale(4.94 4.54) rotate(70)"/><use href="#bl2" transform="translate(662.4 848.3) scale(4.21 3.87) rotate(50)"/><use href="#bl4" transform="translate(646.0 842.0) scale(6.22 5.72) rotate(1)"/><use href="#bl1" transform="translate(493.3 846.6) scale(5.80 5.34) rotate(22)"/><use href="#bl4" transform="translate(615.7 849.3) scale(5.39 4.96) rotate(34)"/><use href="#bl4" transform="translate(699.9 823.3) scale(6.29 5.79) rotate(65)"/><use href="#bl4" transform="translate(570.9 841.5) scale(6.59 6.07) rotate(25)"/><use href="#bl0" transform="translate(655.9 824.7) scale(5.19 4.77) rotate(18)"/><use href="#bl4" transform="translate(638.0 840.8) scale(4.58 4.21) rotate(13)"/><use href="#bl0" transform="translate(559.1 824.3) scale(4.27 3.93) rotate(21)"/><use href="#bl3" transform="translate(687.9 831.5) scale(6.47 5.96) rotate(59)"/><use href="#bl0" transform="translate(654.1 825.7) scale(5.67 5.22) rotate(1)"/><use href="#bl4" transform="translate(520.2 839.5) scale(5.84 5.38) rotate(41)"/><use href="#bl1" transform="translate(681.5 831.4) scale(4.55 4.18) rotate(45)"/><use href="#bl0" transform="translate(699.7 823.4) scale(4.86 4.47) rotate(34)"/><use href="#bl4" transform="translate(661.4 848.7) scale(5.71 5.25) rotate(8)"/><use href="#bl3" transform="translate(597.5 832.1) scale(5.04 4.63) rotate(49)"/><use href="#bl1" transform="translate(604.9 842.5) scale(4.25 3.91) rotate(50)"/><use href="#bl0" transform="translate(572.1 828.3) scale(5.60 5.15) rotate(56)"/><use href="#bl1" transform="translate(659.4 830.7) scale(4.33 3.98) rotate(31)"/><use href="#bl1" transform="translate(556.5 876.7) scale(4.73 4.36) rotate(22)"/><use href="#bl3" transform="translate(502.4 849.2) scale(4.96 4.56) rotate(38)"/><use href="#bl2" transform="translate(689.1 836.9) scale(5.20 4.79) rotate(63)"/><use href="#bl0" transform="translate(616.1 839.8) scale(6.55 6.03) rotate(31)"/><use href="#bl5" transform="translate(606.2 824.0) scale(5.83 5.36) rotate(28)"/><use href="#bl3" transform="translate(605.3 826.9) scale(5.19 4.78) rotate(62)"/><use href="#bl1" transform="translate(575.6 828.3) scale(4.25 3.91) rotate(11)"/><use href="#bl2" transform="translate(602.0 825.0) scale(4.62 4.25) rotate(48)"/><use href="#bl2" transform="translate(559.0 859.1) scale(4.65 4.28) rotate(50)"/><use href="#bl0" transform="translate(598.8 826.6) scale(5.55 5.10) rotate(42)"/><use href="#bl3" transform="translate(509.8 836.8) scale(5.48 5.04) rotate(42)"/><use href="#bl0" transform="translate(663.3 828.0) scale(5.17 4.75) rotate(15)"/><use href="#bl2" transform="translate(567.2 847.0) scale(5.21 4.80) rotate(70)"/><use href="#bl1" transform="translate(657.6 830.3) scale(4.79 4.40) rotate(59)"/><use href="#bl1" transform="translate(688.4 831.6) scale(4.88 4.49) rotate(55)"/><use href="#bl5" transform="translate(596.1 834.5) scale(4.28 3.94) rotate(3)"/><use href="#bl1" transform="translate(589.6 835.9) scale(5.02 4.62) rotate(30)"/><use href="#bl0" transform="translate(507.6 825.1) scale(5.89 5.42) rotate(25)"/><use href="#bl1" transform="translate(550.3 827.4) scale(4.85 4.46) rotate(71)"/><use href="#bl1" transform="translate(620.5 832.5) scale(5.26 4.84) rotate(20)"/><use href="#bl1" transform="translate(677.2 828.6) scale(5.08 4.68) rotate(51)"/><use href="#bl4" transform="translate(611.6 833.2) scale(5.10 4.70) rotate(26)"/><use href="#bl3" transform="translate(689.0 828.2) scale(4.91 4.52) rotate(64)"/><use href="#bl3" transform="translate(550.2 840.3) scale(4.69 4.32) rotate(16)"/><use href="#bl2" transform="translate(617.5 833.6) scale(6.46 5.94) rotate(56)"/><use href="#bl2" transform="translate(620.9 845.2) scale(5.61 5.16) rotate(68)"/><use href="#bl4" transform="translate(562.9 849.8) scale(4.79 4.41) rotate(65)"/><use href="#bl0" transform="translate(703.8 825.4) scale(4.71 4.33) rotate(65)"/><use href="#bl2" transform="translate(497.5 826.5) scale(4.42 4.07) rotate(49)"/><use href="#bl5" transform="translate(569.5 829.0) scale(4.27 3.93) rotate(18)"/><use href="#bl3" transform="translate(671.8 839.8) scale(4.95 4.55) rotate(11)"/><use href="#bl1" transform="translate(682.4 836.8) scale(5.87 5.40) rotate(41)"/><use href="#bl0" transform="translate(688.3 838.8) scale(4.65 4.28) rotate(8)"/><use href="#bl2" transform="translate(641.9 835.0) scale(5.55 5.10) rotate(64)"/><use href="#bl1" transform="translate(540.1 832.3) scale(6.02 5.54) rotate(8)"/><use href="#bl0" transform="translate(509.3 844.8) scale(5.92 5.45) rotate(28)"/><use href="#bl5" transform="translate(529.3 834.4) scale(4.89 4.50) rotate(51)"/><use href="#bl3" transform="translate(672.7 830.6) scale(4.88 4.49) rotate(59)"/><use href="#bl5" transform="translate(645.0 831.5) scale(6.06 5.58) rotate(16)"/><use href="#bl1" transform="translate(527.0 868.0) scale(6.45 5.93) rotate(3)"/><use href="#bl5" transform="translate(502.7 841.0) scale(5.08 4.67) rotate(44)"/><use href="#bl0" transform="translate(608.9 861.4) scale(6.35 5.84) rotate(59)"/><use href="#bl3" transform="translate(545.4 830.6) scale(4.80 4.41) rotate(45)"/><use href="#bl0" transform="translate(600.4 825.0) scale(6.37 5.86) rotate(23)"/><use href="#bl2" transform="translate(593.9 853.2) scale(4.90 4.51) rotate(28)"/><use href="#bl0" transform="translate(511.7 823.9) scale(5.91 5.44) rotate(51)"/><use href="#bl1" transform="translate(532.8 825.0) scale(4.30 3.95) rotate(55)"/><use href="#bl2" transform="translate(650.9 837.5) scale(4.68 4.30) rotate(19)"/><use href="#bl0" transform="translate(630.3 832.6) scale(5.11 4.70) rotate(70)"/><use href="#bl5" transform="translate(591.2 835.4) scale(4.95 4.55) rotate(22)"/><use href="#bl1" transform="translate(570.6 836.4) scale(5.55 5.11) rotate(63)"/><use href="#bl2" transform="translate(571.6 854.6) scale(5.92 5.45) rotate(55)"/><use href="#bl4" transform="translate(686.6 832.6) scale(5.81 5.34) rotate(44)"/><use href="#bl0" transform="translate(681.8 855.0) scale(6.45 5.93) rotate(36)"/><use href="#bl4" transform="translate(661.8 829.9) scale(6.36 5.85) rotate(6)"/><use href="#bl5" transform="translate(523.7 827.1) scale(6.54 6.01) rotate(14)"/><use href="#bl2" transform="translate(623.0 828.9) scale(4.29 3.95) rotate(26)"/><use href="#bl2" transform="translate(570.2 823.2) scale(6.07 5.58) rotate(11)"/><use href="#bl5" transform="translate(696.0 847.8) scale(5.20 4.79) rotate(50)"/><use href="#bl4" transform="translate(689.1 825.3) scale(6.60 6.07) rotate(28)"/><use href="#bl0" transform="translate(506.2 825.9) scale(4.87 4.48) rotate(44)"/><use href="#bl3" transform="translate(699.0 827.6) scale(6.47 5.95) rotate(56)"/><use href="#bl5" transform="translate(514.9 836.5) scale(6.43 5.92) rotate(64)"/><use href="#bl5" transform="translate(568.7 838.1) scale(5.97 5.49) rotate(57)"/><use href="#bl5" transform="translate(528.8 851.6) scale(5.42 4.99) rotate(26)"/><use href="#bl4" transform="translate(587.0 838.0) scale(5.23 4.81) rotate(16)"/><use href="#bl1" transform="translate(522.1 837.1) scale(5.37 4.94) rotate(5)"/><use href="#bl4" transform="translate(579.9 823.1) scale(6.49 5.97) rotate(33)"/><use href="#bl1" transform="translate(612.8 826.9) scale(4.62 4.25) rotate(30)"/><use href="#bl1" transform="translate(553.8 828.0) scale(5.51 5.07) rotate(7)"/><use href="#bl2" transform="translate(513.5 838.2) scale(4.60 4.24) rotate(52)"/><use href="#bl5" transform="translate(588.1 833.4) scale(4.42 4.07) rotate(39)"/><use href="#bl5" transform="translate(600.4 824.1) scale(4.53 4.17) rotate(62)"/><use href="#bl1" transform="translate(625.7 831.9) scale(5.81 5.34) rotate(30)"/><use href="#bl5" transform="translate(610.4 861.3) scale(4.21 3.88) rotate(56)"/><use href="#bl5" transform="translate(669.6 841.7) scale(4.52 4.16) rotate(44)"/><use href="#bl1" transform="translate(698.7 839.2) scale(5.88 5.41) rotate(18)"/><use href="#bl1" transform="translate(582.9 824.0) scale(5.61 5.16) rotate(42)"/><use href="#bl0" transform="translate(541.2 837.5) scale(5.71 5.25) rotate(70)"/><use href="#bl1" transform="translate(573.9 832.5) scale(5.22 4.80) rotate(19)"/><use href="#bl3" transform="translate(668.9 827.6) scale(5.64 5.19) rotate(51)"/><use href="#bl0" transform="translate(700.4 835.5) scale(6.19 5.70) rotate(37)"/><use href="#bl3" transform="translate(585.1 843.5) scale(4.23 3.89) rotate(26)"/><use href="#bl2" transform="translate(599.2 842.1) scale(4.30 3.96) rotate(38)"/><use href="#bl5" transform="translate(659.8 824.1) scale(4.67 4.30) rotate(39)"/><use href="#bl0" transform="translate(692.9 826.1) scale(5.28 4.85) rotate(20)"/><use href="#bl3" transform="translate(498.7 842.5) scale(4.98 4.58) rotate(46)"/><use href="#bl4" transform="translate(577.9 825.0) scale(4.89 4.50) rotate(9)"/><use href="#bl3" transform="translate(671.3 832.4) scale(4.31 3.96) rotate(62)"/><use href="#bl5" transform="translate(602.2 824.3) scale(4.40 4.05) rotate(42)"/><use href="#bl4" transform="translate(619.1 833.5) scale(6.55 6.03) rotate(33)"/><use href="#bl3" transform="translate(668.2 842.0) scale(4.46 4.10) rotate(55)"/><use href="#bl4" transform="translate(653.7 839.4) scale(5.37 4.94) rotate(41)"/><use href="#bl0" transform="translate(527.7 842.6) scale(4.22 3.88) rotate(36)"/><use href="#bl5" transform="translate(625.1 842.0) scale(5.71 5.25) rotate(32)"/><use href="#bl0" transform="translate(531.3 824.0) scale(5.77 5.31) rotate(17)"/><use href="#bl0" transform="translate(638.8 825.2) scale(5.99 5.51) rotate(50)"/><use href="#bl2" transform="translate(601.7 844.2) scale(6.21 5.72) rotate(47)"/><use href="#bl5" transform="translate(601.5 856.0) scale(4.65 4.27) rotate(67)"/><use href="#bl5" transform="translate(709.8 827.2) scale(6.23 5.73) rotate(21)"/><use href="#bl5" transform="translate(769.6 855.5) scale(4.45 4.09) rotate(39)"/><use href="#bl2" transform="translate(684.0 839.1) scale(5.98 5.50) rotate(48)"/><use href="#bl2" transform="translate(688.3 833.8) scale(4.64 4.27) rotate(40)"/><use href="#bl1" transform="translate(741.5 823.3) scale(4.75 4.37) rotate(70)"/><use href="#bl2" transform="translate(773.6 853.6) scale(6.41 5.89) rotate(30)"/><use href="#bl0" transform="translate(678.7 827.1) scale(4.34 3.99) rotate(51)"/><use href="#bl1" transform="translate(760.8 850.5) scale(6.37 5.86) rotate(63)"/><use href="#bl5" transform="translate(710.6 858.9) scale(5.22 4.80) rotate(20)"/><use href="#bl4" transform="translate(682.1 835.0) scale(6.59 6.06) rotate(10)"/><use href="#bl1" transform="translate(710.7 823.9) scale(4.54 4.18) rotate(20)"/><use href="#bl5" transform="translate(766.3 865.9) scale(4.53 4.17) rotate(51)"/><use href="#bl0" transform="translate(752.9 841.5) scale(4.42 4.06) rotate(56)"/><use href="#bl1" transform="translate(764.8 844.8) scale(5.35 4.92) rotate(47)"/><use href="#bl4" transform="translate(704.2 840.8) scale(4.21 3.87) rotate(65)"/><use href="#bl2" transform="translate(719.6 839.5) scale(5.22 4.80) rotate(9)"/><use href="#bl4" transform="translate(677.6 824.9) scale(5.79 5.32) rotate(53)"/><use href="#bl0" transform="translate(699.4 829.8) scale(6.34 5.83) rotate(56)"/><use href="#bl1" transform="translate(683.9 828.0) scale(4.22 3.88) rotate(21)"/><use href="#bl0" transform="translate(706.2 828.9) scale(5.11 4.70) rotate(56)"/><use href="#bl5" transform="translate(730.5 826.4) scale(6.13 5.64) rotate(44)"/><use href="#bl3" transform="translate(767.6 824.3) scale(5.56 5.12) rotate(10)"/><use href="#bl4" transform="translate(748.9 825.8) scale(5.50 5.06) rotate(58)"/><use href="#bl4" transform="translate(738.7 859.0) scale(5.23 4.81) rotate(19)"/><use href="#bl4" transform="translate(721.4 824.3) scale(6.54 6.02) rotate(10)"/><use href="#bl0" transform="translate(710.1 839.1) scale(6.15 5.66) rotate(42)"/><use href="#bl2" transform="translate(684.4 826.9) scale(5.66 5.21) rotate(53)"/><use href="#bl3" transform="translate(721.5 834.9) scale(6.49 5.97) rotate(17)"/><use href="#bl2" transform="translate(733.6 823.6) scale(4.92 4.52) rotate(67)"/><use href="#bl0" transform="translate(687.2 828.6) scale(6.32 5.82) rotate(24)"/><use href="#bl5" transform="translate(763.4 838.5) scale(4.73 4.36) rotate(57)"/><use href="#bl1" transform="translate(697.7 825.4) scale(5.86 5.39) rotate(47)"/><use href="#bl3" transform="translate(741.9 841.9) scale(5.53 5.09) rotate(46)"/><use href="#bl4" transform="translate(769.8 828.5) scale(5.47 5.03) rotate(56)"/><use href="#bl0" transform="translate(676.9 833.4) scale(5.15 4.74) rotate(29)"/><use href="#bl1" transform="translate(734.7 844.2) scale(4.63 4.26) rotate(70)"/><use href="#bl1" transform="translate(735.3 870.7) scale(6.00 5.52) rotate(32)"/><use href="#bl1" transform="translate(680.2 829.4) scale(5.76 5.30) rotate(67)"/><use href="#bl5" transform="translate(711.3 846.4) scale(5.81 5.34) rotate(62)"/><use href="#bl3" transform="translate(746.6 845.3) scale(4.74 4.37) rotate(28)"/><use href="#bl5" transform="translate(759.3 881.5) scale(5.50 5.06) rotate(14)"/><use href="#bl4" transform="translate(707.1 839.6) scale(5.97 5.49) rotate(10)"/><use href="#bl5" transform="translate(715.1 835.8) scale(6.24 5.74) rotate(9)"/><use href="#bl1" transform="translate(689.7 827.0) scale(6.12 5.63) rotate(64)"/><use href="#bl5" transform="translate(743.0 846.9) scale(5.52 5.08) rotate(14)"/><use href="#bl5" transform="translate(741.3 854.0) scale(5.70 5.25) rotate(65)"/><use href="#bl5" transform="translate(676.2 828.1) scale(4.45 4.09) rotate(50)"/><use href="#bl1" transform="translate(707.4 828.9) scale(5.51 5.07) rotate(60)"/><use href="#bl1" transform="translate(695.1 827.5) scale(6.06 5.58) rotate(47)"/><use href="#bl0" transform="translate(717.1 832.9) scale(6.06 5.58) rotate(51)"/><use href="#bl2" transform="translate(714.7 840.1) scale(4.77 4.39) rotate(5)"/><use href="#bl4" transform="translate(679.7 823.2) scale(4.24 3.90) rotate(27)"/><use href="#bl0" transform="translate(773.0 829.7) scale(5.30 4.88) rotate(17)"/><use href="#bl0" transform="translate(761.6 824.1) scale(5.22 4.80) rotate(25)"/><use href="#bl5" transform="translate(737.1 845.7) scale(5.55 5.11) rotate(45)"/><use href="#bl5" transform="translate(737.8 836.0) scale(4.60 4.23) rotate(43)"/><use href="#bl5" transform="translate(755.6 832.6) scale(6.13 5.64) rotate(1)"/><use href="#bl0" transform="translate(687.2 824.2) scale(6.18 5.69) rotate(30)"/><use href="#bl5" transform="translate(676.4 823.2) scale(5.10 4.69) rotate(67)"/><use href="#bl5" transform="translate(686.3 826.3) scale(6.48 5.96) rotate(62)"/><use href="#bl4" transform="translate(709.8 825.6) scale(4.30 3.96) rotate(45)"/><use href="#bl4" transform="translate(770.9 830.2) scale(4.44 4.08) rotate(41)"/><use href="#bl0" transform="translate(767.1 830.8) scale(6.13 5.64) rotate(4)"/><use href="#bl5" transform="translate(734.0 827.5) scale(6.42 5.91) rotate(31)"/><use href="#bl1" transform="translate(768.2 848.7) scale(4.81 4.43) rotate(57)"/><use href="#bl4" transform="translate(763.5 832.9) scale(4.25 3.91) rotate(56)"/><use href="#bl0" transform="translate(766.6 839.2) scale(4.47 4.11) rotate(62)"/><use href="#bl2" transform="translate(748.6 830.6) scale(4.47 4.11) rotate(23)"/><use href="#bl2" transform="translate(749.0 828.2) scale(4.56 4.20) rotate(48)"/><use href="#bl4" transform="translate(744.5 844.1) scale(6.21 5.71) rotate(32)"/><use href="#bl5" transform="translate(697.2 835.5) scale(5.49 5.05) rotate(34)"/><use href="#bl0" transform="translate(711.7 835.5) scale(6.48 5.96) rotate(3)"/><use href="#bl1" transform="translate(764.2 831.5) scale(5.02 4.62) rotate(62)"/><use href="#bl0" transform="translate(756.9 846.1) scale(5.40 4.97) rotate(4)"/><use href="#bl4" transform="translate(678.1 826.4) scale(4.38 4.03) rotate(50)"/><use href="#bl1" transform="translate(489.6 856.8) scale(6.22 5.73) rotate(57)"/><use href="#bl4" transform="translate(492.8 873.8) scale(5.14 4.73) rotate(66)"/><use href="#bl2" transform="translate(510.0 841.5) scale(4.38 4.03) rotate(67)"/><use href="#bl1" transform="translate(476.4 873.1) scale(4.72 4.34) rotate(5)"/><use href="#bl2" transform="translate(500.1 845.8) scale(4.71 4.33) rotate(59)"/><use href="#bl3" transform="translate(474.6 870.1) scale(5.00 4.60) rotate(49)"/><use href="#bl2" transform="translate(501.4 835.9) scale(6.45 5.93) rotate(0)"/><use href="#bl3" transform="translate(491.5 857.0) scale(5.01 4.60) rotate(42)"/><use href="#bl1" transform="translate(486.7 861.3) scale(4.74 4.36) rotate(58)"/><use href="#bl4" transform="translate(489.4 855.7) scale(6.30 5.80) rotate(5)"/><use href="#bl5" transform="translate(486.6 865.5) scale(5.71 5.26) rotate(18)"/><use href="#bl2" transform="translate(501.6 855.8) scale(4.85 4.47) rotate(8)"/><use href="#bl2" transform="translate(473.4 872.4) scale(5.40 4.97) rotate(45)"/><use href="#bl4" transform="translate(489.7 851.7) scale(5.57 5.12) rotate(17)"/><use href="#bl0" transform="translate(498.2 843.1) scale(6.58 6.05) rotate(71)"/><use href="#bl0" transform="translate(484.9 859.4) scale(6.37 5.86) rotate(25)"/><use href="#bl5" transform="translate(518.0 838.8) scale(6.06 5.57) rotate(12)"/><use href="#bl2" transform="translate(509.2 869.3) scale(5.07 4.67) rotate(30)"/><use href="#bl1" transform="translate(509.2 845.7) scale(6.29 5.79) rotate(9)"/><use href="#bl2" transform="translate(493.2 860.2) scale(4.93 4.54) rotate(46)"/><use href="#bl5" transform="translate(500.4 851.5) scale(5.42 4.99) rotate(31)"/><use href="#bl4" transform="translate(508.0 839.1) scale(5.04 4.64) rotate(51)"/><use href="#bl5" transform="translate(502.9 839.7) scale(5.00 4.60) rotate(43)"/><use href="#bl3" transform="translate(493.8 850.9) scale(5.81 5.35) rotate(64)"/><use href="#bl1" transform="translate(474.8 869.0) scale(5.08 4.67) rotate(30)"/><use href="#bl1" transform="translate(494.5 846.2) scale(6.59 6.06) rotate(17)"/><use href="#bl5" transform="translate(478.5 869.1) scale(4.69 4.32) rotate(58)"/><use href="#bl3" transform="translate(481.5 862.7) scale(5.17 4.76) rotate(38)"/><use href="#bl4" transform="translate(499.1 849.1) scale(6.43 5.92) rotate(8)"/><use href="#bl5" transform="translate(497.8 856.0) scale(4.55 4.18) rotate(39)"/><use href="#bl2" transform="translate(783.0 835.0) scale(3.20 2.94) rotate(70)"/><use href="#bl5" transform="translate(800.0 840.0) scale(3.20 2.94) rotate(43)"/><use href="#bl0" transform="translate(812.0 834.0) scale(3.20 2.94) rotate(24)"/><use href="#bl4" transform="translate(826.0 845.0) scale(3.20 2.94) rotate(10)"/><ellipse cx="545.0" cy="868.0" rx="5.0" ry="2.2" fill="#f3a9b8" /><ellipse cx="562.0" cy="875.0" rx="5.0" ry="2.2" fill="#f6b6c6" /><ellipse cx="600.0" cy="860.0" rx="5.0" ry="2.2" fill="#f9ccd6" /><ellipse cx="627.0" cy="872.0" rx="5.0" ry="2.2" fill="#f3a9b8" /><ellipse cx="655.0" cy="866.0" rx="5.0" ry="2.2" fill="#f9ccd6" /><ellipse cx="690.0" cy="880.0" rx="5.0" ry="2.2" fill="#f9ccd6" /><ellipse cx="735.0" cy="872.0" rx="5.0" ry="2.2" fill="#f9ccd6" /><ellipse cx="560.0" cy="852.0" rx="5.0" ry="2.2" fill="#f3a9b8" /><ellipse cx="710.0" cy="868.0" rx="5.0" ry="2.2" fill="#f9ccd6" /><ellipse cx="512.0" cy="884.0" rx="5.0" ry="2.2" fill="#f3a9b8" /><ellipse cx="760.0" cy="866.0" rx="5.0" ry="2.2" fill="#f6b6c6" /><ellipse cx="585.0" cy="884.0" rx="5.0" ry="2.2" fill="#f9ccd6" /><ellipse cx="616.0" cy="852.0" rx="1.6" ry="1.2" fill="#ffffff" /><ellipse cx="648.0" cy="878.0" rx="1.6" ry="1.2" fill="#ffffff" /><ellipse cx="776.0" cy="896.0" rx="1.6" ry="1.2" fill="#ffffff" /><ellipse cx="600.0" cy="900.0" rx="1.6" ry="1.2" fill="#ffffff" /><ellipse cx="700.0" cy="905.0" rx="1.6" ry="1.2" fill="#ffffff" /><path transform="translate(841.0 863.0) scale(1.00 0.90)" d="M0 8C-7 4-13 0-13-4.5C-13-8.5-8-9.5-4-8C-2-7.2 0-5.5 0-4.5C0-5.5 2-7.2 4-8C8-9.5 13-8.5 13-4.5C13 0 7 4 0 8Z" fill="#f6d0d8"/><polygon points="506.7,822.5 844.5,822.5 1027.5,1088.3 322.5,1088.3" fill="none" stroke="#eef0ea" stroke-width="3.4"/></g><polygon points="506.7,822.5 844.5,822.5 1027.5,1088.3 322.5,1088.3" fill="none" stroke="#9a9a9a" stroke-width="1.3"/>
<path d="M337.5 1086.5L508.5 830.5H843.5L1011.7 1086.5" fill="none" stroke="#fff" stroke-width="5.8"/>
<path d="M337.5 1086.5L508.5 830.5H843.5L1011.7 1086.5" fill="none" stroke="#c30d23" stroke-width="2.4" stroke-dasharray="7 8"/>
<polygon points="495.1,769.0 499.5,769.0 499.5,822.0 509.5,813.5 497.3,841.5 485.1,813.5 495.1,822.0" fill="#c30d23" />
<polygon points="851.1,769.0 855.5,769.0 855.5,822.0 865.5,813.5 853.3,842.0 841.1,813.5 851.1,822.0" fill="#c30d23" />
<polygon points="335.5,998.0 339.9,998.0 339.9,1066.0 350.2,1056.7 337.7,1088.0 325.2,1056.7 335.5,1066.0" fill="#c30d23" />
<polygon points="1012.3,998.0 1016.7,998.0 1016.7,1065.5 1026.5,1056.0 1014.5,1087.0 1002.5,1056.0 1012.3,1065.5" fill="#c30d23" />
<g style="mix-blend-mode:multiply"><rect x="323.3" y="997.6" width="703" height="6.5" fill="#8ccfe9" stroke="#5a9fba" stroke-width="0.8"/></g>
<g style="mix-blend-mode:multiply" clip-path="url(#a2)"><rect x="323.3" y="997.6" width="703" height="6.5" fill="#c9d4f6" opacity="0.5"/></g>
<polygon points="299.0,986.3 335.0,986.3 335.0,997.4 323.0,997.4 323.0,1024.9 299.0,1024.9" fill="#a5a7a7" /><polygon points="1014.2,986.3 1050.8,986.3 1050.8,1024.9 1026.7,1024.9 1026.7,997.4 1014.2,997.4" fill="#a5a7a7" />
<line x1="321.6" y1="1027.0" x2="321.6" y2="1129.0" stroke="#231815" stroke-width="2.3" stroke-dasharray="7 8"/>
<line x1="1027.3" y1="1004.5" x2="1027.3" y2="1129.0" stroke="#231815" stroke-width="2.3" stroke-dasharray="7 8"/>
<line x1="815.5" y1="753.3" x2="1051.7" y2="760.8" stroke="#fff" stroke-width="4.6"/><line x1="815.5" y1="753.3" x2="1051.7" y2="760.8" stroke="#231815" stroke-width="2.3"/><circle cx="815.5" cy="753.3" r="5.3" fill="#231815"/>
<line x1="631.7" y1="925.7" x2="220.3" y2="943.7" stroke="#fff" stroke-width="4.6"/><line x1="631.7" y1="925.7" x2="220.3" y2="943.7" stroke="#231815" stroke-width="2.3"/><circle cx="631.7" cy="925.7" r="5.3" fill="#231815"/>
<line x1="455.0" y1="1111.3" x2="260.0" y2="1122.0" stroke="#fff" stroke-width="4.6"/><line x1="455.0" y1="1111.3" x2="260.0" y2="1122.0" stroke="#231815" stroke-width="2.3"/><circle cx="455.0" cy="1111.3" r="5.3" fill="#231815"/>
</g>
<g id="txt" font-family="&quot;Liberation Sans&quot;, &quot;Noto Sans CJK JP&quot;, sans-serif">
<text x="48" y="87.5" font-size="28.5" fill="#fff" textLength="142" lengthAdjust="spacing">マットあり</text>
<text x="48" y="705.5" font-size="28.5" fill="#fff" textLength="144" lengthAdjust="spacing">マットなし</text>
<text x="1070" y="153" font-size="25.5" fill="#231815">額縁</text>
<text x="1072" y="225" font-size="24.5" fill="#231815">マット</text>
<text x="175.5" y="324" font-size="25" fill="#231815">作品</text>
<text x="285" y="545.5" font-size="25" fill="#231815">裏板</text>
<text x="597" y="550" font-size="25.5" fill="#b81c24" textLength="154" lengthAdjust="spacing">マット窓寸法</text>
<text x="1069.5" y="769" font-size="25.5" fill="#231815">額縁</text>
<text x="159.5" y="953" font-size="25" fill="#231815">作品</text>
<text x="199.5" y="1134" font-size="25" fill="#231815">裏板</text>
<text x="466.5" y="76" font-size="21.8" fill="#231815">額縁サイズ（収容寸法）</text>
<text x="713.1" y="76" font-size="21.5" fill="#231815" text-anchor="middle">＝</text>
<text x="727" y="76" font-size="22.5" font-weight="bold" fill="#231815" textLength="152" lengthAdjust="spacing">(マット外寸法)</text>
<text x="500.5" y="691" font-size="21.8" fill="#231815">額縁サイズ</text>
<text x="610" y="692" font-size="23.4" fill="#231815">（収容寸法）</text>
<text x="747.6" y="690.5" font-size="19.5" fill="#231815" text-anchor="middle">＝</text>
<text x="758.5" y="692" font-size="22.2" font-weight="bold" fill="#231815">作品寸法</text>
</g>
<rect x="0.5" y="0.5" width="1199" height="1199" fill="none" stroke="#e4e4e4" stroke-width="1"/>
</svg>
</body></html>
